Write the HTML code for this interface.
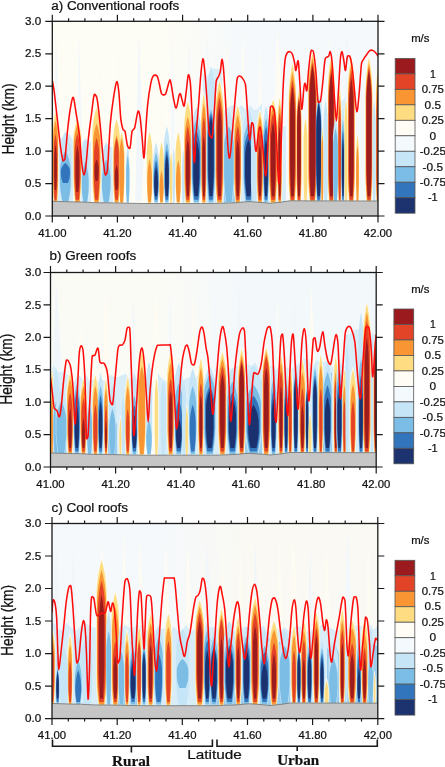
<!DOCTYPE html>
<html><head><meta charset="utf-8"><style>
html,body{margin:0;padding:0;background:#fff;}
svg{display:block;will-change:transform;}
</style></head><body>
<svg width="445" height="767" viewBox="0 0 445 767">
<style>text{fill:#111;stroke:#111;stroke-width:0.22px;}</style>
<defs><filter id="blur" x="-5%" y="-5%" width="110%" height="110%"><feGaussianBlur stdDeviation="0.6"/></filter></defs>
<rect width="445" height="767" fill="#fff"/>
<clipPath id="clipa"><rect x="52.3" y="21.3" width="325.7" height="194.7"/></clipPath>
<g clip-path="url(#clipa)">
<linearGradient id="bga" x1="0" x2="1" y1="0" y2="0"><stop offset="0.35" stop-color="#fdfcf5"/><stop offset="0.6" stop-color="#f5f9fc"/></linearGradient>
<rect x="52.3" y="21.3" width="325.7" height="194.7" fill="url(#bga)"/>
<path d="M55.7,30.3 L60.8,157.6 L58.3,201.3 L52.3,201.3Z" fill="#f3f8fc"/>
<path d="M79.0,33.9 L82.5,157.6 L80.8,201.3 L76.6,201.3Z" fill="#f3f8fc"/>
<path d="M99.4,24.1 L102.4,157.6 L100.9,201.3 L97.4,201.3Z" fill="#fefcf2"/>
<path d="M118.6,33.2 L126.4,157.6 L122.5,201.3 L113.5,201.3Z" fill="#fefcf2"/>
<path d="M138.7,33.8 L143.8,157.6 L141.3,201.3 L135.3,201.3Z" fill="#f1f6fb"/>
<path d="M161.2,25.1 L163.9,157.6 L162.6,201.3 L159.3,201.3Z" fill="#fefcf2"/>
<path d="M172.3,27.8 L174.9,157.6 L173.6,201.3 L170.6,201.3Z" fill="#f3f8fc"/>
<path d="M189.1,34.1 L192.7,157.6 L190.9,201.3 L186.7,201.3Z" fill="#f1f6fb"/>
<path d="M207.4,34.4 L213.8,157.6 L210.6,201.3 L203.2,201.3Z" fill="#f3f8fc"/>
<path d="M226.7,35.5 L232.4,157.6 L229.6,201.3 L222.9,201.3Z" fill="#fefcf2"/>
<path d="M242.7,21.9 L246.5,157.6 L244.6,201.3 L240.2,201.3Z" fill="#fefcf2"/>
<path d="M259.9,38.2 L263.0,157.6 L261.5,201.3 L257.9,201.3Z" fill="#fefcf2"/>
<path d="M277.2,25.6 L285.4,157.6 L281.3,201.3 L271.8,201.3Z" fill="#fefcf2"/>
<path d="M304.1,40.9 L306.8,157.6 L305.4,201.3 L302.3,201.3Z" fill="#f3f8fc"/>
<path d="M317.6,36.9 L320.5,157.6 L319.1,201.3 L315.8,201.3Z" fill="#f1f6fb"/>
<path d="M329.5,21.6 L332.4,157.6 L330.9,201.3 L327.5,201.3Z" fill="#fefcf2"/>
<path d="M346.8,26.2 L354.8,157.6 L350.8,201.3 L341.6,201.3Z" fill="#f1f6fb"/>
<path d="M361.1,24.9 L363.9,157.6 L362.5,201.3 L359.3,201.3Z" fill="#f3f8fc"/>
<path d="M378.7,41.0 L383.8,157.6 L381.2,201.3 L375.3,201.3Z" fill="#f1f6fb"/>
<g filter="url(#blur)">
<path d="M57.0,204.3 L57.0,132.6 L61.0,138.1 L65.0,141.8 L69.0,132.8 L73.0,140.7 L73.0,204.3Z" fill="#d8edf8"/>
<path d="M80.0,204.3 L80.0,144.8 L85.5,139.0 L91.0,142.1 L91.0,204.3Z" fill="#d8edf8"/>
<path d="M100.0,204.3 L100.0,143.1 L104.3,149.8 L108.7,145.9 L113.0,147.5 L113.0,204.3Z" fill="#d8edf8"/>
<path d="M203.0,204.3 L203.0,73.7 L207.8,75.8 L212.5,68.5 L217.2,68.7 L222.0,70.3 L222.0,204.3Z" fill="#d8edf8"/>
<path d="M222.0,204.3 L222.0,112.0 L226.0,108.8 L230.0,106.2 L234.0,105.1 L238.0,107.2 L242.0,105.3 L246.0,109.9 L250.0,105.3 L254.0,110.0 L258.0,109.0 L262.0,103.3 L262.0,204.3Z" fill="#d8edf8"/>
<path d="M262.0,204.3 L262.0,133.0 L266.0,132.1 L270.0,132.4 L274.0,131.1 L278.0,129.6 L282.0,128.0 L286.0,125.5 L286.0,204.3Z" fill="#d8edf8"/>
<path d="M224.0,204.3 L224.0,132.8 L228.0,133.9 L232.0,134.8 L236.0,131.1 L236.0,204.3Z" fill="#9ccdec"/>
<path d="M312.0,204.3 L312.0,91.1 L317.0,99.1 L322.0,100.7 L322.0,204.3Z" fill="#d8edf8"/>
<path d="M340.0,204.3 L340.0,101.9 L343.0,100.6 L346.0,96.3 L346.0,204.3Z" fill="#d8edf8"/>
<path d="M55.5,109.3 56.4,113.0 57.1,116.8 57.7,120.5 58.2,124.2 58.6,128.0 58.8,131.7 58.9,135.4 58.9,181.8 58.6,189.1 58.0,196.5 57.3,203.8 53.7,203.8 53.0,196.5 52.4,189.1 52.1,181.8 52.1,135.4 52.2,131.7 52.4,128.0 52.8,124.2 53.3,120.5 53.9,116.8 54.6,113.0 55.5,109.3Z" fill="#fefcf2"/>
<path d="M77.4,116.0 78.7,119.6 79.6,123.1 80.4,126.7 81.0,130.3 81.5,133.9 81.8,137.4 81.9,141.0 81.9,181.8 81.5,189.1 80.8,196.5 79.9,203.8 74.9,203.8 74.0,196.5 73.3,189.1 72.9,181.8 72.9,141.0 73.0,137.4 73.3,133.9 73.8,130.3 74.4,126.7 75.2,123.1 76.1,119.6 77.4,116.0Z" fill="#fefcf2"/>
<path d="M96.6,104.9 97.9,108.8 98.9,112.7 99.7,116.6 100.4,120.5 100.9,124.4 101.2,128.3 101.3,132.2 101.3,181.8 100.9,189.1 100.1,196.5 99.2,203.8 94.0,203.8 93.1,196.5 92.3,189.1 91.9,181.8 91.9,132.2 92.0,128.3 92.3,124.4 92.8,120.5 93.5,116.6 94.3,112.7 95.3,108.8 96.6,104.9Z" fill="#fefcf2"/>
<path d="M116.6,116.4 117.7,120.0 118.6,123.5 119.3,127.1 119.9,130.7 120.3,134.3 120.5,137.8 120.6,141.4 120.6,181.8 120.3,189.1 119.6,196.5 118.8,203.8 114.4,203.8 113.6,196.5 112.9,189.1 112.6,181.8 112.6,141.4 112.7,137.8 112.9,134.3 113.3,130.7 113.9,127.1 114.6,123.5 115.5,120.0 116.6,116.4Z" fill="#fefcf2"/>
<path d="M121.7,129.2 122.6,132.8 123.3,136.3 123.9,139.9 124.3,143.5 124.7,147.1 124.9,150.6 125.0,154.2 125.0,181.8 124.7,189.1 124.1,196.5 123.5,203.8 119.8,203.8 119.2,196.5 118.6,189.1 118.3,181.8 118.3,154.2 118.4,150.6 118.6,147.1 119.0,143.5 119.4,139.9 120.0,136.3 120.7,132.8 121.7,129.2Z" fill="#fefcf2"/>
<path d="M149.6,129.2 150.5,132.8 151.2,136.3 151.8,139.9 152.3,143.5 152.7,147.1 152.9,150.6 153.0,154.2 153.0,181.8 152.7,189.1 152.1,196.5 151.4,203.8 147.8,203.8 147.1,196.5 146.5,189.1 146.2,181.8 146.2,154.2 146.3,150.6 146.5,147.1 146.9,143.5 147.4,139.9 148.0,136.3 148.7,132.8 149.6,129.2Z" fill="#fefcf2"/>
<path d="M161.5,139.3 162.3,142.9 163.0,146.4 163.5,150.0 163.9,153.6 164.2,157.2 164.4,160.7 164.5,164.3 164.5,181.8 164.2,189.1 163.7,196.5 163.1,203.8 159.9,203.8 159.3,196.5 158.8,189.1 158.5,181.8 158.5,164.3 158.6,160.7 158.8,157.2 159.1,153.6 159.5,150.0 160.0,146.4 160.7,142.9 161.5,139.3Z" fill="#fefcf2"/>
<path d="M171.1,149.3 171.6,152.9 172.0,156.4 172.4,160.0 172.7,163.6 172.9,167.2 173.0,170.7 173.0,174.3 173.0,184.7 172.9,191.1 172.6,197.4 172.2,203.8 170.0,203.8 169.6,197.4 169.3,191.1 169.2,184.7 169.2,174.3 169.2,170.7 169.3,167.2 169.5,163.6 169.8,160.0 170.2,156.4 170.6,152.9 171.1,149.3Z" fill="#fefcf2"/>
<path d="M178.2,129.2 179.2,132.8 179.9,136.3 180.5,139.9 180.9,143.5 181.3,147.1 181.5,150.6 181.6,154.2 181.6,181.8 181.3,189.1 180.7,196.5 180.1,203.8 176.4,203.8 175.8,196.5 175.2,189.1 174.9,181.8 174.9,154.2 175.0,150.6 175.2,147.1 175.6,143.5 176.0,139.9 176.6,136.3 177.3,132.8 178.2,129.2Z" fill="#fefcf2"/>
<path d="M187.8,98.7 189.0,102.8 189.9,107.0 190.6,111.1 191.2,115.2 191.7,119.3 191.9,123.5 192.0,127.6 192.0,181.8 191.6,189.1 191.0,196.5 190.1,203.8 185.5,203.8 184.6,196.5 184.0,189.1 183.6,181.8 183.6,127.6 183.7,123.5 183.9,119.3 184.4,115.2 185.0,111.1 185.7,107.0 186.6,102.8 187.8,98.7Z" fill="#fefcf2"/>
<path d="M203.8,91.0 204.8,95.4 205.5,99.8 206.1,104.2 206.5,108.7 206.9,113.1 207.1,117.5 207.2,121.9 207.2,181.8 206.9,189.1 206.3,196.5 205.7,203.8 202.0,203.8 201.4,196.5 200.8,189.1 200.5,181.8 200.5,121.9 200.6,117.5 200.8,113.1 201.2,108.7 201.6,104.2 202.2,99.8 202.9,95.4 203.8,91.0Z" fill="#fefcf2"/>
<path d="M219.5,77.8 220.8,82.7 221.8,87.6 222.6,92.5 223.3,97.4 223.8,102.3 224.1,107.2 224.2,112.1 224.2,181.8 223.8,189.1 223.0,196.5 222.1,203.8 217.0,203.8 216.0,196.5 215.3,189.1 214.9,181.8 214.9,112.1 215.0,107.2 215.3,102.3 215.7,97.4 216.4,92.5 217.2,87.6 218.2,82.7 219.5,77.8Z" fill="#fefcf2"/>
<path d="M237.8,102.4 238.9,106.4 239.8,110.4 240.5,114.4 241.1,118.4 241.6,122.4 241.8,126.3 241.9,130.3 241.9,181.8 241.6,189.1 240.9,196.5 240.0,203.8 235.5,203.8 234.6,196.5 233.9,189.1 233.6,181.8 233.6,130.3 233.7,126.3 233.9,122.4 234.4,118.4 235.0,114.4 235.7,110.4 236.6,106.4 237.8,102.4Z" fill="#fefcf2"/>
<path d="M259.9,108.0 260.9,111.8 261.7,115.6 262.4,119.3 262.9,123.1 263.3,126.9 263.6,130.7 263.6,134.5 263.6,181.8 263.3,189.1 262.7,196.5 262.0,203.8 257.8,203.8 257.1,196.5 256.5,189.1 256.2,181.8 256.2,134.5 256.2,130.7 256.5,126.9 256.9,123.1 257.4,119.3 258.1,115.6 258.9,111.8 259.9,108.0Z" fill="#fefcf2"/>
<path d="M273.1,96.7 274.4,100.9 275.4,105.1 276.3,109.3 276.9,113.5 277.4,117.7 277.7,121.9 277.8,126.1 277.8,181.8 277.4,189.1 276.7,196.5 275.7,203.8 270.6,203.8 269.6,196.5 268.9,189.1 268.5,181.8 268.5,126.1 268.6,121.9 268.9,117.7 269.4,113.5 270.0,109.3 270.9,105.1 271.9,100.9 273.1,96.7Z" fill="#fefcf2"/>
<path d="M279.7,94.8 280.5,99.1 281.1,103.3 281.6,107.6 282.0,111.9 282.2,116.2 282.4,120.4 282.5,124.7 282.5,181.8 282.2,189.1 281.8,196.5 281.2,203.8 278.2,203.8 277.6,196.5 277.2,189.1 276.9,181.8 276.9,124.7 277.0,120.4 277.2,116.2 277.4,111.9 277.8,107.6 278.3,103.3 278.9,99.1 279.7,94.8Z" fill="#fefcf2"/>
<path d="M292.4,61.0 293.7,66.5 294.6,72.1 295.4,77.6 296.0,83.1 296.4,88.6 296.7,94.2 296.8,99.7 296.8,181.8 296.4,189.1 295.7,196.5 294.8,203.8 290.1,203.8 289.2,196.5 288.5,189.1 288.1,181.8 288.1,99.7 288.2,94.2 288.5,88.6 288.9,83.1 289.5,77.6 290.3,72.1 291.2,66.5 292.4,61.0Z" fill="#fefcf2"/>
<path d="M299.0,87.0 299.9,91.6 300.5,96.1 301.1,100.7 301.5,105.3 301.8,109.8 302.0,114.4 302.1,118.9 302.1,181.8 301.8,189.1 301.3,196.5 300.7,203.8 297.3,203.8 296.7,196.5 296.2,189.1 295.9,181.8 295.9,118.9 296.0,114.4 296.2,109.8 296.5,105.3 296.9,100.7 297.5,96.1 298.1,91.6 299.0,87.0Z" fill="#fefcf2"/>
<path d="M305.5,115.0 306.2,118.6 306.7,122.1 307.2,125.7 307.5,129.3 307.8,132.9 307.9,136.4 308.0,140.0 308.0,181.8 307.8,189.1 307.4,196.5 306.9,203.8 304.1,203.8 303.6,196.5 303.2,189.1 303.0,181.8 303.0,140.0 303.1,136.4 303.2,132.9 303.5,129.3 303.8,125.7 304.3,122.1 304.8,118.6 305.5,115.0Z" fill="#fefcf2"/>
<path d="M312.5,50.3 313.9,55.9 314.9,61.4 315.8,67.0 316.5,72.6 317.0,78.2 317.3,83.7 317.4,89.3 317.4,181.8 317.0,189.1 316.2,196.5 315.2,203.8 309.8,203.8 308.8,196.5 308.0,189.1 307.6,181.8 307.6,89.3 307.7,83.7 308.0,78.2 308.5,72.6 309.2,67.0 310.1,61.4 311.1,55.9 312.5,50.3Z" fill="#fefcf2"/>
<path d="M322.2,125.0 322.7,128.6 323.1,132.1 323.4,135.7 323.7,139.3 323.9,142.9 324.0,146.4 324.0,150.0 324.0,181.8 323.9,189.1 323.6,196.5 323.2,203.8 321.3,203.8 320.9,196.5 320.6,189.1 320.5,181.8 320.5,150.0 320.5,146.4 320.6,142.9 320.8,139.3 321.1,135.7 321.4,132.1 321.8,128.6 322.2,125.0Z" fill="#fefcf2"/>
<path d="M331.4,52.4 332.5,58.0 333.4,63.5 334.1,69.1 334.6,74.7 335.1,80.3 335.3,85.8 335.4,91.4 335.4,181.8 335.1,189.1 334.4,196.5 333.6,203.8 329.1,203.8 328.3,196.5 327.6,189.1 327.3,181.8 327.3,91.4 327.4,85.8 327.6,80.3 328.1,74.7 328.6,69.1 329.3,63.5 330.2,58.0 331.4,52.4Z" fill="#fefcf2"/>
<path d="M339.7,83.7 340.3,88.4 340.8,93.1 341.2,97.8 341.5,102.4 341.7,107.1 341.9,111.8 341.9,116.5 341.9,181.8 341.7,189.1 341.4,196.5 340.9,203.8 338.5,203.8 338.0,196.5 337.7,189.1 337.5,181.8 337.5,116.5 337.5,111.8 337.7,107.1 337.9,102.4 338.2,97.8 338.6,93.1 339.1,88.4 339.7,83.7Z" fill="#fefcf2"/>
<path d="M346.1,97.0 346.6,101.2 347.1,105.4 347.4,109.6 347.7,113.8 347.9,118.0 348.1,122.1 348.1,126.3 348.1,181.8 347.9,189.1 347.6,196.5 347.2,203.8 344.9,203.8 344.5,196.5 344.2,189.1 344.0,181.8 344.0,126.3 344.0,122.1 344.2,118.0 344.4,113.8 344.7,109.6 345.0,105.4 345.5,101.2 346.1,97.0Z" fill="#fefcf2"/>
<path d="M351.3,54.5 352.4,60.1 353.3,65.6 354.1,71.2 354.6,76.8 355.1,82.4 355.3,87.9 355.4,93.5 355.4,181.8 355.1,189.1 354.4,196.5 353.6,203.8 349.0,203.8 348.2,196.5 347.5,189.1 347.2,181.8 347.2,93.5 347.3,87.9 347.5,82.4 348.0,76.8 348.5,71.2 349.3,65.6 350.2,60.1 351.3,54.5Z" fill="#fefcf2"/>
<path d="M357.5,131.6 358.1,135.2 358.5,138.7 358.9,142.3 359.1,145.9 359.4,149.5 359.5,153.0 359.5,156.6 359.5,181.8 359.3,189.1 359.0,196.5 358.6,203.8 356.4,203.8 356.0,196.5 355.7,189.1 355.5,181.8 355.5,156.6 355.5,153.0 355.6,149.5 355.9,145.9 356.1,142.3 356.5,138.7 356.9,135.2 357.5,131.6Z" fill="#fefcf2"/>
<path d="M369.0,54.5 370.1,60.1 371.0,65.6 371.7,71.2 372.2,76.8 372.7,82.4 372.9,87.9 373.0,93.5 373.0,181.8 372.7,189.1 372.0,196.5 371.2,203.8 366.7,203.8 365.9,196.5 365.2,189.1 364.9,181.8 364.9,93.5 365.0,87.9 365.2,82.4 365.7,76.8 366.2,71.2 366.9,65.6 367.8,60.1 369.0,54.5Z" fill="#fefcf2"/>
<path d="M377.9,62.8 378.6,68.3 379.2,73.7 379.6,79.2 380.0,84.6 380.3,90.1 380.4,95.6 380.5,101.0 380.5,181.8 380.3,189.1 379.9,196.5 379.3,203.8 376.4,203.8 375.9,196.5 375.5,189.1 375.3,181.8 375.3,101.0 375.3,95.6 375.5,90.1 375.8,84.6 376.1,79.2 376.6,73.7 377.1,68.3 377.9,62.8Z" fill="#fefcf2"/>
<path d="M55.5,112.3 56.3,115.6 56.9,118.9 57.3,122.2 57.7,125.5 58.0,128.8 58.2,132.1 58.3,135.4 58.3,181.8 58.0,189.1 57.6,196.5 57.0,203.8 54.0,203.8 53.4,196.5 53.0,189.1 52.7,181.8 52.7,135.4 52.8,132.1 53.0,128.8 53.3,125.5 53.7,122.2 54.1,118.9 54.7,115.6 55.5,112.3Z" fill="#fddc82"/>
<path d="M55.5,120.5 56.2,123.5 56.7,126.5 57.2,129.5 57.5,132.5 57.8,135.5 57.9,138.5 58.0,141.5 58.0,176.3 57.8,185.0 57.4,193.6 56.9,202.3 54.1,202.3 53.6,193.6 53.2,185.0 53.0,176.3 53.0,141.5 53.1,138.5 53.2,135.5 53.5,132.5 53.8,129.5 54.3,126.5 54.8,123.5 55.5,120.5Z" fill="#f99532"/>
<path d="M55.5,134.0 56.0,136.6 56.4,139.1 56.8,141.7 57.0,144.3 57.2,146.9 57.3,149.4 57.4,152.0 57.4,176.8 57.2,184.4 56.9,192.1 56.5,199.8 54.5,199.8 54.1,192.1 53.8,184.4 53.6,176.8 53.6,152.0 53.7,149.4 53.8,146.9 54.0,144.3 54.2,141.7 54.6,139.1 55.0,136.6 55.5,134.0Z" fill="#e34327"/>
<path d="M55.5,145.0 55.9,147.6 56.2,150.1 56.4,152.7 56.6,155.3 56.7,157.9 56.8,160.4 56.8,163.0 56.8,174.2 56.7,179.5 56.5,184.8 56.2,190.0 54.8,190.0 54.5,184.8 54.3,179.5 54.2,174.2 54.2,163.0 54.2,160.4 54.3,157.9 54.4,155.3 54.6,152.7 54.8,150.1 55.1,147.6 55.5,145.0Z" fill="#9a1a1e"/>
<path d="M65.4,131.5 67.1,134.6 68.4,137.8 69.5,140.9 70.3,144.1 71.0,147.2 71.4,150.4 71.5,153.5 71.5,181.8 71.0,189.1 70.0,196.5 68.7,203.8 62.1,203.8 60.8,196.5 59.8,189.1 59.3,181.8 59.3,153.5 59.4,150.4 59.8,147.2 60.5,144.1 61.3,140.9 62.4,137.8 63.7,134.6 65.4,131.5Z" fill="#c6e6f7"/>
<path d="M65.4,150.6 66.9,153.5 68.0,156.3 69.0,159.2 69.7,162.0 70.3,164.9 70.6,167.7 70.7,170.6 70.7,184.2 70.3,190.2 69.4,196.3 68.3,202.3 62.5,202.3 61.4,196.3 60.5,190.2 60.1,184.2 60.1,170.6 60.2,167.7 60.5,164.9 61.1,162.0 61.8,159.2 62.8,156.3 63.9,153.5 65.4,150.6Z" fill="#7bbde6"/>
<path d="M65.4,163.0 66.7,164.1 67.6,165.3 68.4,166.4 69.1,167.6 69.6,168.7 69.8,169.9 69.9,171.0 69.9,176.0 69.5,178.3 68.8,180.7 67.9,183.0 62.9,183.0 62.0,180.7 61.3,178.3 60.9,176.0 60.9,171.0 61.0,169.9 61.2,168.7 61.7,167.6 62.4,166.4 63.2,165.3 64.1,164.1 65.4,163.0Z" fill="#3375bd"/>
<path d="M77.4,119.0 78.5,122.1 79.3,125.3 80.0,128.4 80.6,131.6 81.0,134.7 81.2,137.9 81.3,141.0 81.3,181.8 81.0,189.1 80.3,196.5 79.5,203.8 75.3,203.8 74.5,196.5 73.8,189.1 73.5,181.8 73.5,141.0 73.6,137.9 73.8,134.7 74.2,131.6 74.8,128.4 75.5,125.3 76.3,122.1 77.4,119.0Z" fill="#fddc82"/>
<path d="M77.4,124.6 78.4,127.5 79.1,130.3 79.8,133.2 80.3,136.0 80.7,138.9 80.9,141.7 81.0,144.6 81.0,176.3 80.6,185.0 80.1,193.6 79.4,202.3 75.4,202.3 74.7,193.6 74.2,185.0 73.8,176.3 73.8,144.6 73.9,141.7 74.1,138.9 74.5,136.0 75.0,133.2 75.7,130.3 76.4,127.5 77.4,124.6Z" fill="#f99532"/>
<path d="M77.4,134.0 78.2,136.6 78.8,139.1 79.3,141.7 79.7,144.3 80.0,146.9 80.2,149.4 80.3,152.0 80.3,176.8 80.0,184.4 79.6,192.1 79.0,199.8 75.8,199.8 75.2,192.1 74.8,184.4 74.5,176.8 74.5,152.0 74.6,149.4 74.8,146.9 75.1,144.3 75.5,141.7 76.0,139.1 76.6,136.6 77.4,134.0Z" fill="#e34327"/>
<path d="M77.4,145.0 77.9,147.7 78.3,150.4 78.7,153.1 78.9,155.7 79.1,158.4 79.3,161.1 79.3,163.8 79.3,175.6 79.1,181.0 78.8,186.5 78.4,192.0 76.4,192.0 76.0,186.5 75.7,181.0 75.5,175.6 75.5,163.8 75.5,161.1 75.7,158.4 75.9,155.7 76.1,153.1 76.5,150.4 76.9,147.7 77.4,145.0Z" fill="#9a1a1e"/>
<path d="M85.2,138.0 86.3,141.1 87.2,144.3 87.9,147.4 88.4,150.6 88.9,153.7 89.1,156.9 89.2,160.0 89.2,181.8 88.8,189.1 88.2,196.5 87.4,203.8 83.1,203.8 82.3,196.5 81.7,189.1 81.3,181.8 81.3,160.0 81.4,156.9 81.6,153.7 82.1,150.6 82.6,147.4 83.3,144.3 84.2,141.1 85.2,138.0Z" fill="#c6e6f7"/>
<path d="M85.2,161.5 86.2,164.4 86.9,167.2 87.5,170.1 88.0,172.9 88.4,175.8 88.6,178.6 88.7,181.5 88.7,188.0 88.4,192.8 87.8,197.5 87.1,202.3 83.4,202.3 82.7,197.5 82.1,192.8 81.8,188.0 81.8,181.5 81.9,178.6 82.1,175.8 82.5,172.9 83.0,170.1 83.6,167.2 84.3,164.4 85.2,161.5Z" fill="#7bbde6"/>
<path d="M96.6,107.9 97.7,111.4 98.6,114.8 99.3,118.3 99.9,121.8 100.3,125.2 100.6,128.7 100.7,132.2 100.7,181.8 100.3,189.1 99.7,196.5 98.8,203.8 94.4,203.8 93.5,196.5 92.9,189.1 92.5,181.8 92.5,132.2 92.6,128.7 92.9,125.2 93.3,121.8 93.9,118.3 94.6,114.8 95.5,111.4 96.6,107.9Z" fill="#fddc82"/>
<path d="M96.6,123.6 97.6,126.5 98.4,129.4 99.0,132.3 99.5,135.1 99.9,138.0 100.1,140.9 100.2,143.8 100.2,176.3 99.9,185.0 99.3,193.6 98.6,202.3 94.6,202.3 93.9,193.6 93.3,185.0 93.0,176.3 93.0,143.8 93.1,140.9 93.3,138.0 93.7,135.1 94.2,132.3 94.8,129.4 95.6,126.5 96.6,123.6Z" fill="#f99532"/>
<path d="M96.6,138.0 97.4,140.6 97.9,143.1 98.4,145.7 98.8,148.3 99.1,150.9 99.2,153.4 99.3,156.0 99.3,178.2 99.1,185.4 98.6,192.6 98.1,199.8 95.1,199.8 94.6,192.6 94.1,185.4 93.9,178.2 93.9,156.0 94.0,153.4 94.1,150.9 94.4,148.3 94.8,145.7 95.3,143.1 95.8,140.6 96.6,138.0Z" fill="#e34327"/>
<path d="M96.6,159.5 97.2,160.7 97.6,162.0 97.9,163.2 98.2,164.4 98.4,165.6 98.6,166.9 98.6,168.1 98.6,173.5 98.4,176.0 98.1,178.5 97.7,181.0 95.5,181.0 95.1,178.5 94.8,176.0 94.6,173.5 94.6,168.1 94.6,166.9 94.8,165.6 95.0,164.4 95.3,163.2 95.6,162.0 96.0,160.7 96.6,159.5Z" fill="#9a1a1e"/>
<path d="M106.2,142.0 107.6,145.1 108.7,148.3 109.5,151.4 110.2,154.6 110.7,157.7 111.0,160.9 111.1,164.0 111.1,182.2 110.7,189.4 109.9,196.6 108.9,203.8 103.6,203.8 102.6,196.6 101.8,189.4 101.4,182.2 101.4,164.0 101.5,160.9 101.8,157.7 102.3,154.6 103.0,151.4 103.8,148.3 104.9,145.1 106.2,142.0Z" fill="#c6e6f7"/>
<path d="M106.2,159.5 107.4,162.4 108.3,165.2 109.1,168.1 109.7,170.9 110.1,173.8 110.4,176.6 110.5,179.5 110.5,187.3 110.1,192.3 109.5,197.3 108.6,202.3 103.9,202.3 103.0,197.3 102.4,192.3 102.0,187.3 102.0,179.5 102.1,176.6 102.4,173.8 102.8,170.9 103.4,168.1 104.2,165.2 105.1,162.4 106.2,159.5Z" fill="#7bbde6"/>
<path d="M116.6,119.4 117.6,122.5 118.3,125.7 118.9,128.8 119.4,132.0 119.7,135.1 119.9,138.3 120.0,141.4 120.0,181.8 119.7,189.1 119.2,196.5 118.5,203.8 114.7,203.8 114.0,196.5 113.5,189.1 113.2,181.8 113.2,141.4 113.3,138.3 113.5,135.1 113.8,132.0 114.3,128.8 114.9,125.7 115.6,122.5 116.6,119.4Z" fill="#fddc82"/>
<path d="M116.6,135.0 117.4,137.9 118.1,140.7 118.6,143.6 119.0,146.4 119.3,149.3 119.5,152.1 119.6,155.0 119.6,178.7 119.3,186.6 118.8,194.4 118.2,202.3 115.0,202.3 114.4,194.4 113.9,186.6 113.6,178.7 113.6,155.0 113.7,152.1 113.9,149.3 114.2,146.4 114.6,143.6 115.1,140.7 115.8,137.9 116.6,135.0Z" fill="#f99532"/>
<path d="M116.6,138.0 117.3,140.6 117.8,143.1 118.2,145.7 118.5,148.3 118.8,150.9 118.9,153.4 119.0,156.0 119.0,178.2 118.8,185.4 118.4,192.6 117.9,199.8 115.3,199.8 114.8,192.6 114.4,185.4 114.2,178.2 114.2,156.0 114.3,153.4 114.4,150.9 114.7,148.3 115.0,145.7 115.4,143.1 115.9,140.6 116.6,138.0Z" fill="#e34327"/>
<path d="M116.6,165.0 117.1,166.4 117.4,167.9 117.7,169.3 118.0,170.7 118.1,172.1 118.2,173.6 118.3,175.0 118.3,181.2 118.1,184.2 117.9,187.1 117.5,190.0 115.7,190.0 115.3,187.1 115.1,184.2 114.9,181.2 114.9,175.0 115.0,173.6 115.1,172.1 115.2,170.7 115.5,169.3 115.8,167.9 116.1,166.4 116.6,165.0Z" fill="#9a1a1e"/>
<path d="M121.7,132.2 122.4,135.3 123.0,138.5 123.5,141.6 123.8,144.8 124.1,147.9 124.3,151.1 124.4,154.2 124.4,181.8 124.1,189.1 123.7,196.5 123.1,203.8 120.2,203.8 119.6,196.5 119.2,189.1 118.9,181.8 118.9,154.2 119.0,151.1 119.2,147.9 119.5,144.8 119.8,141.6 120.3,138.5 120.9,135.3 121.7,132.2Z" fill="#fddc82"/>
<path d="M121.7,138.0 122.3,140.9 122.9,143.7 123.3,146.6 123.6,149.4 123.9,152.3 124.1,155.1 124.1,158.0 124.1,179.8 123.9,187.3 123.5,194.8 123.0,202.3 120.3,202.3 119.8,194.8 119.4,187.3 119.2,179.8 119.2,158.0 119.2,155.1 119.4,152.3 119.7,149.4 120.0,146.6 120.4,143.7 121.0,140.9 121.7,138.0Z" fill="#f99532"/>
<path d="M127.8,145.0 128.3,148.1 128.7,151.3 129.0,154.4 129.2,157.6 129.4,160.7 129.5,163.9 129.6,167.0 129.6,183.2 129.4,190.1 129.1,196.9 128.8,203.8 126.7,203.8 126.4,196.9 126.1,190.1 125.9,183.2 125.9,167.0 126.0,163.9 126.1,160.7 126.3,157.6 126.5,154.4 126.8,151.3 127.2,148.1 127.8,145.0Z" fill="#c6e6f7"/>
<path d="M127.8,155.0 128.2,157.9 128.6,160.7 128.9,163.6 129.1,166.4 129.3,169.3 129.4,172.1 129.4,175.0 129.4,185.7 129.3,191.3 129.0,196.8 128.7,202.3 126.8,202.3 126.5,196.8 126.2,191.3 126.1,185.7 126.1,175.0 126.1,172.1 126.2,169.3 126.4,166.4 126.6,163.6 126.9,160.7 127.3,157.9 127.8,155.0Z" fill="#7bbde6"/>
<path d="M149.6,132.2 150.4,135.3 151.0,138.5 151.4,141.6 151.8,144.8 152.1,147.9 152.3,151.1 152.4,154.2 152.4,181.8 152.1,189.1 151.7,196.5 151.1,203.8 148.1,203.8 147.5,196.5 147.1,189.1 146.8,181.8 146.8,154.2 146.9,151.1 147.1,147.9 147.4,144.8 147.8,141.6 148.2,138.5 148.8,135.3 149.6,132.2Z" fill="#fddc82"/>
<path d="M149.6,159.0 150.2,161.9 150.7,164.7 151.1,167.6 151.5,170.4 151.7,173.3 151.8,176.1 151.9,179.0 151.9,187.1 151.7,192.2 151.3,197.2 150.9,202.3 148.3,202.3 147.9,197.2 147.5,192.2 147.3,187.1 147.3,179.0 147.4,176.1 147.5,173.3 147.7,170.4 148.1,167.6 148.5,164.7 149.0,161.9 149.6,159.0Z" fill="#f99532"/>
<path d="M156.1,142.3 156.9,145.4 157.6,148.6 158.1,151.7 158.6,154.9 158.9,158.0 159.1,161.2 159.1,164.3 159.1,182.3 158.9,189.5 158.4,196.6 157.8,203.8 154.4,203.8 153.8,196.6 153.3,189.5 153.1,182.3 153.1,164.3 153.1,161.2 153.3,158.0 153.6,154.9 154.1,151.7 154.6,148.6 155.3,145.4 156.1,142.3Z" fill="#c6e6f7"/>
<path d="M156.1,152.3 156.9,155.2 157.5,158.0 157.9,160.9 158.3,163.7 158.6,166.6 158.8,169.4 158.9,172.3 158.9,184.8 158.6,190.6 158.2,196.5 157.6,202.3 154.6,202.3 154.0,196.5 153.6,190.6 153.3,184.8 153.3,172.3 153.4,169.4 153.6,166.6 153.9,163.7 154.3,160.9 154.7,158.0 155.3,155.2 156.1,152.3Z" fill="#7bbde6"/>
<path d="M156.1,160.0 156.7,162.6 157.2,165.1 157.6,167.7 157.9,170.3 158.2,172.9 158.3,175.4 158.4,178.0 158.4,185.9 158.2,190.5 157.8,195.2 157.3,199.8 154.9,199.8 154.4,195.2 154.0,190.5 153.8,185.9 153.8,178.0 153.9,175.4 154.0,172.9 154.3,170.3 154.6,167.7 155.0,165.1 155.5,162.6 156.1,160.0Z" fill="#3375bd"/>
<path d="M156.1,166.6 156.6,168.9 157.0,171.3 157.4,173.6 157.6,175.9 157.8,178.3 157.9,180.6 158.0,182.9 158.0,185.9 157.8,189.4 157.5,192.8 157.1,196.3 155.1,196.3 154.7,192.8 154.4,189.4 154.2,185.9 154.2,182.9 154.3,180.6 154.4,178.3 154.6,175.9 154.8,173.6 155.2,171.3 155.6,168.9 156.1,166.6Z" fill="#1c3370"/>
<path d="M161.5,142.3 162.2,145.4 162.7,148.6 163.1,151.7 163.4,154.9 163.7,158.0 163.8,161.2 163.9,164.3 163.9,182.3 163.7,189.5 163.3,196.6 162.8,203.8 160.2,203.8 159.7,196.6 159.3,189.5 159.1,182.3 159.1,164.3 159.2,161.2 159.3,158.0 159.6,154.9 159.9,151.7 160.3,148.6 160.8,145.4 161.5,142.3Z" fill="#fddc82"/>
<path d="M161.5,170.0 162.0,172.5 162.5,175.1 162.8,177.6 163.1,180.2 163.3,182.7 163.4,185.2 163.5,187.8 163.5,191.0 163.3,194.8 163.0,198.5 162.6,202.3 160.4,202.3 160.0,198.5 159.7,194.8 159.5,191.0 159.5,187.8 159.6,185.2 159.7,182.7 159.9,180.2 160.2,177.6 160.5,175.1 161.0,172.5 161.5,170.0Z" fill="#f99532"/>
<path d="M166.8,126.5 167.7,129.6 168.3,132.8 168.9,135.9 169.3,139.1 169.6,142.2 169.8,145.4 169.8,148.5 169.8,181.8 169.6,189.1 169.1,196.5 168.5,203.8 165.2,203.8 164.6,196.5 164.1,189.1 163.9,181.8 163.9,148.5 163.9,145.4 164.1,142.2 164.4,139.1 164.8,135.9 165.4,132.8 166.0,129.6 166.8,126.5Z" fill="#c6e6f7"/>
<path d="M166.8,142.3 167.6,145.2 168.2,148.0 168.6,150.9 169.0,153.7 169.3,156.6 169.5,159.4 169.5,162.3 169.5,181.3 169.3,188.3 168.9,195.3 168.3,202.3 165.4,202.3 164.8,195.3 164.4,188.3 164.2,181.3 164.2,162.3 164.2,159.4 164.4,156.6 164.7,153.7 165.1,150.9 165.5,148.0 166.1,145.2 166.8,142.3Z" fill="#7bbde6"/>
<path d="M166.8,150.0 167.5,152.6 167.9,155.1 168.3,157.7 168.7,160.3 168.9,162.9 169.0,165.4 169.1,168.0 169.1,182.4 168.9,188.2 168.5,194.0 168.1,199.8 165.6,199.8 165.2,194.0 164.8,188.2 164.6,182.4 164.6,168.0 164.7,165.4 164.8,162.9 165.0,160.3 165.4,157.7 165.8,155.1 166.2,152.6 166.8,150.0Z" fill="#3375bd"/>
<path d="M166.8,155.0 167.4,157.6 167.8,160.1 168.1,162.7 168.3,165.3 168.5,167.9 168.7,170.4 168.7,173.0 168.7,181.8 168.5,186.7 168.2,191.5 167.9,196.3 165.8,196.3 165.5,191.5 165.2,186.7 165.0,181.8 165.0,173.0 165.0,170.4 165.2,167.9 165.4,165.3 165.6,162.7 165.9,160.1 166.3,157.6 166.8,155.0Z" fill="#1c3370"/>
<path d="M171.1,152.3 171.5,155.4 171.8,158.6 172.0,161.7 172.2,164.9 172.3,168.0 172.4,171.2 172.4,174.3 172.4,185.8 172.3,191.8 172.1,197.8 171.8,203.8 170.4,203.8 170.1,197.8 169.9,191.8 169.8,185.8 169.8,174.3 169.8,171.2 169.9,168.0 170.0,164.9 170.2,161.7 170.4,158.6 170.7,155.4 171.1,152.3Z" fill="#fddc82"/>
<path d="M173.8,148.0 174.1,151.1 174.4,154.3 174.6,157.4 174.8,160.6 175.0,163.7 175.0,166.9 175.1,170.0 175.1,184.3 174.9,190.8 174.7,197.3 174.5,203.8 173.0,203.8 172.8,197.3 172.6,190.8 172.4,184.3 172.4,170.0 172.5,166.9 172.5,163.7 172.7,160.6 172.9,157.4 173.1,154.3 173.4,151.1 173.8,148.0Z" fill="#c6e6f7"/>
<path d="M178.2,132.2 179.0,135.3 179.6,138.5 180.1,141.6 180.4,144.8 180.7,147.9 180.9,151.1 181.0,154.2 181.0,181.8 180.7,189.1 180.3,196.5 179.7,203.8 176.8,203.8 176.2,196.5 175.8,189.1 175.5,181.8 175.5,154.2 175.6,151.1 175.8,147.9 176.1,144.8 176.4,141.6 176.9,138.5 177.5,135.3 178.2,132.2Z" fill="#fddc82"/>
<path d="M178.2,160.0 178.9,162.9 179.4,165.7 179.8,168.6 180.1,171.4 180.3,174.3 180.4,177.1 180.5,180.0 180.5,187.5 180.3,192.4 179.9,197.4 179.5,202.3 177.0,202.3 176.6,197.4 176.2,192.4 176.0,187.5 176.0,180.0 176.1,177.1 176.2,174.3 176.4,171.4 176.7,168.6 177.1,165.7 177.6,162.9 178.2,160.0Z" fill="#f99532"/>
<path d="M183.5,150.0 183.9,153.1 184.3,156.3 184.6,159.4 184.8,162.6 184.9,165.7 185.0,168.9 185.1,172.0 185.1,185.0 184.9,191.2 184.7,197.5 184.4,203.8 182.6,203.8 182.3,197.5 182.1,191.2 181.9,185.0 181.9,172.0 182.0,168.9 182.1,165.7 182.2,162.6 182.4,159.4 182.7,156.3 183.1,153.1 183.5,150.0Z" fill="#c6e6f7"/>
<path d="M187.8,101.7 188.8,105.4 189.6,109.1 190.2,112.8 190.7,116.5 191.1,120.2 191.3,123.9 191.4,127.6 191.4,181.8 191.1,189.1 190.5,196.5 189.8,203.8 185.8,203.8 185.1,196.5 184.5,189.1 184.2,181.8 184.2,127.6 184.3,123.9 184.5,120.2 184.9,116.5 185.4,112.8 186.0,109.1 186.8,105.4 187.8,101.7Z" fill="#fddc82"/>
<path d="M187.8,116.8 188.7,119.9 189.4,123.1 189.9,126.2 190.4,129.4 190.7,132.5 190.9,135.6 191.0,138.8 191.0,176.3 190.7,185.0 190.2,193.6 189.5,202.3 186.1,202.3 185.4,193.6 184.9,185.0 184.6,176.3 184.6,138.8 184.7,135.6 184.9,132.5 185.2,129.4 185.7,126.2 186.2,123.1 186.9,119.9 187.8,116.8Z" fill="#f99532"/>
<path d="M187.8,126.3 188.5,129.1 189.0,131.9 189.4,134.7 189.8,137.4 190.1,140.2 190.2,143.0 190.3,145.8 190.3,174.1 190.1,182.7 189.7,191.2 189.2,199.8 186.4,199.8 185.9,191.2 185.5,182.7 185.3,174.1 185.3,145.8 185.4,143.0 185.5,140.2 185.8,137.4 186.2,134.7 186.6,131.9 187.1,129.1 187.8,126.3Z" fill="#e34327"/>
<path d="M187.8,139.5 188.3,142.1 188.7,144.6 189.0,147.2 189.2,149.8 189.4,152.4 189.5,154.9 189.6,157.5 189.6,176.4 189.4,183.0 189.1,189.7 188.8,196.3 186.8,196.3 186.5,189.7 186.2,183.0 186.0,176.4 186.0,157.5 186.1,154.9 186.2,152.4 186.4,149.8 186.6,147.2 186.9,144.6 187.3,142.1 187.8,139.5Z" fill="#9a1a1e"/>
<path d="M196.3,107.3 197.7,110.8 198.7,114.3 199.6,117.8 200.3,121.3 200.8,124.8 201.1,128.2 201.2,131.7 201.2,181.8 200.8,189.1 200.0,196.5 199.0,203.8 193.6,203.8 192.6,196.5 191.8,189.1 191.4,181.8 191.4,131.7 191.5,128.2 191.8,124.8 192.3,121.3 193.0,117.8 193.9,114.3 194.9,110.8 196.3,107.3Z" fill="#c6e6f7"/>
<path d="M196.3,120.0 197.6,123.0 198.5,126.0 199.3,129.1 200.0,132.1 200.4,135.1 200.7,138.1 200.8,141.1 200.8,176.3 200.4,185.0 199.7,193.6 198.8,202.3 193.8,202.3 192.9,193.6 192.2,185.0 191.8,176.3 191.8,141.1 191.9,138.1 192.2,135.1 192.6,132.1 193.3,129.1 194.1,126.0 195.0,123.0 196.3,120.0Z" fill="#7bbde6"/>
<path d="M196.3,130.0 197.4,132.6 198.2,135.3 198.8,137.9 199.4,140.6 199.8,143.2 200.0,145.9 200.1,148.5 200.1,175.4 199.7,183.5 199.2,191.7 198.4,199.8 194.2,199.8 193.4,191.7 192.9,183.5 192.5,175.4 192.5,148.5 192.6,145.9 192.8,143.2 193.2,140.6 193.8,137.9 194.4,135.3 195.2,132.6 196.3,130.0Z" fill="#3375bd"/>
<path d="M196.3,139.5 197.1,142.1 197.8,144.6 198.3,147.2 198.8,149.8 199.1,152.4 199.3,154.9 199.3,157.5 199.3,176.4 199.1,183.0 198.6,189.7 198.0,196.3 194.6,196.3 194.0,189.7 193.5,183.0 193.3,176.4 193.3,157.5 193.3,154.9 193.5,152.4 193.8,149.8 194.3,147.2 194.8,144.6 195.5,142.1 196.3,139.5Z" fill="#1c3370"/>
<path d="M203.8,94.0 204.6,98.0 205.2,102.0 205.7,106.0 206.0,109.9 206.3,113.9 206.5,117.9 206.6,121.9 206.6,181.8 206.3,189.1 205.9,196.5 205.3,203.8 202.4,203.8 201.8,196.5 201.4,189.1 201.1,181.8 201.1,121.9 201.2,117.9 201.4,113.9 201.7,109.9 202.0,106.0 202.5,102.0 203.1,98.0 203.8,94.0Z" fill="#fddc82"/>
<path d="M203.8,103.5 204.5,107.1 205.1,110.8 205.5,114.4 205.8,118.0 206.1,121.7 206.2,125.3 206.3,128.9 206.3,176.3 206.1,185.0 205.7,193.6 205.2,202.3 202.5,202.3 202.0,193.6 201.6,185.0 201.4,176.3 201.4,128.9 201.5,125.3 201.6,121.7 201.9,118.0 202.2,114.4 202.6,110.8 203.2,107.1 203.8,103.5Z" fill="#f99532"/>
<path d="M203.8,116.8 204.4,119.9 204.8,123.1 205.1,126.2 205.4,129.4 205.6,132.5 205.7,135.6 205.8,138.8 205.8,170.8 205.6,180.4 205.3,190.1 204.9,199.8 202.8,199.8 202.4,190.1 202.1,180.4 201.9,170.8 201.9,138.8 202.0,135.6 202.1,132.5 202.3,129.4 202.6,126.2 202.9,123.1 203.3,119.9 203.8,116.8Z" fill="#e34327"/>
<path d="M203.8,135.8 204.2,138.3 204.5,140.9 204.7,143.5 204.9,146.0 205.1,148.6 205.1,151.2 205.2,153.8 205.2,175.1 205.1,182.2 204.9,189.2 204.6,196.3 203.1,196.3 202.8,189.2 202.6,182.2 202.5,175.1 202.5,153.8 202.6,151.2 202.6,148.6 202.8,146.0 203.0,143.5 203.2,140.9 203.5,138.3 203.8,135.8Z" fill="#9a1a1e"/>
<path d="M211.0,66.0 212.2,71.0 213.2,76.1 214.0,81.1 214.6,86.1 215.1,91.1 215.4,96.2 215.5,101.2 215.5,181.8 215.1,189.1 214.4,196.5 213.4,203.8 208.5,203.8 207.6,196.5 206.9,189.1 206.5,181.8 206.5,101.2 206.6,96.2 206.9,91.1 207.3,86.1 208.0,81.1 208.8,76.1 209.7,71.0 211.0,66.0Z" fill="#c6e6f7"/>
<path d="M211.0,109.2 212.1,112.6 212.9,116.0 213.6,119.5 214.2,122.9 214.6,126.3 214.8,129.7 214.9,133.1 214.9,176.3 214.6,185.0 213.9,193.6 213.1,202.3 208.8,202.3 208.0,193.6 207.4,185.0 207.1,176.3 207.1,133.1 207.1,129.7 207.4,126.3 207.8,122.9 208.4,119.5 209.0,116.0 209.9,112.6 211.0,109.2Z" fill="#7bbde6"/>
<path d="M211.0,113.0 211.9,116.3 212.6,119.6 213.2,122.8 213.7,126.1 214.0,129.4 214.2,132.7 214.3,136.0 214.3,169.8 214.0,179.8 213.5,189.8 212.8,199.8 209.1,199.8 208.5,189.8 207.9,179.8 207.6,169.8 207.6,136.0 207.7,132.7 207.9,129.4 208.3,126.1 208.7,122.8 209.3,119.6 210.0,116.3 211.0,113.0Z" fill="#3375bd"/>
<path d="M211.0,116.8 211.7,119.9 212.3,123.1 212.8,126.2 213.2,129.4 213.5,132.5 213.7,135.6 213.7,138.8 213.7,168.5 213.5,177.8 213.1,187.0 212.5,196.3 209.5,196.3 208.9,187.0 208.4,177.8 208.2,168.5 208.2,138.8 208.3,135.6 208.4,132.5 208.7,129.4 209.1,126.2 209.6,123.1 210.2,119.9 211.0,116.8Z" fill="#1c3370"/>
<path d="M219.5,80.8 220.7,85.3 221.5,89.8 222.2,94.2 222.8,98.7 223.2,103.2 223.5,107.7 223.6,112.1 223.6,181.8 223.2,189.1 222.6,196.5 221.8,203.8 217.3,203.8 216.5,196.5 215.8,189.1 215.5,181.8 215.5,112.1 215.6,107.7 215.8,103.2 216.2,98.7 216.8,94.2 217.5,89.8 218.4,85.3 219.5,80.8Z" fill="#fddc82"/>
<path d="M219.5,90.3 220.6,94.4 221.3,98.5 222.0,102.7 222.5,106.8 222.9,110.9 223.1,115.0 223.2,119.2 223.2,176.3 222.9,185.0 222.3,193.6 221.6,202.3 217.5,202.3 216.7,193.6 216.2,185.0 215.8,176.3 215.8,119.2 215.9,115.0 216.1,110.9 216.5,106.8 217.1,102.7 217.7,98.5 218.5,94.4 219.5,90.3Z" fill="#f99532"/>
<path d="M219.5,97.9 220.4,101.7 221.1,105.6 221.6,109.4 222.1,113.3 222.4,117.1 222.6,120.9 222.6,124.8 222.6,169.8 222.4,179.8 221.9,189.8 221.2,199.8 217.8,199.8 217.2,189.8 216.7,179.8 216.4,169.8 216.4,124.8 216.5,120.9 216.7,117.1 217.0,113.3 217.4,109.4 218.0,105.6 218.7,101.7 219.5,97.9Z" fill="#e34327"/>
<path d="M219.5,107.3 220.2,110.8 220.6,114.3 221.0,117.8 221.4,121.3 221.6,124.8 221.7,128.2 221.8,131.7 221.8,165.2 221.6,175.5 221.2,185.9 220.8,196.3 218.3,196.3 217.8,185.9 217.5,175.5 217.3,165.2 217.3,131.7 217.3,128.2 217.5,124.8 217.7,121.3 218.0,117.8 218.4,114.3 218.9,110.8 219.5,107.3Z" fill="#9a1a1e"/>
<path d="M228.9,111.0 230.4,114.4 231.5,117.7 232.5,121.1 233.2,124.4 233.8,127.8 234.1,131.1 234.3,134.5 234.3,181.8 233.8,189.1 232.9,196.5 231.8,203.8 226.0,203.8 224.9,196.5 224.0,189.1 223.5,181.8 223.5,134.5 223.7,131.1 224.0,127.8 224.6,124.4 225.3,121.1 226.3,117.7 227.4,114.4 228.9,111.0Z" fill="#c6e6f7"/>
<path d="M228.9,126.3 230.2,129.2 231.3,132.0 232.1,134.9 232.8,137.7 233.3,140.6 233.6,143.4 233.7,146.3 233.7,176.3 233.3,185.0 232.6,193.6 231.6,202.3 226.2,202.3 225.2,193.6 224.5,185.0 224.1,176.3 224.1,146.3 224.2,143.4 224.5,140.6 225.0,137.7 225.7,134.9 226.5,132.0 227.6,129.2 228.9,126.3Z" fill="#7bbde6"/>
<path d="M237.8,105.4 238.7,109.0 239.5,112.5 240.1,116.1 240.6,119.6 241.0,123.2 241.2,126.8 241.3,130.3 241.3,181.8 241.0,189.1 240.4,196.5 239.7,203.8 235.8,203.8 235.1,196.5 234.5,189.1 234.2,181.8 234.2,130.3 234.3,126.8 234.5,123.2 234.9,119.6 235.4,116.1 236.0,112.5 236.8,109.0 237.8,105.4Z" fill="#fddc82"/>
<path d="M237.8,114.8 238.6,118.0 239.3,121.2 239.9,124.4 240.4,127.7 240.7,130.9 240.9,134.1 241.0,137.3 241.0,176.3 240.7,185.0 240.2,193.6 239.5,202.3 236.0,202.3 235.3,193.6 234.8,185.0 234.5,176.3 234.5,137.3 234.6,134.1 234.8,130.9 235.1,127.7 235.6,124.4 236.2,121.2 236.9,118.0 237.8,114.8Z" fill="#f99532"/>
<path d="M237.8,126.2 238.5,129.0 239.0,131.8 239.4,134.6 239.8,137.4 240.1,140.1 240.2,142.9 240.3,145.7 240.3,174.0 240.0,182.6 239.7,191.2 239.1,199.8 236.4,199.8 235.8,191.2 235.5,182.6 235.2,174.0 235.2,145.7 235.3,142.9 235.4,140.1 235.7,137.4 236.1,134.6 236.5,131.8 237.0,129.0 237.8,126.2Z" fill="#e34327"/>
<path d="M237.8,139.4 238.2,142.0 238.6,144.5 238.9,147.1 239.2,149.7 239.3,152.3 239.5,154.8 239.5,157.4 239.5,176.4 239.3,183.0 239.1,189.7 238.7,196.3 236.8,196.3 236.4,189.7 236.2,183.0 236.0,176.4 236.0,157.4 236.0,154.8 236.2,152.3 236.3,149.7 236.6,147.1 236.9,144.5 237.3,142.0 237.8,139.4Z" fill="#9a1a1e"/>
<path d="M248.5,109.0 250.0,112.4 251.2,115.9 252.2,119.3 252.9,122.7 253.5,126.1 253.8,129.6 254.0,133.0 254.0,181.8 253.5,189.1 252.6,196.5 251.5,203.8 245.5,203.8 244.4,196.5 243.5,189.1 243.0,181.8 243.0,133.0 243.2,129.6 243.5,126.1 244.1,122.7 244.8,119.3 245.8,115.9 247.0,112.4 248.5,109.0Z" fill="#c6e6f7"/>
<path d="M248.5,122.4 249.9,125.3 250.9,128.3 251.8,131.2 252.5,134.1 253.1,137.1 253.4,140.0 253.5,142.9 253.5,176.3 253.0,185.0 252.3,193.6 251.2,202.3 245.8,202.3 244.7,193.6 244.0,185.0 243.5,176.3 243.5,142.9 243.6,140.0 243.9,137.1 244.5,134.1 245.2,131.2 246.1,128.3 247.1,125.3 248.5,122.4Z" fill="#7bbde6"/>
<path d="M248.5,132.0 249.7,134.6 250.5,137.1 251.3,139.7 251.9,142.3 252.3,144.9 252.6,147.4 252.7,150.0 252.7,176.1 252.3,184.0 251.6,191.9 250.8,199.8 246.2,199.8 245.4,191.9 244.7,184.0 244.3,176.1 244.3,150.0 244.4,147.4 244.7,144.9 245.1,142.3 245.7,139.7 246.5,137.1 247.3,134.6 248.5,132.0Z" fill="#3375bd"/>
<path d="M248.5,139.4 249.4,142.0 250.2,144.5 250.8,147.1 251.2,149.7 251.6,152.3 251.8,154.8 251.9,157.4 251.9,176.4 251.6,183.0 251.0,189.7 250.4,196.3 246.6,196.3 246.0,189.7 245.4,183.0 245.1,176.4 245.1,157.4 245.2,154.8 245.4,152.3 245.8,149.7 246.2,147.1 246.8,144.5 247.6,142.0 248.5,139.4Z" fill="#1c3370"/>
<path d="M253.8,125.0 254.6,128.1 255.2,131.3 255.8,134.4 256.2,137.6 256.5,140.7 256.7,143.9 256.7,147.0 256.7,181.8 256.5,189.1 256.0,196.5 255.4,203.8 252.2,203.8 251.6,196.5 251.1,189.1 250.9,181.8 250.9,147.0 250.9,143.9 251.1,140.7 251.4,137.6 251.8,134.4 252.4,131.3 253.0,128.1 253.8,125.0Z" fill="#c6e6f7"/>
<path d="M259.9,111.0 260.8,114.4 261.4,117.7 262.0,121.1 262.4,124.4 262.8,127.8 263.0,131.1 263.0,134.5 263.0,181.8 262.8,189.1 262.3,196.5 261.6,203.8 258.2,203.8 257.5,196.5 257.0,189.1 256.8,181.8 256.8,134.5 256.8,131.1 257.0,127.8 257.4,124.4 257.8,121.1 258.4,117.7 259.0,114.4 259.9,111.0Z" fill="#fddc82"/>
<path d="M259.9,117.0 260.7,120.1 261.3,123.3 261.8,126.4 262.2,129.5 262.5,132.7 262.7,135.8 262.8,138.9 262.8,176.3 262.5,185.0 262.1,193.6 261.5,202.3 258.3,202.3 257.7,193.6 257.3,185.0 257.0,176.3 257.0,138.9 257.1,135.8 257.3,132.7 257.6,129.5 258.0,126.4 258.5,123.3 259.1,120.1 259.9,117.0Z" fill="#f99532"/>
<path d="M259.9,131.8 260.5,134.4 261.0,137.0 261.4,139.5 261.7,142.1 261.9,144.7 262.0,147.3 262.1,149.9 262.1,176.0 261.9,183.9 261.5,191.9 261.1,199.8 258.7,199.8 258.3,191.9 257.9,183.9 257.7,176.0 257.7,149.9 257.8,147.3 257.9,144.7 258.1,142.1 258.4,139.5 258.8,137.0 259.3,134.4 259.9,131.8Z" fill="#e34327"/>
<path d="M259.9,145.0 260.3,147.6 260.7,150.1 260.9,152.7 261.1,155.3 261.3,157.9 261.4,160.4 261.4,163.0 261.4,178.3 261.3,184.3 261.1,190.3 260.7,196.3 259.1,196.3 258.7,190.3 258.5,184.3 258.4,178.3 258.4,163.0 258.4,160.4 258.5,157.9 258.7,155.3 258.9,152.7 259.1,150.1 259.5,147.6 259.9,145.0Z" fill="#9a1a1e"/>
<path d="M266.0,105.4 266.9,109.0 267.5,112.5 268.1,116.1 268.5,119.6 268.8,123.2 269.0,126.8 269.0,130.3 269.0,181.8 268.8,189.1 268.3,196.5 267.7,203.8 264.4,203.8 263.8,196.5 263.3,189.1 263.1,181.8 263.1,130.3 263.1,126.8 263.3,123.2 263.6,119.6 264.0,116.1 264.6,112.5 265.2,109.0 266.0,105.4Z" fill="#c6e6f7"/>
<path d="M266.0,118.0 266.8,121.1 267.4,124.2 267.9,127.3 268.3,130.4 268.6,133.5 268.7,136.6 268.8,139.7 268.8,176.3 268.6,185.0 268.1,193.6 267.6,202.3 264.5,202.3 264.0,193.6 263.5,185.0 263.3,176.3 263.3,139.7 263.4,136.6 263.5,133.5 263.8,130.4 264.2,127.3 264.7,124.2 265.3,121.1 266.0,118.0Z" fill="#7bbde6"/>
<path d="M266.0,126.2 266.7,129.0 267.2,131.8 267.6,134.6 267.9,137.4 268.2,140.1 268.3,142.9 268.4,145.7 268.4,174.0 268.2,182.6 267.8,191.2 267.3,199.8 264.8,199.8 264.3,191.2 263.9,182.6 263.7,174.0 263.7,145.7 263.8,142.9 263.9,140.1 264.2,137.4 264.5,134.6 264.9,131.8 265.4,129.0 266.0,126.2Z" fill="#3375bd"/>
<path d="M266.0,139.4 266.6,142.0 267.0,144.5 267.3,147.1 267.5,149.7 267.7,152.3 267.9,154.8 267.9,157.4 267.9,176.4 267.7,183.0 267.4,189.7 267.1,196.3 265.0,196.3 264.7,189.7 264.4,183.0 264.2,176.4 264.2,157.4 264.2,154.8 264.4,152.3 264.6,149.7 264.8,147.1 265.1,144.5 265.5,142.0 266.0,139.4Z" fill="#1c3370"/>
<path d="M273.1,99.7 274.3,103.5 275.1,107.2 275.9,111.0 276.4,114.8 276.8,118.6 277.1,122.3 277.2,126.1 277.2,181.8 276.8,189.1 276.2,196.5 275.4,203.8 270.9,203.8 270.1,196.5 269.5,189.1 269.1,181.8 269.1,126.1 269.2,122.3 269.5,118.6 269.9,114.8 270.4,111.0 271.2,107.2 272.0,103.5 273.1,99.7Z" fill="#fddc82"/>
<path d="M273.1,106.0 274.2,109.5 275.0,113.1 275.6,116.6 276.1,120.2 276.5,123.7 276.8,127.2 276.8,130.8 276.8,176.3 276.5,185.0 275.9,193.6 275.2,202.3 271.1,202.3 270.4,193.6 269.8,185.0 269.5,176.3 269.5,130.8 269.5,127.2 269.8,123.7 270.2,120.2 270.7,116.6 271.3,113.1 272.1,109.5 273.1,106.0Z" fill="#f99532"/>
<path d="M273.1,113.0 274.0,116.3 274.7,119.6 275.2,122.8 275.7,126.1 276.0,129.4 276.2,132.7 276.3,136.0 276.3,169.8 276.0,179.8 275.5,189.8 274.9,199.8 271.4,199.8 270.8,189.8 270.3,179.8 270.0,169.8 270.0,136.0 270.1,132.7 270.3,129.4 270.6,126.1 271.1,122.8 271.6,119.6 272.3,116.3 273.1,113.0Z" fill="#e34327"/>
<path d="M273.1,122.4 273.8,125.3 274.2,128.3 274.6,131.2 275.0,134.1 275.2,137.1 275.3,140.0 275.4,142.9 275.4,170.4 275.2,179.1 274.8,187.7 274.4,196.3 271.9,196.3 271.5,187.7 271.1,179.1 270.9,170.4 270.9,142.9 271.0,140.0 271.1,137.1 271.3,134.1 271.7,131.2 272.1,128.3 272.5,125.3 273.1,122.4Z" fill="#9a1a1e"/>
<path d="M279.7,97.8 280.3,101.6 280.8,105.5 281.2,109.3 281.5,113.2 281.7,117.0 281.8,120.9 281.9,124.7 281.9,181.8 281.7,189.1 281.3,196.5 280.9,203.8 278.5,203.8 278.1,196.5 277.7,189.1 277.5,181.8 277.5,124.7 277.6,120.9 277.7,117.0 277.9,113.2 278.2,109.3 278.6,105.5 279.1,101.6 279.7,97.8Z" fill="#fddc82"/>
<path d="M279.7,105.0 280.3,108.6 280.7,112.2 281.0,115.7 281.3,119.3 281.5,122.9 281.7,126.5 281.7,130.0 281.7,176.3 281.5,185.0 281.2,193.6 280.8,202.3 278.6,202.3 278.2,193.6 277.9,185.0 277.7,176.3 277.7,130.0 277.7,126.5 277.9,122.9 278.1,119.3 278.4,115.7 278.7,112.2 279.1,108.6 279.7,105.0Z" fill="#f99532"/>
<path d="M279.7,113.0 280.2,116.3 280.5,119.6 280.8,122.8 281.1,126.1 281.2,129.4 281.3,132.7 281.4,136.0 281.4,169.8 281.2,179.8 281.0,189.8 280.6,199.8 278.8,199.8 278.4,189.8 278.2,179.8 278.0,169.8 278.0,136.0 278.1,132.7 278.2,129.4 278.3,126.1 278.6,122.8 278.9,119.6 279.2,116.3 279.7,113.0Z" fill="#e34327"/>
<path d="M279.7,126.0 280.0,128.8 280.2,131.6 280.4,134.4 280.6,137.2 280.7,140.0 280.8,142.8 280.8,145.6 280.8,171.7 280.7,179.9 280.5,188.1 280.3,196.3 279.1,196.3 278.9,188.1 278.7,179.9 278.6,171.7 278.6,145.6 278.6,142.8 278.7,140.0 278.8,137.2 279.0,134.4 279.2,131.6 279.4,128.8 279.7,126.0Z" fill="#9a1a1e"/>
<path d="M292.4,64.0 293.5,69.1 294.3,74.2 295.0,79.3 295.5,84.4 295.9,89.5 296.1,94.6 296.2,99.7 296.2,181.8 295.9,189.1 295.3,196.5 294.5,203.8 290.4,203.8 289.6,196.5 289.0,189.1 288.7,181.8 288.7,99.7 288.8,94.6 289.0,89.5 289.4,84.4 289.9,79.3 290.6,74.2 291.4,69.1 292.4,64.0Z" fill="#fddc82"/>
<path d="M292.4,72.0 293.4,76.8 294.1,81.6 294.8,86.4 295.2,91.2 295.6,96.0 295.8,100.8 295.9,105.6 295.9,176.3 295.6,185.0 295.0,193.6 294.3,202.3 290.6,202.3 289.9,193.6 289.3,185.0 289.0,176.3 289.0,105.6 289.1,100.8 289.3,96.0 289.7,91.2 290.1,86.4 290.8,81.6 291.5,76.8 292.4,72.0Z" fill="#f99532"/>
<path d="M292.4,80.0 293.3,84.5 293.9,89.0 294.4,93.5 294.8,98.0 295.2,102.5 295.3,107.0 295.4,111.5 295.4,169.8 295.1,179.8 294.7,189.8 294.1,199.8 290.8,199.8 290.2,189.8 289.8,179.8 289.5,169.8 289.5,111.5 289.6,107.0 289.7,102.5 290.1,98.0 290.5,93.5 291.0,89.0 291.6,84.5 292.4,80.0Z" fill="#e34327"/>
<path d="M292.4,86.7 293.1,91.0 293.6,95.2 294.0,99.5 294.3,103.7 294.6,108.0 294.7,112.2 294.8,116.5 294.8,162.3 294.6,173.6 294.2,185.0 293.7,196.3 291.2,196.3 290.7,185.0 290.3,173.6 290.1,162.3 290.1,116.5 290.2,112.2 290.3,108.0 290.6,103.7 290.9,99.5 291.3,95.2 291.8,91.0 292.4,86.7Z" fill="#9a1a1e"/>
<path d="M299.0,90.0 299.7,94.1 300.2,98.3 300.7,102.4 301.0,106.5 301.3,110.7 301.4,114.8 301.5,118.9 301.5,181.8 301.3,189.1 300.9,196.5 300.4,203.8 297.6,203.8 297.1,196.5 296.7,189.1 296.5,181.8 296.5,118.9 296.6,114.8 296.7,110.7 297.0,106.5 297.3,102.4 297.8,98.3 298.3,94.1 299.0,90.0Z" fill="#fddc82"/>
<path d="M299.0,95.0 299.6,98.9 300.1,102.9 300.5,106.8 300.8,110.8 301.1,114.7 301.2,118.7 301.3,122.6 301.3,176.3 301.1,185.0 300.7,193.6 300.3,202.3 297.7,202.3 297.3,193.6 296.9,185.0 296.7,176.3 296.7,122.6 296.8,118.7 296.9,114.7 297.2,110.8 297.5,106.8 297.9,102.9 298.4,98.9 299.0,95.0Z" fill="#f99532"/>
<path d="M299.0,97.0 299.6,100.9 300.0,104.7 300.4,108.6 300.7,112.5 300.9,116.4 301.0,120.2 301.0,124.1 301.0,169.8 300.9,179.8 300.5,189.8 300.1,199.8 297.9,199.8 297.5,189.8 297.1,179.8 297.0,169.8 297.0,124.1 297.0,120.2 297.1,116.4 297.3,112.5 297.6,108.6 298.0,104.7 298.4,100.9 299.0,97.0Z" fill="#e34327"/>
<path d="M299.0,100.0 299.5,103.8 299.9,107.5 300.2,111.3 300.4,115.1 300.6,118.8 300.7,122.6 300.8,126.3 300.8,162.6 300.6,173.8 300.3,185.1 300.0,196.3 298.0,196.3 297.7,185.1 297.4,173.8 297.2,162.6 297.2,126.3 297.3,122.6 297.4,118.8 297.6,115.1 297.8,111.3 298.1,107.5 298.5,103.8 299.0,100.0Z" fill="#9a1a1e"/>
<path d="M305.5,118.0 306.0,121.1 306.4,124.3 306.8,127.4 307.0,130.6 307.2,133.7 307.4,136.9 307.4,140.0 307.4,181.8 307.2,189.1 306.9,196.5 306.5,203.8 304.5,203.8 304.1,196.5 303.8,189.1 303.6,181.8 303.6,140.0 303.6,136.9 303.8,133.7 304.0,130.6 304.2,127.4 304.6,124.3 305.0,121.1 305.5,118.0Z" fill="#fddc82"/>
<path d="M312.5,53.3 313.7,58.4 314.6,63.6 315.4,68.7 316.0,73.9 316.4,79.0 316.7,84.2 316.8,89.3 316.8,181.8 316.4,189.1 315.7,196.5 314.9,203.8 310.1,203.8 309.3,196.5 308.6,189.1 308.2,181.8 308.2,89.3 308.3,84.2 308.6,79.0 309.0,73.9 309.6,68.7 310.4,63.6 311.3,58.4 312.5,53.3Z" fill="#fddc82"/>
<path d="M312.5,58.0 313.6,63.1 314.4,68.3 315.2,73.4 315.7,78.6 316.1,83.7 316.4,88.9 316.5,94.0 316.5,176.3 316.1,185.0 315.5,193.6 314.7,202.3 310.3,202.3 309.5,193.6 308.9,185.0 308.5,176.3 308.5,94.0 308.6,88.9 308.9,83.7 309.3,78.6 309.8,73.4 310.6,68.3 311.4,63.1 312.5,58.0Z" fill="#f99532"/>
<path d="M312.5,62.0 313.5,67.1 314.3,72.3 314.9,77.4 315.4,82.6 315.8,87.7 316.0,92.9 316.1,98.0 316.1,169.8 315.8,179.8 315.2,189.8 314.5,199.8 310.5,199.8 309.8,189.8 309.2,179.8 308.9,169.8 308.9,98.0 309.0,92.9 309.2,87.7 309.6,82.6 310.1,77.4 310.7,72.3 311.5,67.1 312.5,62.0Z" fill="#e34327"/>
<path d="M312.5,65.8 313.4,70.8 314.0,75.9 314.6,80.9 315.0,85.9 315.3,91.0 315.5,96.0 315.6,101.0 315.6,162.3 315.3,173.6 314.8,185.0 314.2,196.3 310.8,196.3 310.2,185.0 309.7,173.6 309.4,162.3 309.4,101.0 309.5,96.0 309.7,91.0 310.0,85.9 310.4,80.9 311.0,75.9 311.6,70.8 312.5,65.8Z" fill="#9a1a1e"/>
<path d="M318.7,95.0 319.5,98.9 320.1,102.9 320.6,106.8 321.0,110.8 321.3,114.7 321.5,118.7 321.5,122.6 321.5,181.8 321.3,189.1 320.8,196.5 320.3,203.8 317.1,203.8 316.6,196.5 316.1,189.1 315.9,181.8 315.9,122.6 315.9,118.7 316.1,114.7 316.4,110.8 316.8,106.8 317.3,102.9 317.9,98.9 318.7,95.0Z" fill="#c6e6f7"/>
<path d="M318.7,98.0 319.4,101.8 320.0,105.7 320.5,109.5 320.9,113.3 321.2,117.2 321.3,121.0 321.4,124.9 321.4,176.3 321.2,185.0 320.7,193.6 320.2,202.3 317.2,202.3 316.7,193.6 316.2,185.0 316.0,176.3 316.0,124.9 316.1,121.0 316.2,117.2 316.5,113.3 316.9,109.5 317.4,105.7 318.0,101.8 318.7,98.0Z" fill="#7bbde6"/>
<path d="M318.7,100.0 319.4,103.8 319.9,107.5 320.4,111.3 320.7,115.1 321.0,118.8 321.1,122.6 321.2,126.3 321.2,169.8 321.0,179.8 320.6,189.8 320.1,199.8 317.3,199.8 316.8,189.8 316.4,179.8 316.2,169.8 316.2,126.3 316.3,122.6 316.4,118.8 316.7,115.1 317.0,111.3 317.5,107.5 318.0,103.8 318.7,100.0Z" fill="#3375bd"/>
<path d="M318.7,103.0 319.3,106.7 319.8,110.3 320.2,114.0 320.5,117.6 320.8,121.3 320.9,124.9 321.0,128.6 321.0,163.6 320.8,174.5 320.4,185.4 319.9,196.3 317.5,196.3 317.0,185.4 316.6,174.5 316.4,163.6 316.4,128.6 316.5,124.9 316.6,121.3 316.9,117.6 317.2,114.0 317.6,110.3 318.1,106.7 318.7,103.0Z" fill="#1c3370"/>
<path d="M322.2,128.0 322.6,131.1 322.8,134.3 323.0,137.4 323.2,140.6 323.3,143.7 323.4,146.9 323.4,150.0 323.4,181.8 323.3,189.1 323.1,196.5 322.9,203.8 321.6,203.8 321.4,196.5 321.2,189.1 321.1,181.8 321.1,150.0 321.1,146.9 321.2,143.7 321.3,140.6 321.5,137.4 321.7,134.3 321.9,131.1 322.2,128.0Z" fill="#fddc82"/>
<path d="M322.2,135.0 322.5,137.9 322.8,140.7 323.0,143.6 323.1,146.4 323.2,149.3 323.3,152.1 323.3,155.0 323.3,178.7 323.2,186.6 323.1,194.4 322.8,202.3 321.7,202.3 321.4,194.4 321.3,186.6 321.2,178.7 321.2,155.0 321.2,152.1 321.3,149.3 321.4,146.4 321.5,143.6 321.7,140.7 322.0,137.9 322.2,135.0Z" fill="#f99532"/>
<path d="M325.6,100.0 326.2,103.8 326.7,107.5 327.1,111.3 327.4,115.1 327.6,118.8 327.8,122.6 327.8,126.3 327.8,181.8 327.6,189.1 327.3,196.5 326.8,203.8 324.4,203.8 323.9,196.5 323.6,189.1 323.4,181.8 323.4,126.3 323.4,122.6 323.6,118.8 323.8,115.1 324.1,111.3 324.5,107.5 325.0,103.8 325.6,100.0Z" fill="#c6e6f7"/>
<path d="M331.4,55.4 332.3,60.5 333.1,65.7 333.7,70.8 334.2,76.0 334.5,81.1 334.7,86.3 334.8,91.4 334.8,181.8 334.5,189.1 334.0,196.5 333.3,203.8 329.4,203.8 328.7,196.5 328.2,189.1 327.9,181.8 327.9,91.4 328.0,86.3 328.2,81.1 328.5,76.0 329.0,70.8 329.6,65.7 330.4,60.5 331.4,55.4Z" fill="#fddc82"/>
<path d="M331.4,62.0 332.2,67.1 332.9,72.3 333.5,77.4 333.9,82.6 334.3,87.7 334.5,92.9 334.5,98.0 334.5,176.3 334.3,185.0 333.8,193.6 333.1,202.3 329.6,202.3 328.9,193.6 328.4,185.0 328.2,176.3 328.2,98.0 328.2,92.9 328.4,87.7 328.8,82.6 329.2,77.4 329.8,72.3 330.5,67.1 331.4,62.0Z" fill="#f99532"/>
<path d="M331.4,68.0 332.1,73.0 332.7,77.9 333.2,82.9 333.6,87.8 333.9,92.8 334.1,97.7 334.2,102.7 334.2,169.8 333.9,179.8 333.5,189.8 332.9,199.8 329.8,199.8 329.2,189.8 328.8,179.8 328.5,169.8 328.5,102.7 328.6,97.7 328.8,92.8 329.1,87.8 329.5,82.9 330.0,77.9 330.6,73.0 331.4,68.0Z" fill="#e34327"/>
<path d="M331.4,72.0 332.0,76.8 332.5,81.6 332.9,86.4 333.3,91.2 333.5,96.0 333.7,100.8 333.7,105.6 333.7,162.3 333.5,173.6 333.1,185.0 332.7,196.3 330.0,196.3 329.6,185.0 329.2,173.6 329.0,162.3 329.0,105.6 329.0,100.8 329.2,96.0 329.4,91.2 329.8,86.4 330.2,81.6 330.7,76.8 331.4,72.0Z" fill="#9a1a1e"/>
<path d="M335.5,118.0 336.2,121.1 336.8,124.3 337.3,127.4 337.6,130.6 337.9,133.7 338.1,136.9 338.1,140.0 338.1,181.8 337.9,189.1 337.5,196.5 336.9,203.8 334.1,203.8 333.5,196.5 333.1,189.1 332.9,181.8 332.9,140.0 332.9,136.9 333.1,133.7 333.4,130.6 333.7,127.4 334.2,124.3 334.8,121.1 335.5,118.0Z" fill="#c6e6f7"/>
<path d="M335.5,128.0 336.2,130.9 336.7,133.7 337.1,136.6 337.5,139.4 337.7,142.3 337.9,145.1 337.9,148.0 337.9,176.3 337.7,185.0 337.3,193.6 336.8,202.3 334.2,202.3 333.7,193.6 333.3,185.0 333.1,176.3 333.1,148.0 333.1,145.1 333.3,142.3 333.5,139.4 333.9,136.6 334.3,133.7 334.8,130.9 335.5,128.0Z" fill="#7bbde6"/>
<path d="M339.7,86.7 340.2,91.0 340.5,95.2 340.8,99.5 341.0,103.7 341.2,108.0 341.3,112.2 341.3,116.5 341.3,181.8 341.2,189.1 340.9,196.5 340.6,203.8 338.8,203.8 338.5,196.5 338.2,189.1 338.1,181.8 338.1,116.5 338.1,112.2 338.2,108.0 338.4,103.7 338.6,99.5 338.9,95.2 339.2,91.0 339.7,86.7Z" fill="#fddc82"/>
<path d="M339.7,95.0 340.1,98.9 340.4,102.9 340.7,106.8 340.9,110.8 341.0,114.7 341.1,118.7 341.2,122.6 341.2,176.3 341.0,185.0 340.8,193.6 340.5,202.3 338.9,202.3 338.6,193.6 338.4,185.0 338.2,176.3 338.2,122.6 338.3,118.7 338.4,114.7 338.5,110.8 338.7,106.8 339.0,102.9 339.3,98.9 339.7,95.0Z" fill="#f99532"/>
<path d="M339.7,105.0 340.0,108.6 340.3,112.2 340.5,115.7 340.7,119.3 340.8,122.9 340.9,126.5 340.9,130.0 340.9,169.8 340.8,179.8 340.6,189.8 340.4,199.8 339.0,199.8 338.8,189.8 338.6,179.8 338.5,169.8 338.5,130.0 338.5,126.5 338.6,122.9 338.7,119.3 338.9,115.7 339.1,112.2 339.4,108.6 339.7,105.0Z" fill="#e34327"/>
<path d="M342.9,107.5 343.4,111.0 343.8,114.5 344.0,118.0 344.3,121.4 344.4,124.9 344.5,128.4 344.6,131.9 344.6,181.8 344.4,189.1 344.2,196.5 343.8,203.8 342.1,203.8 341.7,196.5 341.5,189.1 341.3,181.8 341.3,131.9 341.4,128.4 341.5,124.9 341.6,121.4 341.9,118.0 342.1,114.5 342.5,111.0 342.9,107.5Z" fill="#c6e6f7"/>
<path d="M342.9,120.0 343.4,123.0 343.7,126.0 343.9,129.1 344.2,132.1 344.3,135.1 344.4,138.1 344.4,141.1 344.4,176.3 344.3,185.0 344.1,193.6 343.8,202.3 342.1,202.3 341.8,193.6 341.6,185.0 341.5,176.3 341.5,141.1 341.5,138.1 341.6,135.1 341.7,132.1 342.0,129.1 342.2,126.0 342.5,123.0 342.9,120.0Z" fill="#7bbde6"/>
<path d="M342.9,130.0 343.3,132.6 343.6,135.3 343.8,137.9 344.0,140.6 344.1,143.2 344.2,145.9 344.2,148.5 344.2,175.4 344.1,183.5 343.9,191.7 343.6,199.8 342.3,199.8 342.0,191.7 341.8,183.5 341.7,175.4 341.7,148.5 341.7,145.9 341.8,143.2 341.9,140.6 342.1,137.9 342.3,135.3 342.6,132.6 342.9,130.0Z" fill="#3375bd"/>
<path d="M342.9,138.8 343.2,141.3 343.4,143.9 343.6,146.5 343.8,149.0 343.9,151.6 343.9,154.2 344.0,156.8 344.0,176.2 343.9,182.9 343.7,189.6 343.5,196.3 342.4,196.3 342.2,189.6 342.0,182.9 341.9,176.2 341.9,156.8 342.0,154.2 342.0,151.6 342.1,149.0 342.3,146.5 342.5,143.9 342.7,141.3 342.9,138.8Z" fill="#1c3370"/>
<path d="M346.1,100.0 346.5,103.8 346.8,107.5 347.0,111.3 347.2,115.1 347.4,118.8 347.5,122.6 347.5,126.3 347.5,181.8 347.4,189.1 347.2,196.5 346.9,203.8 345.2,203.8 344.9,196.5 344.7,189.1 344.6,181.8 344.6,126.3 344.6,122.6 344.7,118.8 344.9,115.1 345.1,111.3 345.3,107.5 345.6,103.8 346.1,100.0Z" fill="#fddc82"/>
<path d="M351.3,57.5 352.3,62.6 353.0,67.8 353.7,72.9 354.2,78.1 354.5,83.2 354.7,88.4 354.8,93.5 354.8,181.8 354.5,189.1 354.0,196.5 353.2,203.8 349.4,203.8 348.6,196.5 348.1,189.1 347.8,181.8 347.8,93.5 347.9,88.4 348.1,83.2 348.4,78.1 348.9,72.9 349.6,67.8 350.3,62.6 351.3,57.5Z" fill="#fddc82"/>
<path d="M351.3,64.0 352.2,69.1 352.9,74.2 353.5,79.3 353.9,84.4 354.3,89.5 354.5,94.6 354.5,99.7 354.5,176.3 354.3,185.0 353.7,193.6 353.1,202.3 349.5,202.3 348.9,193.6 348.3,185.0 348.1,176.3 348.1,99.7 348.1,94.6 348.3,89.5 348.7,84.4 349.1,79.3 349.7,74.2 350.4,69.1 351.3,64.0Z" fill="#f99532"/>
<path d="M351.3,70.0 352.1,74.9 352.7,79.8 353.2,84.6 353.6,89.5 353.9,94.4 354.1,99.3 354.1,104.1 354.1,169.8 353.9,179.8 353.5,189.8 352.9,199.8 349.7,199.8 349.1,189.8 348.7,179.8 348.5,169.8 348.5,104.1 348.5,99.3 348.7,94.4 349.0,89.5 349.4,84.6 349.9,79.8 350.5,74.9 351.3,70.0Z" fill="#e34327"/>
<path d="M351.3,78.0 351.9,82.6 352.4,87.2 352.8,91.7 353.2,96.3 353.4,100.9 353.5,105.5 353.6,110.1 353.6,162.3 353.4,173.6 353.0,185.0 352.6,196.3 350.0,196.3 349.6,185.0 349.2,173.6 349.0,162.3 349.0,110.1 349.1,105.5 349.2,100.9 349.4,96.3 349.8,91.7 350.2,87.2 350.7,82.6 351.3,78.0Z" fill="#9a1a1e"/>
<path d="M357.5,134.6 357.9,137.7 358.2,140.9 358.5,144.0 358.7,147.2 358.8,150.3 358.9,153.5 358.9,156.6 358.9,181.8 358.8,189.1 358.6,196.5 358.3,203.8 356.7,203.8 356.4,196.5 356.2,189.1 356.1,181.8 356.1,156.6 356.1,153.5 356.2,150.3 356.3,147.2 356.5,144.0 356.8,140.9 357.1,137.7 357.5,134.6Z" fill="#fddc82"/>
<path d="M357.5,145.0 357.8,147.9 358.1,150.7 358.3,153.6 358.5,156.4 358.6,159.3 358.7,162.1 358.8,165.0 358.8,182.2 358.6,188.9 358.4,195.6 358.2,202.3 356.8,202.3 356.6,195.6 356.4,188.9 356.2,182.2 356.2,165.0 356.3,162.1 356.4,159.3 356.5,156.4 356.7,153.6 356.9,150.7 357.2,147.9 357.5,145.0Z" fill="#f99532"/>
<path d="M369.0,57.5 369.9,62.6 370.7,67.8 371.3,72.9 371.8,78.1 372.1,83.2 372.3,88.4 372.4,93.5 372.4,181.8 372.1,189.1 371.6,196.5 370.9,203.8 367.0,203.8 366.3,196.5 365.8,189.1 365.5,181.8 365.5,93.5 365.6,88.4 365.8,83.2 366.1,78.1 366.6,72.9 367.2,67.8 368.0,62.6 369.0,57.5Z" fill="#fddc82"/>
<path d="M369.0,63.0 369.8,68.1 370.5,73.3 371.1,78.4 371.6,83.5 371.9,88.7 372.1,93.8 372.2,99.0 372.2,176.3 371.9,185.0 371.4,193.6 370.7,202.3 367.2,202.3 366.5,193.6 366.0,185.0 365.7,176.3 365.7,99.0 365.8,93.8 366.0,88.7 366.3,83.5 366.8,78.4 367.4,73.3 368.1,68.1 369.0,63.0Z" fill="#f99532"/>
<path d="M369.0,67.0 369.7,72.0 370.4,77.0 370.9,82.0 371.3,87.0 371.6,91.9 371.8,96.9 371.8,101.9 371.8,169.8 371.6,179.8 371.1,189.8 370.5,199.8 367.4,199.8 366.8,189.8 366.3,179.8 366.1,169.8 366.1,101.9 366.1,96.9 366.3,91.9 366.6,87.0 367.0,82.0 367.5,77.0 368.2,72.0 369.0,67.0Z" fill="#e34327"/>
<path d="M369.0,70.0 369.6,74.9 370.2,79.8 370.6,84.6 371.0,89.5 371.2,94.4 371.4,99.3 371.4,104.1 371.4,162.3 371.2,173.6 370.8,185.0 370.3,196.3 367.6,196.3 367.1,185.0 366.7,173.6 366.5,162.3 366.5,104.1 366.5,99.3 366.7,94.4 366.9,89.5 367.3,84.6 367.7,79.8 368.3,74.9 369.0,70.0Z" fill="#9a1a1e"/>
<path d="M374.2,100.0 374.6,103.8 375.0,107.5 375.3,111.3 375.5,115.1 375.7,118.8 375.8,122.6 375.8,126.3 375.8,181.8 375.7,189.1 375.4,196.5 375.1,203.8 373.3,203.8 372.9,196.5 372.7,189.1 372.5,181.8 372.5,126.3 372.6,122.6 372.7,118.8 372.8,115.1 373.1,111.3 373.4,107.5 373.7,103.8 374.2,100.0Z" fill="#c6e6f7"/>
<path d="M377.9,65.8 378.4,70.8 378.9,75.9 379.2,80.9 379.5,85.9 379.7,91.0 379.9,96.0 379.9,101.0 379.9,181.8 379.7,189.1 379.4,196.5 379.0,203.8 376.8,203.8 376.4,196.5 376.0,189.1 375.9,181.8 375.9,101.0 375.9,96.0 376.0,91.0 376.2,85.9 376.5,80.9 376.9,75.9 377.3,70.8 377.9,65.8Z" fill="#fddc82"/>
<path d="M377.9,75.0 378.4,79.7 378.8,84.4 379.1,89.1 379.4,93.8 379.6,98.5 379.7,103.1 379.7,107.8 379.7,176.3 379.6,185.0 379.3,193.6 378.9,202.3 376.9,202.3 376.5,193.6 376.2,185.0 376.0,176.3 376.0,107.8 376.1,103.1 376.2,98.5 376.4,93.8 376.6,89.1 377.0,84.4 377.4,79.7 377.9,75.0Z" fill="#f99532"/>
<path d="M377.9,90.0 378.3,94.1 378.6,98.3 378.9,102.4 379.1,106.5 379.2,110.7 379.3,114.8 379.4,118.9 379.4,169.8 379.2,179.8 379.0,189.8 378.7,199.8 377.1,199.8 376.8,189.8 376.5,179.8 376.4,169.8 376.4,118.9 376.4,114.8 376.5,110.7 376.7,106.5 376.9,102.4 377.1,98.3 377.5,94.1 377.9,90.0Z" fill="#e34327"/>
</g>
<path d="M50.3,201.3 L56.5,201.4 L62.6,201.6 L68.8,201.8 L75.0,201.9 L81.2,202.0 L87.5,202.3 L93.8,202.7 L100.0,202.8 L106.2,202.8 L112.5,202.9 L118.8,203.0 L125.0,203.2 L131.2,203.3 L137.5,203.4 L143.8,203.5 L150.0,203.5 L156.3,203.5 L162.6,203.5 L168.9,203.5 L175.2,203.5 L181.5,203.5 L187.8,203.5 L194.1,203.5 L200.4,203.5 L206.7,203.5 L213.0,203.5 L219.3,203.3 L225.7,203.1 L232.0,202.9 L238.0,202.6 L244.0,201.9 L250.0,201.6 L256.0,202.1 L262.0,202.5 L270.0,203.3 L280.0,202.3 L290.0,200.8 L296.7,200.8 L303.3,200.8 L310.0,200.9 L316.7,200.9 L323.3,200.9 L330.0,200.9 L336.2,200.9 L342.5,200.9 L348.8,200.9 L355.0,201.0 L361.2,201.0 L367.5,201.0 L373.8,201.0 L380.0,201.0 L380.0,218.0 L50.3,218.0Z" fill="#c6c6c6"/>
<polyline points="50.3,201.3 56.5,201.4 62.6,201.6 68.8,201.8 75.0,201.9 81.2,202.0 87.5,202.3 93.8,202.7 100.0,202.8 106.2,202.8 112.5,202.9 118.8,203.0 125.0,203.2 131.2,203.3 137.5,203.4 143.8,203.5 150.0,203.5 156.3,203.5 162.6,203.5 168.9,203.5 175.2,203.5 181.5,203.5 187.8,203.5 194.1,203.5 200.4,203.5 206.7,203.5 213.0,203.5 219.3,203.3 225.7,203.1 232.0,202.9 238.0,202.6 244.0,201.9 250.0,201.6 256.0,202.1 262.0,202.5 270.0,203.3 280.0,202.3 290.0,200.8 296.7,200.8 303.3,200.8 310.0,200.9 316.7,200.9 323.3,200.9 330.0,200.9 336.2,200.9 342.5,200.9 348.8,200.9 355.0,201.0 361.2,201.0 367.5,201.0 373.8,201.0 380.0,201.0" fill="none" stroke="#7a7a7a" stroke-width="0.9"/>
<path d="M52.5,81.2C52.8,83.1 53.7,87.5 54.2,91.7C55.0,98.3 56.2,109.3 57.3,118.8C58.4,128.2 59.4,138.5 60.4,145.8C61.2,151.7 62.1,158.2 62.9,160.4C63.3,161.5 64.8,159.5 65.0,158.3C65.8,152.8 66.7,138.2 67.7,129.0C68.7,119.8 69.8,111.5 70.8,106.0C71.4,102.5 72.4,96.4 73.3,97.5C74.2,98.6 75.0,106.5 76.0,112.5C77.0,118.8 78.2,124.9 79.2,133.3C80.2,142.1 80.9,155.3 81.7,162.5C82.2,167.4 83.0,173.9 83.8,174.6C84.5,175.3 85.4,169.9 85.8,166.7C86.6,160.2 87.5,147.0 88.5,137.5C89.5,128.0 90.7,120.0 91.7,112.5C92.6,105.4 93.3,97.4 94.2,94.8C94.8,93.3 96.6,96.3 96.9,97.9C97.9,102.8 99.0,112.9 100.0,123.0C101.1,133.6 102.2,149.3 103.1,158.3C103.8,164.8 104.5,172.4 105.2,174.6C105.8,176.2 107.1,172.5 107.3,170.8C108.2,161.8 109.3,135.8 110.4,123.0C111.3,112.9 112.4,105.1 113.5,97.9C114.5,91.4 115.8,82.8 116.7,81.7C117.6,80.6 118.3,87.6 118.8,91.7C119.5,98.2 120.1,112.2 120.8,118.8C121.3,123.0 122.2,127.0 122.9,129.2C123.3,130.3 124.7,130.1 125.0,131.2C125.8,134.2 126.6,142.9 127.5,145.8C127.9,147.1 129.6,149.3 130.0,148.0C130.8,145.5 131.3,134.7 132.1,131.2C132.5,129.7 134.1,129.6 134.6,128.1C135.6,124.6 137.0,113.5 137.9,111.5C138.8,109.5 139.6,114.5 140.0,116.7C140.7,121.2 141.4,130.3 142.1,137.5C142.8,144.7 143.4,158.7 144.0,158.0C144.6,157.3 145.0,142.7 145.6,133.3C146.2,123.9 146.8,113.0 147.7,104.2C148.6,95.8 149.8,88.2 150.8,83.3C151.4,80.3 152.2,77.3 153.3,76.0C154.3,74.8 156.1,74.8 157.1,76.0C158.1,77.3 158.4,80.4 159.2,83.3C160.0,86.4 160.6,91.8 161.7,93.8C162.4,95.0 164.4,95.3 165.4,94.2C166.4,93.1 166.7,90.0 167.5,87.5C168.3,85.0 169.3,79.8 170.0,79.8C170.7,79.8 171.1,84.4 171.7,87.5C172.4,91.0 173.0,96.4 173.8,100.0C174.5,103.2 175.3,108.6 176.2,107.9C177.2,107.2 178.3,98.3 179.0,95.8C179.3,94.8 179.9,93.0 180.4,93.8C180.9,94.5 181.4,97.9 182.1,100.0C182.8,102.1 183.5,107.3 184.2,105.8C184.9,104.3 185.5,97.1 186.2,91.7C187.0,86.3 187.6,76.5 188.3,75.0C189.0,73.5 190.1,79.9 190.4,83.3C191.1,91.7 191.8,109.1 192.5,123.0C193.2,136.9 193.5,160.7 194.2,162.5C194.9,164.3 195.5,143.9 196.2,133.3C197.0,122.7 198.0,112.2 198.8,102.0C199.5,91.8 200.1,82.6 200.8,75.0C201.4,68.5 202.2,59.1 202.9,58.8C203.6,58.4 204.4,67.3 205.0,73.0C205.7,80.6 206.4,91.4 207.1,102.0C207.8,112.6 208.3,127.1 209.2,133.3C209.5,135.3 211.6,139.5 212.1,137.5C213.0,133.9 213.5,122.3 214.2,112.5C214.9,102.7 215.5,87.6 216.2,81.2C216.5,78.9 218.0,77.8 218.8,76.0C219.5,74.2 220.0,72.9 220.4,70.8C221.0,67.9 221.4,59.8 221.9,59.4C222.4,59.0 223.2,65.0 223.5,68.8C224.1,76.2 224.9,88.9 225.6,102.0C226.3,115.1 227.1,133.9 227.7,143.8C228.1,149.5 228.7,156.9 229.2,158.0C229.7,159.1 230.5,153.2 230.8,150.0C231.6,142.0 232.9,124.9 234.0,112.5C235.1,100.1 236.2,85.6 237.1,79.2C237.3,77.7 238.3,76.2 239.2,76.0C240.1,75.8 241.4,76.8 242.3,78.0C243.4,79.5 245.0,81.6 245.4,84.4C246.3,90.4 246.8,102.8 247.5,112.5C248.2,122.2 248.9,137.8 249.6,139.6C250.3,141.4 251.1,125.6 251.7,123.0C252.0,122.0 253.2,124.0 253.3,125.0C254.0,129.9 255.0,148.8 255.8,151.0C256.6,153.2 257.2,141.7 257.9,137.5C258.6,133.3 259.3,126.6 260.0,127.0C260.7,127.4 261.5,134.5 262.1,139.6C263.1,148.2 264.7,176.4 265.8,176.0C266.9,175.6 267.5,149.5 268.3,137.5C269.1,125.5 269.7,112.8 270.4,107.3C270.5,106.4 271.9,105.5 272.5,106.2C273.2,107.2 274.3,109.9 274.6,112.5C275.3,119.1 276.0,131.4 276.7,143.8C277.4,156.1 278.0,181.5 278.8,183.3C279.5,185.1 280.3,165.7 280.8,154.0C281.5,138.0 282.2,108.1 282.9,91.7C283.5,79.2 284.3,67.2 285.0,60.4C285.3,57.3 286.2,54.5 287.1,53.0C287.7,51.9 289.1,51.5 290.0,51.7C290.9,51.9 291.8,52.8 292.3,54.0C293.1,56.1 294.1,60.6 294.7,63.5C295.3,66.3 295.3,70.9 295.9,70.5C296.5,70.1 297.5,59.0 298.2,61.0C298.9,63.0 299.2,73.8 299.8,82.2C300.4,90.6 301.0,108.4 301.7,109.2C302.4,110.0 303.4,91.5 304.0,87.0C304.2,85.5 304.7,82.8 305.2,83.4C305.7,84.0 306.3,93.2 306.9,90.5C307.5,87.8 308.0,75.2 308.8,68.2C309.5,61.2 310.3,53.5 311.1,50.6C311.4,49.6 313.2,50.7 313.4,51.7C314.2,55.2 315.1,63.0 315.8,70.5C316.6,79.3 317.3,96.7 318.1,102.0C318.3,103.0 320.3,102.0 320.5,101.0C321.3,97.5 322.0,89.6 322.8,82.2C323.6,74.8 324.2,63.4 325.2,58.8C325.6,57.1 327.8,57.2 328.7,56.0C329.6,54.8 329.7,50.4 330.3,51.7C330.9,53.0 331.8,58.7 332.2,63.5C332.9,71.7 333.8,88.6 334.5,98.7C335.2,107.6 335.8,121.0 336.4,121.0C337.0,121.0 337.4,107.6 338.0,98.7C338.7,87.8 339.7,67.0 340.4,58.8C340.6,55.9 341.4,51.3 342.0,51.7C342.6,52.1 343.3,57.7 343.9,61.0C344.5,64.3 344.9,71.3 345.5,70.5C346.1,69.7 346.6,58.9 347.4,56.4C347.7,55.5 349.4,55.5 349.8,56.4C350.6,58.3 351.5,62.7 352.1,67.0C352.9,72.8 353.6,81.5 354.4,89.3C355.2,97.1 356.0,110.8 356.8,111.6C357.6,112.4 358.4,101.1 359.1,94.0C359.9,85.6 360.7,69.7 361.5,63.5C361.8,61.4 363.0,60.2 363.8,58.8C364.6,57.4 365.2,56.7 366.2,55.3C367.2,53.9 368.5,51.4 369.7,50.6C370.9,49.8 372.0,50.0 373.2,50.6C374.4,51.2 375.9,53.0 376.7,54.0C377.4,54.8 377.8,56.0 378.0,56.4" fill="none" stroke="#ff0d0d" stroke-width="1.55" stroke-linejoin="round"/>
</g>
<rect x="52.3" y="21.3" width="325.7" height="194.7" fill="none" stroke="#1a1a1a" stroke-width="1.3"/>
<path d="M52.3,21.3V14.8 M52.3,216.0V222.5 M68.6,21.3V18.3 M68.6,216.0V219.0 M84.9,21.3V18.3 M84.9,216.0V219.0 M101.2,21.3V18.3 M101.2,216.0V219.0 M117.4,21.3V14.8 M117.4,216.0V222.5 M133.7,21.3V18.3 M133.7,216.0V219.0 M150.0,21.3V18.3 M150.0,216.0V219.0 M166.3,21.3V18.3 M166.3,216.0V219.0 M182.6,21.3V14.8 M182.6,216.0V222.5 M198.9,21.3V18.3 M198.9,216.0V219.0 M215.1,21.3V18.3 M215.1,216.0V219.0 M231.4,21.3V18.3 M231.4,216.0V219.0 M247.7,21.3V14.8 M247.7,216.0V222.5 M264.0,21.3V18.3 M264.0,216.0V219.0 M280.3,21.3V18.3 M280.3,216.0V219.0 M296.6,21.3V18.3 M296.6,216.0V219.0 M312.9,21.3V14.8 M312.9,216.0V222.5 M329.1,21.3V18.3 M329.1,216.0V219.0 M345.4,21.3V18.3 M345.4,216.0V219.0 M361.7,21.3V18.3 M361.7,216.0V219.0 M378.0,21.3V14.8 M378.0,216.0V222.5 M52.3,216.0H45.3 M378.0,216.0H384.5 M52.3,183.6H45.3 M378.0,183.6H384.5 M52.3,151.1H45.3 M378.0,151.1H384.5 M52.3,118.7H45.3 M378.0,118.7H384.5 M52.3,86.2H45.3 M378.0,86.2H384.5 M52.3,53.8H45.3 M378.0,53.8H384.5 M52.3,21.3H45.3 M378.0,21.3H384.5" stroke="#1a1a1a" stroke-width="1.2" fill="none"/>
<text x="52.3" y="236.8" text-anchor="middle" font-size="10.0" font-family="Liberation Sans, sans-serif" textLength="28.3" lengthAdjust="spacingAndGlyphs">41.00</text>
<text x="117.4" y="236.8" text-anchor="middle" font-size="10.0" font-family="Liberation Sans, sans-serif" textLength="28.3" lengthAdjust="spacingAndGlyphs">41.20</text>
<text x="182.6" y="236.8" text-anchor="middle" font-size="10.0" font-family="Liberation Sans, sans-serif" textLength="28.3" lengthAdjust="spacingAndGlyphs">41.40</text>
<text x="247.7" y="236.8" text-anchor="middle" font-size="10.0" font-family="Liberation Sans, sans-serif" textLength="28.3" lengthAdjust="spacingAndGlyphs">41.60</text>
<text x="312.9" y="236.8" text-anchor="middle" font-size="10.0" font-family="Liberation Sans, sans-serif" textLength="28.3" lengthAdjust="spacingAndGlyphs">41.80</text>
<text x="378.0" y="236.8" text-anchor="middle" font-size="10.0" font-family="Liberation Sans, sans-serif" textLength="28.3" lengthAdjust="spacingAndGlyphs">42.00</text>
<text x="41.2" y="219.6" text-anchor="end" font-size="10.6" font-family="Liberation Sans, sans-serif" textLength="16.2" lengthAdjust="spacingAndGlyphs">0.0</text>
<text x="41.2" y="187.2" text-anchor="end" font-size="10.6" font-family="Liberation Sans, sans-serif" textLength="16.2" lengthAdjust="spacingAndGlyphs">0.5</text>
<text x="41.2" y="154.7" text-anchor="end" font-size="10.6" font-family="Liberation Sans, sans-serif" textLength="16.2" lengthAdjust="spacingAndGlyphs">1.0</text>
<text x="41.2" y="122.3" text-anchor="end" font-size="10.6" font-family="Liberation Sans, sans-serif" textLength="16.2" lengthAdjust="spacingAndGlyphs">1.5</text>
<text x="41.2" y="89.8" text-anchor="end" font-size="10.6" font-family="Liberation Sans, sans-serif" textLength="16.2" lengthAdjust="spacingAndGlyphs">2.0</text>
<text x="41.2" y="57.4" text-anchor="end" font-size="10.6" font-family="Liberation Sans, sans-serif" textLength="16.2" lengthAdjust="spacingAndGlyphs">2.5</text>
<text x="41.2" y="24.9" text-anchor="end" font-size="10.6" font-family="Liberation Sans, sans-serif" textLength="16.2" lengthAdjust="spacingAndGlyphs">3.0</text>
<text x="51.2" y="9.6" text-anchor="start" font-size="12.5" font-family="Liberation Sans, sans-serif" textLength="128.0" lengthAdjust="spacingAndGlyphs">a) Conventional roofs</text>
<text transform="translate(13.5,119.0) scale(1.2,1) rotate(-90)" text-anchor="middle" font-size="13.8" font-family="Liberation Sans, sans-serif" textLength="71" lengthAdjust="spacingAndGlyphs">Height (km)</text>
<rect x="395.2" y="58.40" width="19.8" height="15.48" fill="#9a1a1e" stroke="#555" stroke-width="0.8"/>
<rect x="395.2" y="73.88" width="19.8" height="15.48" fill="#e34327" stroke="#555" stroke-width="0.8"/>
<rect x="395.2" y="89.36" width="19.8" height="15.48" fill="#f99532" stroke="#555" stroke-width="0.8"/>
<rect x="395.2" y="104.84" width="19.8" height="15.48" fill="#fddc82" stroke="#555" stroke-width="0.8"/>
<rect x="395.2" y="120.32" width="19.8" height="15.48" fill="#fefcf5" stroke="#555" stroke-width="0.8"/>
<rect x="395.2" y="135.80" width="19.8" height="15.48" fill="#f4f9fd" stroke="#555" stroke-width="0.8"/>
<rect x="395.2" y="151.28" width="19.8" height="15.48" fill="#c6e6f7" stroke="#555" stroke-width="0.8"/>
<rect x="395.2" y="166.76" width="19.8" height="15.48" fill="#7bbde6" stroke="#555" stroke-width="0.8"/>
<rect x="395.2" y="182.24" width="19.8" height="15.48" fill="#3375bd" stroke="#555" stroke-width="0.8"/>
<rect x="395.2" y="197.72" width="19.8" height="15.48" fill="#1c3370" stroke="#555" stroke-width="0.8"/>
<text x="432.8" y="77.6" text-anchor="middle" font-size="10.3" font-family="Liberation Sans, sans-serif" textLength="5.8" lengthAdjust="spacingAndGlyphs">1</text>
<text x="432.8" y="93.1" text-anchor="middle" font-size="10.3" font-family="Liberation Sans, sans-serif" textLength="22.2" lengthAdjust="spacingAndGlyphs">0.75</text>
<text x="432.8" y="108.5" text-anchor="middle" font-size="10.3" font-family="Liberation Sans, sans-serif" textLength="16.4" lengthAdjust="spacingAndGlyphs">0.5</text>
<text x="432.8" y="124.0" text-anchor="middle" font-size="10.3" font-family="Liberation Sans, sans-serif" textLength="22.2" lengthAdjust="spacingAndGlyphs">0.25</text>
<text x="432.8" y="139.5" text-anchor="middle" font-size="10.3" font-family="Liberation Sans, sans-serif" textLength="6.6" lengthAdjust="spacingAndGlyphs">0</text>
<text x="432.8" y="155.0" text-anchor="middle" font-size="10.3" font-family="Liberation Sans, sans-serif" textLength="26.2" lengthAdjust="spacingAndGlyphs">-0.25</text>
<text x="432.8" y="170.5" text-anchor="middle" font-size="10.3" font-family="Liberation Sans, sans-serif" textLength="20.4" lengthAdjust="spacingAndGlyphs">-0.5</text>
<text x="432.8" y="185.9" text-anchor="middle" font-size="10.3" font-family="Liberation Sans, sans-serif" textLength="26.2" lengthAdjust="spacingAndGlyphs">-0.75</text>
<text x="432.8" y="201.4" text-anchor="middle" font-size="10.3" font-family="Liberation Sans, sans-serif" textLength="9.8" lengthAdjust="spacingAndGlyphs">-1</text>
<text x="420.3" y="41.9" text-anchor="middle" font-size="10.4" font-family="Liberation Sans, sans-serif" textLength="18.3" lengthAdjust="spacingAndGlyphs">m/s</text>
<clipPath id="clipb"><rect x="50.5" y="272.5" width="325.7" height="194.5"/></clipPath>
<g clip-path="url(#clipb)">
<linearGradient id="bgb" x1="0" x2="1" y1="0" y2="0"><stop offset="0.35" stop-color="#fbfbf6"/><stop offset="0.6" stop-color="#f3f8fb"/></linearGradient>
<rect x="50.5" y="272.5" width="325.7" height="194.5" fill="url(#bgb)"/>
<path d="M55.9,277.4 L64.1,408.6 L60.0,453.0 L50.5,453.0Z" fill="#f1f6fb"/>
<path d="M79.7,287.3 L84.7,408.6 L82.2,453.0 L76.3,453.0Z" fill="#fefcf2"/>
<path d="M105.7,277.1 L112.9,408.6 L109.3,453.0 L100.9,453.0Z" fill="#fefcf2"/>
<path d="M133.1,291.1 L137.4,408.6 L135.3,453.0 L130.2,453.0Z" fill="#f1f6fb"/>
<path d="M156.0,284.0 L164.0,408.6 L160.0,453.0 L150.7,453.0Z" fill="#fefcf2"/>
<path d="M169.9,276.3 L173.9,408.6 L171.9,453.0 L167.3,453.0Z" fill="#f3f8fc"/>
<path d="M193.6,286.5 L199.5,408.6 L196.5,453.0 L189.7,453.0Z" fill="#fefcf2"/>
<path d="M214.3,278.7 L218.3,408.6 L216.3,453.0 L211.7,453.0Z" fill="#f3f8fc"/>
<path d="M238.4,278.1 L246.5,408.6 L242.5,453.0 L233.0,453.0Z" fill="#f1f6fb"/>
<path d="M258.0,273.5 L264.5,408.6 L261.2,453.0 L253.6,453.0Z" fill="#f3f8fc"/>
<path d="M277.2,282.6 L279.8,408.6 L278.5,453.0 L275.5,453.0Z" fill="#fefcf2"/>
<path d="M293.8,278.6 L298.7,408.6 L296.2,453.0 L290.6,453.0Z" fill="#f1f6fb"/>
<path d="M311.2,284.0 L317.1,408.6 L314.1,453.0 L307.3,453.0Z" fill="#fefcf2"/>
<path d="M332.2,274.3 L337.8,408.6 L335.0,453.0 L328.5,453.0Z" fill="#f3f8fc"/>
<path d="M358.8,288.1 L363.3,408.6 L361.0,453.0 L355.7,453.0Z" fill="#f3f8fc"/>
<path d="M372.1,282.7 L379.6,408.6 L375.8,453.0 L367.2,453.0Z" fill="#f1f6fb"/>
<g filter="url(#blur)">
<path d="M50.0,456.0 L50.0,374.0 L54.0,365.2 L58.0,372.0 L62.0,372.5 L66.0,364.7 L66.0,456.0Z" fill="#d8edf8"/>
<path d="M66.0,456.0 L66.0,373.3 L70.0,377.0 L74.0,382.3 L78.0,374.3 L82.0,378.4 L86.0,374.4 L90.0,381.9 L94.0,378.7 L98.0,381.4 L102.0,379.5 L106.0,381.7 L110.0,374.7 L114.0,376.9 L118.0,377.1 L122.0,375.0 L126.0,373.8 L130.0,379.0 L134.0,378.7 L138.0,378.5 L138.0,456.0Z" fill="#d8edf8"/>
<path d="M158.0,456.0 L158.0,373.7 L162.1,378.5 L166.1,381.6 L170.2,378.1 L174.3,374.6 L178.4,379.0 L182.4,380.9 L186.5,377.9 L190.6,377.3 L194.6,380.0 L198.7,373.8 L202.8,379.6 L206.9,381.9 L210.9,373.1 L215.0,378.5 L215.0,456.0Z" fill="#d8edf8"/>
<path d="M215.0,456.0 L215.0,368.4 L219.0,368.1 L223.1,362.5 L227.1,364.8 L231.2,369.4 L235.2,366.4 L239.3,365.2 L243.3,366.3 L247.4,363.8 L251.4,366.1 L255.5,362.6 L259.5,371.4 L263.6,363.2 L267.6,367.4 L271.7,365.3 L275.7,370.2 L279.8,365.8 L283.8,364.8 L287.9,368.8 L291.9,369.0 L296.0,366.8 L300.0,362.2 L300.0,456.0Z" fill="#d8edf8"/>
<path d="M300.0,456.0 L300.0,358.7 L304.1,358.8 L308.2,358.9 L312.3,367.9 L316.4,359.7 L320.5,362.4 L324.5,361.8 L328.6,360.2 L332.7,367.8 L336.8,364.3 L340.9,363.4 L345.0,366.6 L345.0,456.0Z" fill="#d8edf8"/>
<path d="M345.0,456.0 L345.0,334.3 L349.1,334.8 L353.2,330.4 L357.4,329.3 L361.5,328.2 L365.6,330.4 L369.8,337.3 L373.9,333.5 L378.0,336.8 L378.0,456.0Z" fill="#d8edf8"/>
<path d="M52.0,456.0 L52.0,406.5 L56.7,411.9 L61.3,410.6 L66.0,413.3 L66.0,456.0Z" fill="#9ccdec"/>
<path d="M245.0,456.0 L245.0,385.9 L249.2,388.6 L253.5,387.1 L257.8,388.0 L262.0,380.9 L262.0,456.0Z" fill="#9ccdec"/>
<path d="M323.0,456.0 L323.0,379.0 L327.5,373.1 L332.0,372.7 L332.0,456.0Z" fill="#9ccdec"/>
<path d="M108.0,456.0 L108.0,418.9 L112.5,422.3 L117.0,423.5 L117.0,456.0Z" fill="#9ccdec"/>
<path d="M52.0,367.0 52.5,370.6 52.9,374.1 53.3,377.7 53.6,381.3 53.8,384.9 53.9,388.4 53.9,392.0 53.9,433.5 53.8,440.8 53.4,448.2 53.1,455.5 50.9,455.5 50.6,448.2 50.2,440.8 50.1,433.5 50.1,392.0 50.1,388.4 50.2,384.9 50.4,381.3 50.7,377.7 51.1,374.1 51.5,370.6 52.0,367.0Z" fill="#fefcf2"/>
<path d="M70.2,369.8 71.2,373.4 72.0,376.9 72.6,380.5 73.2,384.1 73.6,387.7 73.8,391.2 73.9,394.8 73.9,433.5 73.6,440.8 73.0,448.2 72.2,455.5 68.1,455.5 67.3,448.2 66.7,440.8 66.4,433.5 66.4,394.8 66.5,391.2 66.7,387.7 67.1,384.1 67.7,380.5 68.3,376.9 69.1,373.4 70.2,369.8Z" fill="#fefcf2"/>
<path d="M83.5,376.0 84.5,379.6 85.3,383.1 86.0,386.7 86.5,390.3 86.9,393.9 87.1,397.4 87.2,401.0 87.2,433.5 86.9,440.8 86.3,448.2 85.5,455.5 81.5,455.5 80.7,448.2 80.1,440.8 79.8,433.5 79.8,401.0 79.9,397.4 80.1,393.9 80.5,390.3 81.0,386.7 81.7,383.1 82.5,379.6 83.5,376.0Z" fill="#fefcf2"/>
<path d="M95.4,372.3 96.4,375.9 97.1,379.4 97.7,383.0 98.2,386.6 98.5,390.2 98.7,393.7 98.8,397.3 98.8,433.5 98.5,440.8 98.0,448.2 97.3,455.5 93.5,455.5 92.8,448.2 92.3,440.8 92.0,433.5 92.0,397.3 92.1,393.7 92.3,390.2 92.6,386.6 93.1,383.0 93.7,379.4 94.4,375.9 95.4,372.3Z" fill="#fefcf2"/>
<path d="M106.0,376.0 106.7,379.6 107.2,383.1 107.7,386.7 108.1,390.3 108.3,393.9 108.5,397.4 108.5,401.0 108.5,433.5 108.3,440.8 107.9,448.2 107.4,455.5 104.6,455.5 104.1,448.2 103.7,440.8 103.5,433.5 103.5,401.0 103.5,397.4 103.7,393.9 103.9,390.3 104.3,386.7 104.8,383.1 105.3,379.6 106.0,376.0Z" fill="#fefcf2"/>
<path d="M120.3,414.5 120.8,417.7 121.2,420.9 121.5,424.2 121.8,427.4 122.0,430.6 122.1,433.8 122.1,437.1 122.1,441.1 122.0,445.9 121.7,450.7 121.3,455.5 119.4,455.5 119.0,450.7 118.7,445.9 118.6,441.1 118.6,437.1 118.6,433.8 118.7,430.6 118.9,427.4 119.2,424.2 119.5,420.9 119.9,417.7 120.3,414.5Z" fill="#fefcf2"/>
<path d="M127.8,373.6 128.6,377.2 129.3,380.7 129.8,384.3 130.3,387.9 130.6,391.5 130.8,395.0 130.9,398.6 130.9,433.5 130.6,440.8 130.1,448.2 129.5,455.5 126.0,455.5 125.4,448.2 124.9,440.8 124.6,433.5 124.6,398.6 124.7,395.0 124.9,391.5 125.2,387.9 125.7,384.3 126.2,380.7 126.9,377.2 127.8,373.6Z" fill="#fefcf2"/>
<path d="M141.8,349.0 143.0,353.2 143.9,357.4 144.7,361.5 145.3,365.7 145.7,369.9 146.0,374.1 146.1,378.3 146.1,433.5 145.7,440.8 145.0,448.2 144.2,455.5 139.4,455.5 138.6,448.2 137.9,440.8 137.5,433.5 137.5,378.3 137.6,374.1 137.9,369.9 138.3,365.7 138.9,361.5 139.7,357.4 140.6,353.2 141.8,349.0Z" fill="#fefcf2"/>
<path d="M156.4,375.5 157.0,379.1 157.5,382.6 157.9,386.2 158.2,389.8 158.5,393.4 158.6,396.9 158.7,400.5 158.7,433.5 158.5,440.8 158.1,448.2 157.6,455.5 155.2,455.5 154.7,448.2 154.3,440.8 154.1,433.5 154.1,400.5 154.2,396.9 154.3,393.4 154.6,389.8 154.9,386.2 155.3,382.6 155.8,379.1 156.4,375.5Z" fill="#fefcf2"/>
<path d="M170.7,349.3 171.8,353.5 172.6,357.6 173.3,361.8 173.9,366.0 174.3,370.1 174.6,374.3 174.6,378.5 174.6,433.5 174.3,440.8 173.7,448.2 172.8,455.5 168.5,455.5 167.6,448.2 167.0,440.8 166.7,433.5 166.7,378.5 166.7,374.3 167.0,370.1 167.4,366.0 168.0,361.8 168.7,357.6 169.5,353.5 170.7,349.3Z" fill="#fefcf2"/>
<path d="M186.8,403.0 187.3,406.6 187.7,410.1 188.1,413.7 188.3,417.3 188.5,420.9 188.7,424.4 188.7,428.0 188.7,437.1 188.5,443.2 188.2,449.4 187.8,455.5 185.7,455.5 185.3,449.4 185.0,443.2 184.8,437.1 184.8,428.0 184.8,424.4 185.0,420.9 185.2,417.3 185.4,413.7 185.8,410.1 186.2,406.6 186.8,403.0Z" fill="#fefcf2"/>
<path d="M200.9,355.5 201.8,359.4 202.5,363.4 203.1,367.3 203.6,371.3 203.9,375.2 204.2,379.1 204.2,383.1 204.2,433.5 203.9,440.8 203.4,448.2 202.7,455.5 199.1,455.5 198.4,448.2 197.9,440.8 197.6,433.5 197.6,383.1 197.6,379.1 197.9,375.2 198.2,371.3 198.7,367.3 199.3,363.4 200.0,359.4 200.9,355.5Z" fill="#fefcf2"/>
<path d="M222.4,349.3 223.7,353.5 224.7,357.6 225.5,361.8 226.2,366.0 226.7,370.1 226.9,374.3 227.0,378.5 227.0,433.5 226.6,440.8 225.9,448.2 225.0,455.5 219.8,455.5 218.9,448.2 218.2,440.8 217.8,433.5 217.8,378.5 217.9,374.3 218.1,370.1 218.6,366.0 219.3,361.8 220.1,357.6 221.1,353.5 222.4,349.3Z" fill="#fefcf2"/>
<path d="M241.7,346.0 242.8,350.3 243.6,354.6 244.3,358.9 244.9,363.2 245.3,367.5 245.6,371.7 245.6,376.0 245.6,433.5 245.3,440.8 244.7,448.2 243.8,455.5 239.5,455.5 238.6,448.2 238.0,440.8 237.7,433.5 237.7,376.0 237.7,371.7 238.0,367.5 238.4,363.2 239.0,358.9 239.7,354.6 240.5,350.3 241.7,346.0Z" fill="#fefcf2"/>
<path d="M266.2,344.7 267.5,349.0 268.4,353.4 269.2,357.7 269.8,362.1 270.2,366.4 270.5,370.7 270.6,375.1 270.6,433.5 270.2,440.8 269.5,448.2 268.6,455.5 263.9,455.5 263.0,448.2 262.3,440.8 261.9,433.5 261.9,375.1 262.0,370.7 262.3,366.4 262.7,362.1 263.3,357.7 264.1,353.4 265.0,349.0 266.2,344.7Z" fill="#fefcf2"/>
<path d="M281.0,352.4 281.9,356.5 282.6,360.5 283.2,364.6 283.6,368.6 284.0,372.7 284.2,376.7 284.2,380.8 284.2,433.5 284.0,440.8 283.4,448.2 282.8,455.5 279.2,455.5 278.6,448.2 278.0,440.8 277.8,433.5 277.8,380.8 277.8,376.7 278.0,372.7 278.4,368.6 278.8,364.6 279.4,360.5 280.1,356.5 281.0,352.4Z" fill="#fefcf2"/>
<path d="M290.2,362.0 291.0,365.7 291.5,369.4 292.0,373.1 292.3,376.8 292.6,380.5 292.8,384.2 292.8,387.9 292.8,433.5 292.6,440.8 292.2,448.2 291.7,455.5 288.8,455.5 288.3,448.2 287.9,440.8 287.7,433.5 287.7,387.9 287.7,384.2 287.9,380.5 288.2,376.8 288.5,373.1 289.0,369.4 289.5,365.7 290.2,362.0Z" fill="#fefcf2"/>
<path d="M302.4,357.0 303.4,360.9 304.2,364.8 304.8,368.6 305.3,372.5 305.7,376.4 305.9,380.3 306.0,384.2 306.0,433.5 305.7,440.8 305.1,448.2 304.4,455.5 300.4,455.5 299.7,448.2 299.1,440.8 298.8,433.5 298.8,384.2 298.9,380.3 299.1,376.4 299.5,372.5 300.0,368.6 300.6,364.8 301.4,360.9 302.4,357.0Z" fill="#fefcf2"/>
<path d="M310.0,410.0 310.6,413.6 311.0,417.1 311.4,420.7 311.7,424.3 311.9,427.9 312.1,431.4 312.1,435.0 312.1,439.6 311.9,444.9 311.6,450.2 311.2,455.5 308.8,455.5 308.4,450.2 308.1,444.9 307.9,439.6 307.9,435.0 307.9,431.4 308.1,427.9 308.3,424.3 308.6,420.7 309.0,417.1 309.4,413.6 310.0,410.0Z" fill="#fefcf2"/>
<path d="M320.8,352.0 321.6,356.1 322.2,360.1 322.7,364.2 323.1,368.3 323.4,372.3 323.5,376.4 323.6,380.5 323.6,433.5 323.4,440.8 322.9,448.2 322.3,455.5 319.3,455.5 318.7,448.2 318.2,440.8 318.0,433.5 318.0,380.5 318.1,376.4 318.2,372.3 318.5,368.3 318.9,364.2 319.4,360.1 320.0,356.1 320.8,352.0Z" fill="#fefcf2"/>
<path d="M335.8,353.7 336.6,357.7 337.2,361.7 337.7,365.7 338.1,369.7 338.4,373.7 338.5,377.7 338.6,381.7 338.6,433.5 338.4,440.8 337.9,448.2 337.3,455.5 334.3,455.5 333.7,448.2 333.2,440.8 333.0,433.5 333.0,381.7 333.1,377.7 333.2,373.7 333.5,369.7 333.9,365.7 334.4,361.7 335.0,357.7 335.8,353.7Z" fill="#fefcf2"/>
<path d="M344.5,366.5 345.2,370.1 345.7,373.6 346.1,377.2 346.5,380.8 346.7,384.4 346.9,387.9 346.9,391.5 346.9,433.5 346.7,440.8 346.3,448.2 345.8,455.5 343.2,455.5 342.7,448.2 342.3,440.8 342.1,433.5 342.1,391.5 342.1,387.9 342.3,384.4 342.5,380.8 342.9,377.2 343.3,373.6 343.8,370.1 344.5,366.5Z" fill="#fefcf2"/>
<path d="M353.0,366.5 354.0,370.1 354.7,373.6 355.3,377.2 355.8,380.8 356.1,384.4 356.3,387.9 356.4,391.5 356.4,433.5 356.1,440.8 355.6,448.2 354.9,455.5 351.1,455.5 350.4,448.2 349.9,440.8 349.6,433.5 349.6,391.5 349.7,387.9 349.9,384.4 350.2,380.8 350.7,377.2 351.3,373.6 352.0,370.1 353.0,366.5Z" fill="#fefcf2"/>
<path d="M366.9,300.5 368.1,306.1 369.0,311.6 369.8,317.2 370.4,322.8 370.8,328.4 371.1,333.9 371.2,339.5 371.2,433.5 370.8,440.8 370.1,448.2 369.2,455.5 364.5,455.5 363.6,448.2 362.9,440.8 362.5,433.5 362.5,339.5 362.6,333.9 362.9,328.4 363.3,322.8 363.9,317.2 364.7,311.6 365.6,306.1 366.9,300.5Z" fill="#fefcf2"/>
<path d="M376.1,330.3 377.0,335.2 377.7,340.0 378.2,344.9 378.7,349.8 379.0,354.7 379.2,359.5 379.3,364.4 379.3,433.5 379.0,440.8 378.5,448.2 377.8,455.5 374.4,455.5 373.7,448.2 373.2,440.8 372.9,433.5 372.9,364.4 373.0,359.5 373.2,354.7 373.5,349.8 374.0,344.9 374.5,340.0 375.2,335.2 376.1,330.3Z" fill="#fefcf2"/>
<path d="M52.0,370.0 52.4,373.1 52.6,376.3 52.9,379.4 53.1,382.6 53.2,385.7 53.3,388.9 53.3,392.0 53.3,433.5 53.2,440.8 53.0,448.2 52.7,455.5 51.3,455.5 51.0,448.2 50.8,440.8 50.7,433.5 50.7,392.0 50.7,388.9 50.8,385.7 50.9,382.6 51.1,379.4 51.4,376.3 51.6,373.1 52.0,370.0Z" fill="#fddc82"/>
<path d="M52.0,395.0 52.3,397.9 52.5,400.7 52.7,403.6 52.9,406.4 53.0,409.3 53.1,412.1 53.1,415.0 53.1,433.4 53.0,440.2 52.8,447.1 52.6,454.0 51.4,454.0 51.2,447.1 51.0,440.2 50.9,433.4 50.9,415.0 50.9,412.1 51.0,409.3 51.1,406.4 51.3,403.6 51.5,400.7 51.7,397.9 52.0,395.0Z" fill="#f99532"/>
<path d="M56.1,368.0 56.9,371.2 57.6,374.3 58.1,377.5 58.6,380.6 58.9,383.8 59.1,386.9 59.1,390.1 59.1,433.5 58.9,440.8 58.4,448.2 57.8,455.5 54.4,455.5 53.8,448.2 53.3,440.8 53.1,433.5 53.1,390.1 53.1,386.9 53.3,383.8 53.6,380.6 54.1,377.5 54.6,374.3 55.3,371.2 56.1,368.0Z" fill="#c6e6f7"/>
<path d="M56.1,401.0 56.8,403.9 57.4,406.7 57.9,409.6 58.3,412.4 58.5,415.3 58.7,418.1 58.8,421.0 58.8,435.4 58.5,441.6 58.1,447.8 57.6,454.0 54.6,454.0 54.1,447.8 53.7,441.6 53.4,435.4 53.4,421.0 53.5,418.1 53.7,415.3 53.9,412.4 54.3,409.6 54.8,406.7 55.4,403.9 56.1,401.0Z" fill="#7bbde6"/>
<path d="M61.3,388.0 62.9,391.1 64.0,394.3 65.0,397.4 65.8,400.6 66.4,403.7 66.7,406.9 66.9,410.0 66.9,433.5 66.4,440.8 65.5,448.2 64.4,455.5 58.2,455.5 57.1,448.2 56.2,440.8 55.7,433.5 55.7,410.0 55.9,406.9 56.2,403.7 56.8,400.6 57.6,397.4 58.6,394.3 59.7,391.1 61.3,388.0Z" fill="#c6e6f7"/>
<path d="M61.3,401.0 62.7,403.9 63.7,406.7 64.6,409.6 65.3,412.4 65.9,415.3 66.2,418.1 66.3,421.0 66.3,435.4 65.8,441.6 65.1,447.8 64.0,454.0 58.6,454.0 57.5,447.8 56.8,441.6 56.3,435.4 56.3,421.0 56.4,418.1 56.7,415.3 57.3,412.4 58.0,409.6 58.9,406.7 59.9,403.9 61.3,401.0Z" fill="#7bbde6"/>
<path d="M70.2,372.8 71.0,375.9 71.7,379.1 72.2,382.2 72.7,385.4 73.0,388.5 73.2,391.7 73.3,394.8 73.3,433.5 73.0,440.8 72.5,448.2 71.9,455.5 68.4,455.5 67.8,448.2 67.3,440.8 67.0,433.5 67.0,394.8 67.1,391.7 67.3,388.5 67.6,385.4 68.1,382.2 68.6,379.1 69.3,375.9 70.2,372.8Z" fill="#fddc82"/>
<path d="M70.2,379.0 70.9,381.9 71.5,384.7 72.1,387.6 72.5,390.4 72.7,393.3 72.9,396.1 73.0,399.0 73.0,428.0 72.7,436.7 72.3,445.3 71.7,454.0 68.6,454.0 68.0,445.3 67.6,436.7 67.3,428.0 67.3,399.0 67.4,396.1 67.6,393.3 67.8,390.4 68.2,387.6 68.8,384.7 69.4,381.9 70.2,379.0Z" fill="#f99532"/>
<path d="M70.2,392.0 70.7,394.6 71.2,397.1 71.6,399.7 71.9,402.3 72.1,404.9 72.3,407.4 72.3,410.0 72.3,430.7 72.1,437.6 71.8,444.6 71.3,451.5 69.0,451.5 68.5,444.6 68.2,437.6 68.0,430.7 68.0,410.0 68.0,407.4 68.2,404.9 68.4,402.3 68.7,399.7 69.1,397.1 69.6,394.6 70.2,392.0Z" fill="#e34327"/>
<path d="M70.2,408.6 70.6,411.2 70.9,413.7 71.2,416.3 71.4,418.9 71.6,421.5 71.6,424.0 71.7,426.6 71.7,434.2 71.5,438.8 71.3,443.4 71.0,448.0 69.3,448.0 69.0,443.4 68.8,438.8 68.6,434.2 68.6,426.6 68.7,424.0 68.7,421.5 68.9,418.9 69.1,416.3 69.4,413.7 69.7,411.2 70.2,408.6Z" fill="#9a1a1e"/>
<path d="M76.8,379.0 77.8,382.1 78.5,385.3 79.1,388.4 79.5,391.6 79.9,394.7 80.1,397.9 80.2,401.0 80.2,433.5 79.9,440.8 79.3,448.2 78.7,455.5 75.0,455.5 74.4,448.2 73.8,440.8 73.5,433.5 73.5,401.0 73.6,397.9 73.8,394.7 74.2,391.6 74.6,388.4 75.2,385.3 75.9,382.1 76.8,379.0Z" fill="#c6e6f7"/>
<path d="M76.8,385.0 77.7,387.9 78.4,390.7 78.9,393.6 79.3,396.4 79.7,399.3 79.9,402.1 79.9,405.0 79.9,429.9 79.7,437.9 79.2,446.0 78.5,454.0 75.2,454.0 74.5,446.0 74.0,437.9 73.8,429.9 73.8,405.0 73.8,402.1 74.0,399.3 74.4,396.4 74.8,393.6 75.3,390.7 76.0,387.9 76.8,385.0Z" fill="#7bbde6"/>
<path d="M76.8,392.0 77.6,394.6 78.2,397.1 78.6,399.7 79.0,402.3 79.3,404.9 79.5,407.4 79.5,410.0 79.5,430.7 79.3,437.6 78.9,444.6 78.3,451.5 75.4,451.5 74.8,444.6 74.4,437.6 74.2,430.7 74.2,410.0 74.2,407.4 74.4,404.9 74.7,402.3 75.1,399.7 75.5,397.1 76.1,394.6 76.8,392.0Z" fill="#3375bd"/>
<path d="M76.8,404.8 77.4,407.4 77.9,409.9 78.2,412.5 78.5,415.1 78.7,417.7 78.8,420.2 78.9,422.8 78.9,432.9 78.7,437.9 78.4,443.0 78.0,448.0 75.7,448.0 75.3,443.0 75.0,437.9 74.8,432.9 74.8,422.8 74.9,420.2 75.0,417.7 75.2,415.1 75.5,412.5 75.8,409.9 76.3,407.4 76.8,404.8Z" fill="#1c3370"/>
<path d="M83.5,379.0 84.4,382.1 85.0,385.3 85.6,388.4 86.0,391.6 86.3,394.7 86.5,397.9 86.6,401.0 86.6,433.5 86.3,440.8 85.8,448.2 85.2,455.5 81.8,455.5 81.2,448.2 80.7,440.8 80.4,433.5 80.4,401.0 80.5,397.9 80.7,394.7 81.0,391.6 81.4,388.4 82.0,385.3 82.6,382.1 83.5,379.0Z" fill="#fddc82"/>
<path d="M83.5,386.0 84.3,388.9 84.9,391.7 85.4,394.6 85.8,397.4 86.0,400.3 86.2,403.1 86.3,406.0 86.3,430.2 86.0,438.1 85.6,446.1 85.0,454.0 82.0,454.0 81.4,446.1 81.0,438.1 80.7,430.2 80.7,406.0 80.8,403.1 81.0,400.3 81.2,397.4 81.6,394.6 82.1,391.7 82.7,388.9 83.5,386.0Z" fill="#f99532"/>
<path d="M83.5,398.0 84.1,400.6 84.5,403.1 84.9,405.7 85.2,408.3 85.4,410.9 85.5,413.4 85.6,416.0 85.6,432.8 85.4,439.0 85.1,445.3 84.6,451.5 82.4,451.5 81.9,445.3 81.6,439.0 81.4,432.8 81.4,416.0 81.5,413.4 81.6,410.9 81.8,408.3 82.1,405.7 82.5,403.1 82.9,400.6 83.5,398.0Z" fill="#e34327"/>
<path d="M83.5,417.5 83.9,419.9 84.2,422.3 84.5,424.7 84.7,427.1 84.9,429.5 85.0,431.9 85.0,434.3 85.0,437.3 84.9,440.9 84.6,444.4 84.3,448.0 82.7,448.0 82.4,444.4 82.1,440.9 82.0,437.3 82.0,434.3 82.0,431.9 82.1,429.5 82.3,427.1 82.5,424.7 82.8,422.3 83.1,419.9 83.5,417.5Z" fill="#9a1a1e"/>
<path d="M89.6,398.0 90.4,401.1 90.9,404.3 91.4,407.4 91.8,410.6 92.1,413.7 92.3,416.9 92.3,420.0 92.3,435.4 92.1,442.1 91.7,448.8 91.1,455.5 88.1,455.5 87.5,448.8 87.1,442.1 86.9,435.4 86.9,420.0 86.9,416.9 87.1,413.7 87.4,410.6 87.8,407.4 88.3,404.3 88.8,401.1 89.6,398.0Z" fill="#c6e6f7"/>
<path d="M89.6,405.0 90.3,407.9 90.8,410.7 91.3,413.6 91.6,416.4 91.9,419.3 92.0,422.1 92.1,425.0 92.1,436.9 91.9,442.6 91.5,448.3 91.0,454.0 88.2,454.0 87.7,448.3 87.3,442.6 87.1,436.9 87.1,425.0 87.2,422.1 87.3,419.3 87.6,416.4 87.9,413.6 88.4,410.7 88.9,407.9 89.6,405.0Z" fill="#7bbde6"/>
<path d="M95.4,375.3 96.2,378.4 96.8,381.6 97.3,384.7 97.7,387.9 98.0,391.0 98.2,394.2 98.2,397.3 98.2,433.5 98.0,440.8 97.5,448.2 96.9,455.5 93.9,455.5 93.3,448.2 92.8,440.8 92.6,433.5 92.6,397.3 92.6,394.2 92.8,391.0 93.1,387.9 93.5,384.7 94.0,381.6 94.6,378.4 95.4,375.3Z" fill="#fddc82"/>
<path d="M95.4,386.0 96.1,388.9 96.6,391.7 97.1,394.6 97.4,397.4 97.7,400.3 97.8,403.1 97.9,406.0 97.9,430.2 97.7,438.1 97.3,446.1 96.8,454.0 94.0,454.0 93.5,446.1 93.1,438.1 92.9,430.2 92.9,406.0 93.0,403.1 93.1,400.3 93.4,397.4 93.7,394.6 94.2,391.7 94.7,388.9 95.4,386.0Z" fill="#f99532"/>
<path d="M95.4,404.0 95.9,406.6 96.3,409.1 96.6,411.7 96.9,414.3 97.1,416.9 97.2,419.4 97.3,422.0 97.3,434.9 97.1,440.4 96.8,446.0 96.4,451.5 94.4,451.5 94.0,446.0 93.7,440.4 93.5,434.9 93.5,422.0 93.6,419.4 93.7,416.9 93.9,414.3 94.2,411.7 94.5,409.1 94.9,406.6 95.4,404.0Z" fill="#e34327"/>
<path d="M100.6,372.8 101.4,375.9 101.9,379.1 102.4,382.2 102.8,385.4 103.1,388.5 103.3,391.7 103.3,394.8 103.3,433.5 103.1,440.8 102.7,448.2 102.1,455.5 99.1,455.5 98.5,448.2 98.1,440.8 97.9,433.5 97.9,394.8 97.9,391.7 98.1,388.5 98.4,385.4 98.8,382.2 99.3,379.1 99.8,375.9 100.6,372.8Z" fill="#c6e6f7"/>
<path d="M100.6,385.6 101.3,388.5 101.8,391.3 102.3,394.2 102.6,397.0 102.9,399.9 103.0,402.7 103.1,405.6 103.1,430.1 102.9,438.0 102.5,446.0 102.0,454.0 99.2,454.0 98.7,446.0 98.3,438.0 98.1,430.1 98.1,405.6 98.2,402.7 98.3,399.9 98.6,397.0 98.9,394.2 99.4,391.3 99.9,388.5 100.6,385.6Z" fill="#7bbde6"/>
<path d="M100.6,395.0 101.2,397.6 101.6,400.1 102.0,402.7 102.2,405.3 102.5,407.9 102.6,410.4 102.6,413.0 102.6,431.7 102.5,438.3 102.1,444.9 101.7,451.5 99.5,451.5 99.1,444.9 98.7,438.3 98.6,431.7 98.6,413.0 98.6,410.4 98.7,407.9 99.0,405.3 99.2,402.7 99.6,400.1 100.0,397.6 100.6,395.0Z" fill="#3375bd"/>
<path d="M100.6,402.0 101.1,404.6 101.4,407.1 101.7,409.7 102.0,412.3 102.1,414.9 102.2,417.4 102.3,420.0 102.3,431.9 102.1,437.3 101.9,442.6 101.5,448.0 99.7,448.0 99.3,442.6 99.1,437.3 98.9,431.9 98.9,420.0 99.0,417.4 99.1,414.9 99.2,412.3 99.5,409.7 99.8,407.1 100.1,404.6 100.6,402.0Z" fill="#1c3370"/>
<path d="M106.0,379.0 106.5,382.1 107.0,385.3 107.3,388.4 107.6,391.6 107.8,394.7 107.9,397.9 107.9,401.0 107.9,433.5 107.8,440.8 107.5,448.2 107.1,455.5 104.9,455.5 104.5,448.2 104.2,440.8 104.1,433.5 104.1,401.0 104.1,397.9 104.2,394.7 104.4,391.6 104.7,388.4 105.0,385.3 105.5,382.1 106.0,379.0Z" fill="#fddc82"/>
<path d="M106.0,388.0 106.5,390.9 106.8,393.7 107.2,396.6 107.4,399.4 107.6,402.3 107.7,405.1 107.7,408.0 107.7,430.9 107.6,438.6 107.3,446.3 106.9,454.0 105.1,454.0 104.7,446.3 104.4,438.6 104.3,430.9 104.3,408.0 104.3,405.1 104.4,402.3 104.6,399.4 104.8,396.6 105.2,393.7 105.5,390.9 106.0,388.0Z" fill="#f99532"/>
<path d="M106.0,404.8 106.4,407.4 106.6,409.9 106.9,412.5 107.0,415.1 107.2,417.7 107.3,420.2 107.3,422.8 107.3,435.2 107.2,440.6 107.0,446.1 106.7,451.5 105.3,451.5 105.0,446.1 104.8,440.6 104.7,435.2 104.7,422.8 104.7,420.2 104.8,417.7 105.0,415.1 105.1,412.5 105.4,409.9 105.6,407.4 106.0,404.8Z" fill="#e34327"/>
<path d="M106.0,420.0 106.3,422.2 106.5,424.4 106.6,426.6 106.8,428.8 106.9,431.0 106.9,433.2 106.9,435.4 106.9,438.2 106.9,441.5 106.7,444.7 106.5,448.0 105.5,448.0 105.3,444.7 105.1,441.5 105.1,438.2 105.1,435.4 105.1,433.2 105.1,431.0 105.2,428.8 105.4,426.6 105.5,424.4 105.7,422.2 106.0,420.0Z" fill="#9a1a1e"/>
<path d="M112.4,385.6 113.4,388.7 114.2,391.9 114.9,395.0 115.4,398.2 115.8,401.3 116.0,404.5 116.1,407.6 116.1,433.5 115.8,440.8 115.2,448.2 114.4,455.5 110.4,455.5 109.6,448.2 109.0,440.8 108.7,433.5 108.7,407.6 108.8,404.5 109.0,401.3 109.4,398.2 109.9,395.0 110.6,391.9 111.4,388.7 112.4,385.6Z" fill="#c6e6f7"/>
<path d="M112.4,408.6 113.3,411.5 114.0,414.3 114.5,417.2 115.0,420.0 115.3,422.9 115.5,425.7 115.6,428.6 115.6,438.1 115.3,443.4 114.8,448.7 114.2,454.0 110.6,454.0 110.0,448.7 109.5,443.4 109.2,438.1 109.2,428.6 109.3,425.7 109.5,422.9 109.8,420.0 110.3,417.2 110.8,414.3 111.5,411.5 112.4,408.6Z" fill="#7bbde6"/>
<path d="M120.3,417.5 120.7,420.5 120.9,423.5 121.1,426.5 121.3,429.4 121.4,432.4 121.5,435.4 121.5,438.4 121.5,442.2 121.4,446.6 121.2,451.1 121.0,455.5 119.7,455.5 119.5,451.1 119.3,446.6 119.2,442.2 119.2,438.4 119.2,435.4 119.3,432.4 119.4,429.4 119.6,426.5 119.8,423.5 120.0,420.5 120.3,417.5Z" fill="#fddc82"/>
<path d="M123.3,395.0 123.8,398.1 124.1,401.3 124.4,404.4 124.7,407.6 124.8,410.7 124.9,413.9 125.0,417.0 125.0,434.3 124.8,441.4 124.6,448.4 124.2,455.5 122.4,455.5 122.0,448.4 121.8,441.4 121.6,434.3 121.6,417.0 121.7,413.9 121.8,410.7 121.9,407.6 122.2,404.4 122.5,401.3 122.8,398.1 123.3,395.0Z" fill="#c6e6f7"/>
<path d="M127.8,376.6 128.4,379.7 129.0,382.9 129.4,386.0 129.8,389.2 130.0,392.3 130.2,395.5 130.3,398.6 130.3,433.5 130.0,440.8 129.6,448.2 129.1,455.5 126.4,455.5 125.9,448.2 125.5,440.8 125.2,433.5 125.2,398.6 125.3,395.5 125.5,392.3 125.7,389.2 126.1,386.0 126.5,382.9 127.1,379.7 127.8,376.6Z" fill="#fddc82"/>
<path d="M127.8,386.0 128.4,388.9 128.8,391.7 129.2,394.6 129.6,397.4 129.8,400.3 129.9,403.1 130.0,406.0 130.0,430.2 129.8,438.1 129.4,446.1 129.0,454.0 126.5,454.0 126.1,446.1 125.7,438.1 125.5,430.2 125.5,406.0 125.6,403.1 125.7,400.3 125.9,397.4 126.3,394.6 126.7,391.7 127.1,388.9 127.8,386.0Z" fill="#f99532"/>
<path d="M127.8,408.6 128.2,411.2 128.6,413.7 128.9,416.3 129.1,418.9 129.3,421.5 129.4,424.0 129.4,426.6 129.4,436.5 129.3,441.5 129.0,446.5 128.7,451.5 126.8,451.5 126.5,446.5 126.2,441.5 126.1,436.5 126.1,426.6 126.1,424.0 126.2,421.5 126.4,418.9 126.6,416.3 126.9,413.7 127.3,411.2 127.8,408.6Z" fill="#e34327"/>
<path d="M134.4,372.8 135.3,375.9 136.1,379.1 136.6,382.2 137.1,385.4 137.5,388.5 137.7,391.7 137.8,394.8 137.8,433.5 137.5,440.8 136.9,448.2 136.2,455.5 132.6,455.5 131.9,448.2 131.3,440.8 131.0,433.5 131.0,394.8 131.1,391.7 131.3,388.5 131.7,385.4 132.2,382.2 132.7,379.1 133.5,375.9 134.4,372.8Z" fill="#c6e6f7"/>
<path d="M134.4,395.8 135.2,398.7 135.8,401.5 136.4,404.4 136.8,407.2 137.1,410.1 137.3,412.9 137.3,415.8 137.3,433.6 137.1,440.4 136.6,447.2 136.0,454.0 132.8,454.0 132.2,447.2 131.7,440.4 131.5,433.6 131.5,415.8 131.5,412.9 131.7,410.1 132.0,407.2 132.4,404.4 133.0,401.5 133.6,398.7 134.4,395.8Z" fill="#7bbde6"/>
<path d="M134.4,405.0 135.1,407.6 135.6,410.1 136.1,412.7 136.4,415.3 136.7,417.9 136.8,420.4 136.9,423.0 136.9,435.2 136.7,440.7 136.3,446.1 135.8,451.5 133.0,451.5 132.5,446.1 132.1,440.7 131.9,435.2 131.9,423.0 132.0,420.4 132.1,417.9 132.4,415.3 132.7,412.7 133.2,410.1 133.7,407.6 134.4,405.0Z" fill="#3375bd"/>
<path d="M134.4,415.0 135.0,417.6 135.4,420.1 135.8,422.7 136.1,425.3 136.3,427.9 136.4,430.4 136.5,433.0 136.5,436.4 136.3,440.3 136.0,444.1 135.5,448.0 133.3,448.0 132.8,444.1 132.5,440.3 132.3,436.4 132.3,433.0 132.4,430.4 132.5,427.9 132.7,425.3 133.0,422.7 133.4,420.1 133.8,417.6 134.4,415.0Z" fill="#1c3370"/>
<path d="M141.8,352.0 142.8,355.8 143.6,359.5 144.3,363.3 144.8,367.0 145.2,370.8 145.4,374.5 145.5,378.3 145.5,433.5 145.2,440.8 144.6,448.2 143.8,455.5 139.8,455.5 139.0,448.2 138.4,440.8 138.1,433.5 138.1,378.3 138.2,374.5 138.4,370.8 138.8,367.0 139.3,363.3 140.0,359.5 140.8,355.8 141.8,352.0Z" fill="#fddc82"/>
<path d="M141.8,366.4 142.7,369.6 143.4,372.8 144.0,376.0 144.4,379.3 144.8,382.5 145.0,385.7 145.1,388.9 145.1,428.0 144.8,436.7 144.3,445.3 143.6,454.0 140.0,454.0 139.3,445.3 138.8,436.7 138.5,428.0 138.5,388.9 138.6,385.7 138.8,382.5 139.2,379.3 139.6,376.0 140.2,372.8 140.9,369.6 141.8,366.4Z" fill="#f99532"/>
<path d="M149.0,361.5 149.9,364.9 150.5,368.3 151.1,371.7 151.6,375.1 151.9,378.5 152.1,381.9 152.2,385.3 152.2,433.5 151.9,440.8 151.4,448.2 150.7,455.5 147.3,455.5 146.6,448.2 146.1,440.8 145.8,433.5 145.8,385.3 145.9,381.9 146.1,378.5 146.4,375.1 146.9,371.7 147.5,368.3 148.1,364.9 149.0,361.5Z" fill="#c6e6f7"/>
<path d="M149.0,420.0 149.8,422.7 150.4,425.3 150.8,428.0 151.2,430.7 151.5,433.4 151.7,436.0 151.7,438.7 151.7,442.1 151.5,446.1 151.1,450.0 150.5,454.0 147.5,454.0 146.9,450.0 146.5,446.1 146.3,442.1 146.3,438.7 146.3,436.0 146.5,433.4 146.8,430.7 147.2,428.0 147.6,425.3 148.2,422.7 149.0,420.0Z" fill="#7bbde6"/>
<path d="M156.4,378.5 156.9,381.6 157.2,384.8 157.5,387.9 157.8,391.1 157.9,394.2 158.0,397.4 158.1,400.5 158.1,433.5 157.9,440.8 157.7,448.2 157.3,455.5 155.5,455.5 155.1,448.2 154.9,440.8 154.7,433.5 154.7,400.5 154.8,397.4 154.9,394.2 155.0,391.1 155.3,387.9 155.6,384.8 155.9,381.6 156.4,378.5Z" fill="#fddc82"/>
<path d="M163.3,380.0 164.1,383.1 164.7,386.3 165.2,389.4 165.6,392.6 165.9,395.7 166.1,398.9 166.1,402.0 166.1,433.5 165.9,440.8 165.4,448.2 164.9,455.5 161.7,455.5 161.2,448.2 160.7,440.8 160.5,433.5 160.5,402.0 160.5,398.9 160.7,395.7 161.0,392.6 161.4,389.4 161.9,386.3 162.5,383.1 163.3,380.0Z" fill="#c6e6f7"/>
<path d="M170.7,352.3 171.6,356.0 172.3,359.8 172.9,363.5 173.4,367.3 173.8,371.0 174.0,374.7 174.0,378.5 174.0,433.5 173.7,440.8 173.2,448.2 172.5,455.5 168.8,455.5 168.1,448.2 167.6,440.8 167.3,433.5 167.3,378.5 167.3,374.7 167.5,371.0 167.9,367.3 168.4,363.5 169.0,359.8 169.7,356.0 170.7,352.3Z" fill="#fddc82"/>
<path d="M170.7,363.0 171.5,366.3 172.1,369.7 172.7,373.0 173.1,376.4 173.4,379.7 173.6,383.1 173.7,386.4 173.7,428.0 173.4,436.7 172.9,445.3 172.3,454.0 169.0,454.0 168.4,445.3 167.9,436.7 167.6,428.0 167.6,386.4 167.7,383.1 167.9,379.7 168.2,376.4 168.6,373.0 169.2,369.7 169.8,366.3 170.7,363.0Z" fill="#f99532"/>
<path d="M170.7,378.5 171.3,381.3 171.8,384.0 172.2,386.8 172.5,389.6 172.7,392.3 172.9,395.1 172.9,397.9 172.9,425.9 172.7,434.5 172.4,443.0 171.9,451.5 169.4,451.5 168.9,443.0 168.6,434.5 168.4,425.9 168.4,397.9 168.4,395.1 168.6,392.3 168.8,389.6 169.1,386.8 169.5,384.0 170.0,381.3 170.7,378.5Z" fill="#e34327"/>
<path d="M170.7,390.8 171.1,393.4 171.5,395.9 171.8,398.5 172.0,401.1 172.2,403.7 172.3,406.2 172.3,408.8 172.3,428.0 172.2,434.7 171.9,441.3 171.6,448.0 169.7,448.0 169.4,441.3 169.1,434.7 169.0,428.0 169.0,408.8 169.0,406.2 169.1,403.7 169.3,401.1 169.5,398.5 169.8,395.9 170.2,393.4 170.7,390.8Z" fill="#9a1a1e"/>
<path d="M178.8,363.0 180.0,366.3 180.9,369.7 181.7,373.0 182.4,376.4 182.8,379.7 183.1,383.1 183.2,386.4 183.2,433.5 182.8,440.8 182.1,448.2 181.2,455.5 176.3,455.5 175.4,448.2 174.7,440.8 174.3,433.5 174.3,386.4 174.4,383.1 174.7,379.7 175.1,376.4 175.8,373.0 176.6,369.7 177.5,366.3 178.8,363.0Z" fill="#c6e6f7"/>
<path d="M178.8,383.0 179.9,385.9 180.7,388.7 181.4,391.6 182.0,394.4 182.4,397.3 182.6,400.1 182.7,403.0 182.7,429.1 182.4,437.4 181.7,445.7 180.9,454.0 176.6,454.0 175.8,445.7 175.1,437.4 174.8,429.1 174.8,403.0 174.9,400.1 175.1,397.3 175.5,394.4 176.1,391.6 176.8,388.7 177.6,385.9 178.8,383.0Z" fill="#7bbde6"/>
<path d="M178.8,400.0 179.7,402.6 180.4,405.1 181.0,407.7 181.4,410.3 181.8,412.9 182.0,415.4 182.1,418.0 182.1,433.5 181.8,439.5 181.3,445.5 180.6,451.5 176.9,451.5 176.2,445.5 175.7,439.5 175.4,433.5 175.4,418.0 175.5,415.4 175.7,412.9 176.1,410.3 176.5,407.7 177.1,405.1 177.8,402.6 178.8,400.0Z" fill="#3375bd"/>
<path d="M178.8,417.0 179.5,419.4 180.1,421.9 180.6,424.3 181.0,426.7 181.3,429.2 181.4,431.6 181.5,434.1 181.5,437.1 181.3,440.8 180.8,444.4 180.3,448.0 177.2,448.0 176.7,444.4 176.2,440.8 176.0,437.1 176.0,434.1 176.1,431.6 176.2,429.2 176.5,426.7 176.9,424.3 177.4,421.9 178.0,419.4 178.8,417.0Z" fill="#1c3370"/>
<path d="M184.1,380.0 184.7,383.1 185.1,386.3 185.4,389.4 185.7,392.6 185.9,395.7 186.1,398.9 186.1,402.0 186.1,433.5 185.9,440.8 185.6,448.2 185.2,455.5 183.0,455.5 182.6,448.2 182.3,440.8 182.1,433.5 182.1,402.0 182.1,398.9 182.3,395.7 182.5,392.6 182.8,389.4 183.1,386.3 183.5,383.1 184.1,380.0Z" fill="#c6e6f7"/>
<path d="M186.8,406.0 187.1,409.1 187.4,412.3 187.7,415.4 187.9,418.6 188.0,421.7 188.1,424.9 188.1,428.0 188.1,438.2 188.0,443.9 187.8,449.7 187.5,455.5 186.0,455.5 185.7,449.7 185.5,443.9 185.4,438.2 185.4,428.0 185.4,424.9 185.5,421.7 185.6,418.6 185.8,415.4 186.1,412.3 186.4,409.1 186.8,406.0Z" fill="#fddc82"/>
<path d="M192.8,367.7 193.8,370.9 194.7,374.0 195.4,377.2 195.9,380.4 196.4,383.5 196.6,386.7 196.7,389.9 196.7,433.5 196.3,440.8 195.7,448.2 194.9,455.5 190.6,455.5 189.8,448.2 189.2,440.8 188.8,433.5 188.8,389.9 188.9,386.7 189.1,383.5 189.6,380.4 190.1,377.2 190.8,374.0 191.7,370.9 192.8,367.7Z" fill="#c6e6f7"/>
<path d="M192.8,386.0 193.7,388.9 194.5,391.7 195.1,394.6 195.6,397.4 196.0,400.3 196.2,403.1 196.3,406.0 196.3,430.2 196.0,438.1 195.4,446.1 194.7,454.0 190.8,454.0 190.1,446.1 189.5,438.1 189.2,430.2 189.2,406.0 189.3,403.1 189.5,400.3 189.9,397.4 190.4,394.6 191.0,391.7 191.8,388.9 192.8,386.0Z" fill="#7bbde6"/>
<path d="M192.8,404.6 193.6,407.2 194.2,409.7 194.7,412.3 195.1,414.9 195.4,417.5 195.6,420.0 195.7,422.6 195.7,435.1 195.4,440.6 195.0,446.0 194.4,451.5 191.1,451.5 190.5,446.0 190.1,440.6 189.8,435.1 189.8,422.6 189.9,420.0 190.1,417.5 190.4,414.9 190.8,412.3 191.3,409.7 191.9,407.2 192.8,404.6Z" fill="#3375bd"/>
<path d="M200.9,358.5 201.7,362.0 202.2,365.5 202.7,369.0 203.1,372.5 203.4,376.1 203.6,379.6 203.6,383.1 203.6,433.5 203.4,440.8 203.0,448.2 202.4,455.5 199.4,455.5 198.8,448.2 198.4,440.8 198.2,433.5 198.2,383.1 198.2,379.6 198.4,376.1 198.7,372.5 199.1,369.0 199.6,365.5 200.1,362.0 200.9,358.5Z" fill="#fddc82"/>
<path d="M200.9,367.7 201.6,370.9 202.1,374.0 202.5,377.2 202.9,380.4 203.1,383.5 203.3,386.7 203.4,389.9 203.4,428.0 203.1,436.7 202.8,445.3 202.3,454.0 199.5,454.0 199.0,445.3 198.7,436.7 198.4,428.0 198.4,389.9 198.5,386.7 198.7,383.5 198.9,380.4 199.3,377.2 199.7,374.0 200.2,370.9 200.9,367.7Z" fill="#f99532"/>
<path d="M200.9,383.0 201.4,385.6 201.8,388.2 202.1,390.8 202.4,393.4 202.6,396.0 202.7,398.6 202.7,401.2 202.7,427.5 202.6,435.5 202.3,443.5 201.9,451.5 199.9,451.5 199.5,443.5 199.2,435.5 199.1,427.5 199.1,401.2 199.1,398.6 199.2,396.0 199.4,393.4 199.7,390.8 200.0,388.2 200.4,385.6 200.9,383.0Z" fill="#e34327"/>
<path d="M200.9,395.0 201.3,397.6 201.6,400.1 201.8,402.7 202.0,405.3 202.1,407.9 202.2,410.4 202.2,413.0 202.2,429.4 202.1,435.6 201.9,441.8 201.6,448.0 200.2,448.0 199.9,441.8 199.7,435.6 199.6,429.4 199.6,413.0 199.6,410.4 199.7,407.9 199.8,405.3 200.0,402.7 200.2,400.1 200.5,397.6 200.9,395.0Z" fill="#9a1a1e"/>
<path d="M209.8,366.0 211.4,369.2 212.7,372.5 213.8,375.7 214.6,378.9 215.3,382.2 215.7,385.4 215.8,388.6 215.8,433.5 215.3,440.8 214.3,448.2 213.1,455.5 206.4,455.5 205.2,448.2 204.2,440.8 203.7,433.5 203.7,388.6 203.8,385.4 204.2,382.2 204.9,378.9 205.7,375.7 206.8,372.5 208.1,369.2 209.8,366.0Z" fill="#c6e6f7"/>
<path d="M209.8,374.0 211.3,376.9 212.5,379.9 213.5,382.8 214.3,385.7 214.9,388.7 215.2,391.6 215.3,394.5 215.3,428.0 214.9,436.7 214.0,445.3 212.8,454.0 206.7,454.0 205.5,445.3 204.6,436.7 204.2,428.0 204.2,394.5 204.3,391.6 204.6,388.7 205.2,385.7 206.0,382.8 207.0,379.9 208.2,376.9 209.8,374.0Z" fill="#7bbde6"/>
<path d="M209.8,386.0 211.0,388.6 212.0,391.1 212.9,393.7 213.5,396.3 214.0,398.9 214.3,401.4 214.4,404.0 214.4,428.6 214.0,436.2 213.3,443.9 212.3,451.5 207.2,451.5 206.2,443.9 205.5,436.2 205.1,428.6 205.1,404.0 205.2,401.4 205.5,398.9 206.0,396.3 206.6,393.7 207.5,391.1 208.5,388.6 209.8,386.0Z" fill="#3375bd"/>
<path d="M209.8,390.0 210.8,392.6 211.6,395.1 212.2,397.7 212.8,400.3 213.2,402.9 213.4,405.4 213.5,408.0 213.5,427.7 213.2,434.5 212.6,441.2 211.8,448.0 207.7,448.0 206.9,441.2 206.3,434.5 206.0,427.7 206.0,408.0 206.1,405.4 206.3,402.9 206.7,400.3 207.3,397.7 207.9,395.1 208.7,392.6 209.8,390.0Z" fill="#1c3370"/>
<path d="M222.4,352.3 223.5,356.0 224.4,359.8 225.1,363.5 225.7,367.3 226.1,371.0 226.4,374.7 226.4,378.5 226.4,433.5 226.1,440.8 225.5,448.2 224.6,455.5 220.2,455.5 219.3,448.2 218.7,440.8 218.4,433.5 218.4,378.5 218.4,374.7 218.7,371.0 219.1,367.3 219.7,363.5 220.4,359.8 221.3,356.0 222.4,352.3Z" fill="#fddc82"/>
<path d="M222.4,358.5 223.4,362.0 224.2,365.5 224.9,369.0 225.4,372.5 225.8,376.1 226.0,379.6 226.1,383.1 226.1,428.0 225.8,436.7 225.2,445.3 224.4,454.0 220.4,454.0 219.6,445.3 219.0,436.7 218.7,428.0 218.7,383.1 218.8,379.6 219.0,376.1 219.4,372.5 219.9,369.0 220.6,365.5 221.4,362.0 222.4,358.5Z" fill="#f99532"/>
<path d="M222.4,366.0 223.3,369.2 223.9,372.5 224.5,375.7 224.9,378.9 225.3,382.2 225.5,385.4 225.5,388.6 225.5,421.6 225.3,431.6 224.8,441.5 224.1,451.5 220.7,451.5 220.0,441.5 219.5,431.6 219.3,421.6 219.3,388.6 219.3,385.4 219.5,382.2 219.9,378.9 220.3,375.7 220.9,372.5 221.5,369.2 222.4,366.0Z" fill="#e34327"/>
<path d="M222.4,373.8 223.0,376.7 223.5,379.7 223.9,382.6 224.3,385.6 224.5,388.5 224.6,391.5 224.7,394.4 224.7,422.0 224.5,430.7 224.1,439.3 223.7,448.0 221.1,448.0 220.7,439.3 220.3,430.7 220.1,422.0 220.1,394.4 220.2,391.5 220.3,388.5 220.5,385.6 220.9,382.6 221.3,379.7 221.8,376.7 222.4,373.8Z" fill="#9a1a1e"/>
<path d="M232.5,367.7 234.1,370.9 235.3,374.0 236.4,377.2 237.2,380.4 237.8,383.5 238.2,386.7 238.3,389.9 238.3,433.5 237.8,440.8 236.9,448.2 235.7,455.5 229.3,455.5 228.1,448.2 227.2,440.8 226.7,433.5 226.7,389.9 226.8,386.7 227.2,383.5 227.8,380.4 228.6,377.2 229.7,374.0 230.9,370.9 232.5,367.7Z" fill="#c6e6f7"/>
<path d="M232.5,381.5 234.0,384.4 235.1,387.2 236.0,390.1 236.7,392.9 237.3,395.8 237.6,398.6 237.7,401.5 237.7,428.6 237.3,437.1 236.5,445.5 235.4,454.0 229.6,454.0 228.5,445.5 227.7,437.1 227.3,428.6 227.3,401.5 227.4,398.6 227.7,395.8 228.3,392.9 229.0,390.1 229.9,387.2 231.0,384.4 232.5,381.5Z" fill="#7bbde6"/>
<path d="M232.5,392.0 233.7,394.6 234.6,397.1 235.4,399.7 236.0,402.3 236.4,404.9 236.7,407.4 236.8,410.0 236.8,430.7 236.4,437.6 235.7,444.6 234.9,451.5 230.1,451.5 229.3,444.6 228.6,437.6 228.2,430.7 228.2,410.0 228.3,407.4 228.6,404.9 229.0,402.3 229.6,399.7 230.4,397.1 231.3,394.6 232.5,392.0Z" fill="#3375bd"/>
<path d="M232.5,398.5 233.5,401.1 234.3,403.6 234.9,406.2 235.4,408.8 235.8,411.4 236.0,413.9 236.1,416.5 236.1,430.7 235.8,436.4 235.2,442.2 234.5,448.0 230.5,448.0 229.8,442.2 229.2,436.4 228.9,430.7 228.9,416.5 229.0,413.9 229.2,411.4 229.6,408.8 230.1,406.2 230.7,403.6 231.5,401.1 232.5,398.5Z" fill="#1c3370"/>
<path d="M241.7,349.0 242.6,352.9 243.3,356.7 243.9,360.6 244.4,364.5 244.8,368.3 245.0,372.2 245.0,376.0 245.0,433.5 244.7,440.8 244.2,448.2 243.5,455.5 239.8,455.5 239.1,448.2 238.6,440.8 238.3,433.5 238.3,376.0 238.3,372.2 238.5,368.3 238.9,364.5 239.4,360.6 240.0,356.7 240.7,352.9 241.7,349.0Z" fill="#fddc82"/>
<path d="M241.7,355.0 242.5,358.6 243.2,362.3 243.7,365.9 244.2,369.6 244.5,373.2 244.7,376.8 244.8,380.5 244.8,428.0 244.5,436.7 244.0,445.3 243.4,454.0 239.9,454.0 239.3,445.3 238.8,436.7 238.5,428.0 238.5,380.5 238.6,376.8 238.8,373.2 239.1,369.6 239.6,365.9 240.1,362.3 240.8,358.6 241.7,355.0Z" fill="#f99532"/>
<path d="M241.7,360.0 242.4,363.5 243.0,366.9 243.5,370.4 243.8,373.8 244.1,377.3 244.3,380.7 244.3,384.2 244.3,421.5 244.1,431.5 243.7,441.5 243.1,451.5 240.2,451.5 239.6,441.5 239.2,431.5 239.0,421.5 239.0,384.2 239.0,380.7 239.2,377.3 239.5,373.8 239.8,370.4 240.3,366.9 240.9,363.5 241.7,360.0Z" fill="#e34327"/>
<path d="M241.7,363.0 242.3,366.3 242.7,369.7 243.1,373.0 243.5,376.4 243.7,379.7 243.8,383.1 243.9,386.4 243.9,418.2 243.7,428.2 243.3,438.1 242.9,448.0 240.4,448.0 240.0,438.1 239.6,428.2 239.4,418.2 239.4,386.4 239.5,383.1 239.6,379.7 239.8,376.4 240.2,373.0 240.6,369.7 241.0,366.3 241.7,363.0Z" fill="#9a1a1e"/>
<path d="M253.5,365.0 255.8,368.3 257.6,371.5 259.1,374.8 260.3,378.1 261.2,381.3 261.7,384.6 261.9,387.9 261.9,433.5 261.2,440.8 259.8,448.2 258.1,455.5 248.9,455.5 247.2,448.2 245.8,440.8 245.1,433.5 245.1,387.9 245.3,384.6 245.8,381.3 246.7,378.1 247.9,374.8 249.4,371.5 251.2,368.3 253.5,365.0Z" fill="#c6e6f7"/>
<path d="M253.5,384.6 255.6,387.5 257.2,390.3 258.5,393.2 259.6,396.0 260.3,398.9 260.8,401.7 261.0,404.6 261.0,429.7 260.3,437.8 259.1,445.9 257.6,454.0 249.4,454.0 247.9,445.9 246.7,437.8 246.0,429.7 246.0,404.6 246.2,401.7 246.7,398.9 247.4,396.0 248.5,393.2 249.8,390.3 251.4,387.5 253.5,384.6Z" fill="#7bbde6"/>
<path d="M253.5,395.4 255.2,398.0 256.6,400.5 257.7,403.1 258.6,405.7 259.2,408.3 259.6,410.8 259.8,413.4 259.8,431.9 259.2,438.4 258.2,445.0 256.9,451.5 250.1,451.5 248.8,445.0 247.8,438.4 247.2,431.9 247.2,413.4 247.4,410.8 247.8,408.3 248.4,405.7 249.3,403.1 250.4,400.5 251.8,398.0 253.5,395.4Z" fill="#3375bd"/>
<path d="M253.5,404.6 254.9,407.2 256.1,409.7 257.0,412.3 257.7,414.9 258.2,417.5 258.6,420.0 258.7,422.6 258.7,432.8 258.2,437.9 257.4,442.9 256.4,448.0 250.6,448.0 249.6,442.9 248.8,437.9 248.3,432.8 248.3,422.6 248.4,420.0 248.8,417.5 249.3,414.9 250.0,412.3 250.9,409.7 252.1,407.2 253.5,404.6Z" fill="#1c3370"/>
<path d="M266.2,347.7 267.3,351.6 268.1,355.5 268.8,359.4 269.3,363.3 269.7,367.3 269.9,371.2 270.0,375.1 270.0,433.5 269.7,440.8 269.1,448.2 268.3,455.5 264.2,455.5 263.4,448.2 262.8,440.8 262.5,433.5 262.5,375.1 262.6,371.2 262.8,367.3 263.2,363.3 263.7,359.4 264.4,355.5 265.2,351.6 266.2,347.7Z" fill="#fddc82"/>
<path d="M266.2,352.0 267.2,355.8 267.9,359.5 268.6,363.3 269.1,367.0 269.4,370.8 269.6,374.5 269.7,378.3 269.7,428.0 269.4,436.7 268.9,445.3 268.1,454.0 264.4,454.0 263.6,445.3 263.1,436.7 262.8,428.0 262.8,378.3 262.9,374.5 263.1,370.8 263.4,367.0 263.9,363.3 264.6,359.5 265.3,355.8 266.2,352.0Z" fill="#f99532"/>
<path d="M266.2,355.4 267.1,359.0 267.8,362.7 268.3,366.3 268.7,369.9 269.1,373.5 269.3,377.2 269.3,380.8 269.3,421.5 269.1,431.5 268.6,441.5 267.9,451.5 264.6,451.5 263.9,441.5 263.4,431.5 263.2,421.5 263.2,380.8 263.2,377.2 263.4,373.5 263.8,369.9 264.2,366.3 264.7,362.7 265.4,359.0 266.2,355.4Z" fill="#e34327"/>
<path d="M266.2,367.7 266.9,370.9 267.3,374.0 267.7,377.2 268.0,380.4 268.3,383.5 268.4,386.7 268.5,389.9 268.5,419.9 268.3,429.3 267.9,438.6 267.5,448.0 265.0,448.0 264.6,438.6 264.2,429.3 264.0,419.9 264.0,389.9 264.1,386.7 264.2,383.5 264.5,380.4 264.8,377.2 265.2,374.0 265.6,370.9 266.2,367.7Z" fill="#9a1a1e"/>
<path d="M273.6,363.0 274.4,366.3 275.1,369.7 275.7,373.0 276.1,376.4 276.5,379.7 276.7,383.1 276.8,386.4 276.8,433.5 276.5,440.8 276.0,448.2 275.3,455.5 271.8,455.5 271.1,448.2 270.6,440.8 270.3,433.5 270.3,386.4 270.4,383.1 270.6,379.7 271.0,376.4 271.4,373.0 272.0,369.7 272.7,366.3 273.6,363.0Z" fill="#c6e6f7"/>
<path d="M273.6,378.5 274.4,381.4 275.0,384.2 275.5,387.1 275.9,389.9 276.2,392.8 276.4,395.6 276.4,398.5 276.4,428.0 276.2,436.7 275.7,445.3 275.1,454.0 272.0,454.0 271.4,445.3 270.9,436.7 270.7,428.0 270.7,398.5 270.7,395.6 270.9,392.8 271.2,389.9 271.6,387.1 272.1,384.2 272.7,381.4 273.6,378.5Z" fill="#7bbde6"/>
<path d="M273.6,390.0 274.2,392.6 274.7,395.1 275.1,397.7 275.5,400.3 275.7,402.9 275.9,405.4 275.9,408.0 275.9,430.0 275.7,437.2 275.4,444.3 274.9,451.5 272.2,451.5 271.7,444.3 271.4,437.2 271.2,430.0 271.2,408.0 271.2,405.4 271.4,402.9 271.6,400.3 272.0,397.7 272.4,395.1 272.9,392.6 273.6,390.0Z" fill="#3375bd"/>
<path d="M273.6,398.5 274.1,401.1 274.5,403.6 274.9,406.2 275.2,408.8 275.4,411.4 275.5,413.9 275.5,416.5 275.5,430.7 275.4,436.4 275.0,442.2 274.6,448.0 272.5,448.0 272.1,442.2 271.7,436.4 271.6,430.7 271.6,416.5 271.6,413.9 271.7,411.4 271.9,408.8 272.2,406.2 272.6,403.6 273.0,401.1 273.6,398.5Z" fill="#1c3370"/>
<path d="M281.0,355.4 281.7,359.0 282.3,362.7 282.8,366.3 283.1,369.9 283.4,373.5 283.6,377.2 283.6,380.8 283.6,433.5 283.4,440.8 283.0,448.2 282.5,455.5 279.5,455.5 279.0,448.2 278.6,440.8 278.4,433.5 278.4,380.8 278.4,377.2 278.6,373.5 278.9,369.9 279.2,366.3 279.7,362.7 280.3,359.0 281.0,355.4Z" fill="#fddc82"/>
<path d="M281.0,362.0 281.7,365.4 282.2,368.8 282.6,372.1 283.0,375.5 283.2,378.9 283.4,382.3 283.4,385.7 283.4,428.0 283.2,436.7 282.8,445.3 282.3,454.0 279.7,454.0 279.2,445.3 278.8,436.7 278.6,428.0 278.6,385.7 278.6,382.3 278.8,378.9 279.0,375.5 279.4,372.1 279.8,368.8 280.3,365.4 281.0,362.0Z" fill="#f99532"/>
<path d="M281.0,370.8 281.6,373.9 282.0,376.9 282.3,380.0 282.6,383.0 282.8,386.1 282.9,389.1 283.0,392.2 283.0,423.3 282.8,432.7 282.5,442.1 282.1,451.5 279.9,451.5 279.5,442.1 279.2,432.7 279.0,423.3 279.0,392.2 279.1,389.1 279.2,386.1 279.4,383.0 279.7,380.0 280.0,376.9 280.4,373.9 281.0,370.8Z" fill="#e34327"/>
<path d="M281.0,386.0 281.4,388.6 281.6,391.1 281.9,393.7 282.0,396.3 282.2,398.9 282.3,401.4 282.3,404.0 282.3,426.3 282.2,433.5 282.0,440.8 281.7,448.0 280.3,448.0 280.0,440.8 279.8,433.5 279.7,426.3 279.7,404.0 279.7,401.4 279.8,398.9 280.0,396.3 280.1,393.7 280.4,391.1 280.6,388.6 281.0,386.0Z" fill="#9a1a1e"/>
<path d="M286.1,370.0 286.8,373.1 287.3,376.3 287.7,379.4 288.0,382.6 288.2,385.7 288.4,388.9 288.4,392.0 288.4,433.5 288.2,440.8 287.9,448.2 287.4,455.5 284.9,455.5 284.4,448.2 284.1,440.8 283.9,433.5 283.9,392.0 283.9,388.9 284.1,385.7 284.3,382.6 284.6,379.4 285.0,376.3 285.5,373.1 286.1,370.0Z" fill="#c6e6f7"/>
<path d="M286.1,380.0 286.7,382.9 287.2,385.7 287.5,388.6 287.8,391.4 288.0,394.3 288.2,397.1 288.2,400.0 288.2,428.1 288.0,436.7 287.7,445.4 287.3,454.0 285.0,454.0 284.6,445.4 284.3,436.7 284.1,428.1 284.1,400.0 284.1,397.1 284.3,394.3 284.5,391.4 284.8,388.6 285.1,385.7 285.6,382.9 286.1,380.0Z" fill="#7bbde6"/>
<path d="M286.1,390.0 286.6,392.6 287.0,395.1 287.3,397.7 287.6,400.3 287.7,402.9 287.8,405.4 287.9,408.0 287.9,430.0 287.7,437.2 287.5,444.3 287.1,451.5 285.2,451.5 284.8,444.3 284.6,437.2 284.4,430.0 284.4,408.0 284.5,405.4 284.6,402.9 284.7,400.3 285.0,397.7 285.3,395.1 285.7,392.6 286.1,390.0Z" fill="#3375bd"/>
<path d="M286.1,395.0 286.5,397.6 286.8,400.1 287.1,402.7 287.3,405.3 287.4,407.9 287.5,410.4 287.5,413.0 287.5,429.4 287.4,435.6 287.2,441.8 286.9,448.0 285.4,448.0 285.1,441.8 284.9,435.6 284.8,429.4 284.8,413.0 284.8,410.4 284.9,407.9 285.0,405.3 285.2,402.7 285.5,400.1 285.8,397.6 286.1,395.0Z" fill="#1c3370"/>
<path d="M290.2,365.0 290.8,368.3 291.2,371.5 291.6,374.8 291.9,378.1 292.1,381.3 292.2,384.6 292.2,387.9 292.2,433.5 292.1,440.8 291.7,448.2 291.3,455.5 289.2,455.5 288.8,448.2 288.4,440.8 288.3,433.5 288.3,387.9 288.3,384.6 288.4,381.3 288.6,378.1 288.9,374.8 289.3,371.5 289.7,368.3 290.2,365.0Z" fill="#fddc82"/>
<path d="M290.2,375.0 290.7,377.9 291.1,380.8 291.4,383.7 291.7,386.6 291.9,389.5 292.0,392.4 292.0,395.3 292.0,428.0 291.9,436.7 291.6,445.3 291.2,454.0 289.3,454.0 288.9,445.3 288.6,436.7 288.5,428.0 288.5,395.3 288.5,392.4 288.6,389.5 288.8,386.6 289.1,383.7 289.4,380.8 289.8,377.9 290.2,375.0Z" fill="#f99532"/>
<path d="M290.2,390.0 290.6,392.6 290.9,395.1 291.1,397.7 291.3,400.3 291.4,402.9 291.5,405.4 291.6,408.0 291.6,430.0 291.4,437.2 291.2,444.3 291.0,451.5 289.5,451.5 289.3,444.3 289.1,437.2 288.9,430.0 288.9,408.0 289.0,405.4 289.1,402.9 289.2,400.3 289.4,397.7 289.6,395.1 289.9,392.6 290.2,390.0Z" fill="#e34327"/>
<path d="M295.8,360.0 296.5,363.5 297.1,366.9 297.6,370.4 297.9,373.8 298.2,377.3 298.4,380.7 298.4,384.2 298.4,433.5 298.2,440.8 297.8,448.2 297.2,455.5 294.4,455.5 293.8,448.2 293.4,440.8 293.2,433.5 293.2,384.2 293.2,380.7 293.4,377.3 293.7,373.8 294.0,370.4 294.5,366.9 295.1,363.5 295.8,360.0Z" fill="#c6e6f7"/>
<path d="M295.8,370.0 296.5,373.1 297.0,376.2 297.4,379.2 297.8,382.3 298.0,385.4 298.2,388.5 298.2,391.6 298.2,428.0 298.0,436.7 297.6,445.3 297.1,454.0 294.5,454.0 294.0,445.3 293.6,436.7 293.4,428.0 293.4,391.6 293.4,388.5 293.6,385.4 293.8,382.3 294.2,379.2 294.6,376.2 295.1,373.1 295.8,370.0Z" fill="#7bbde6"/>
<path d="M295.8,375.0 296.4,377.9 296.8,380.8 297.2,383.7 297.5,386.6 297.8,389.5 297.9,392.4 297.9,395.3 297.9,424.7 297.7,433.7 297.4,442.6 297.0,451.5 294.6,451.5 294.2,442.6 293.9,433.7 293.7,424.7 293.7,395.3 293.7,392.4 293.8,389.5 294.1,386.6 294.4,383.7 294.8,380.8 295.2,377.9 295.8,375.0Z" fill="#3375bd"/>
<path d="M295.8,378.0 296.3,380.8 296.7,383.6 297.0,386.4 297.3,389.1 297.5,391.9 297.6,394.7 297.6,397.5 297.6,423.5 297.5,431.7 297.2,439.8 296.8,448.0 294.8,448.0 294.4,439.8 294.1,431.7 294.0,423.5 294.0,397.5 294.0,394.7 294.1,391.9 294.3,389.1 294.6,386.4 294.9,383.6 295.3,380.8 295.8,378.0Z" fill="#1c3370"/>
<path d="M302.4,360.0 303.2,363.5 303.9,366.9 304.4,370.4 304.8,373.8 305.1,377.3 305.3,380.7 305.4,384.2 305.4,433.5 305.1,440.8 304.7,448.2 304.0,455.5 300.8,455.5 300.1,448.2 299.7,440.8 299.4,433.5 299.4,384.2 299.5,380.7 299.7,377.3 300.0,373.8 300.4,370.4 300.9,366.9 301.6,363.5 302.4,360.0Z" fill="#fddc82"/>
<path d="M302.4,371.7 303.1,374.7 303.7,377.7 304.2,380.8 304.6,383.8 304.8,386.8 305.0,389.8 305.1,392.8 305.1,428.0 304.8,436.7 304.4,445.3 303.9,454.0 300.9,454.0 300.4,445.3 300.0,436.7 299.7,428.0 299.7,392.8 299.8,389.8 300.0,386.8 300.2,383.8 300.6,380.8 301.1,377.7 301.7,374.7 302.4,371.7Z" fill="#f99532"/>
<path d="M302.4,388.0 303.0,390.6 303.4,393.1 303.7,395.7 304.0,398.3 304.2,400.9 304.3,403.4 304.4,406.0 304.4,429.3 304.2,436.7 303.9,444.1 303.5,451.5 301.3,451.5 300.9,444.1 300.6,436.7 300.4,429.3 300.4,406.0 300.5,403.4 300.6,400.9 300.8,398.3 301.1,395.7 301.4,393.1 301.8,390.6 302.4,388.0Z" fill="#e34327"/>
<path d="M302.4,405.0 302.8,407.6 303.1,410.1 303.4,412.7 303.6,415.3 303.7,417.9 303.8,420.4 303.9,423.0 303.9,432.9 303.7,438.0 303.5,443.0 303.2,448.0 301.6,448.0 301.3,443.0 301.1,438.0 300.9,432.9 300.9,423.0 301.0,420.4 301.1,417.9 301.2,415.3 301.4,412.7 301.7,410.1 302.0,407.6 302.4,405.0Z" fill="#9a1a1e"/>
<path d="M307.1,380.0 307.5,383.1 307.9,386.3 308.2,389.4 308.4,392.6 308.5,395.7 308.6,398.9 308.7,402.0 308.7,433.5 308.5,440.8 308.3,448.2 308.0,455.5 306.2,455.5 305.9,448.2 305.7,440.8 305.5,433.5 305.5,402.0 305.6,398.9 305.7,395.7 305.8,392.6 306.0,389.4 306.3,386.3 306.7,383.1 307.1,380.0Z" fill="#c6e6f7"/>
<path d="M307.1,385.0 307.5,387.9 307.8,390.7 308.1,393.6 308.3,396.4 308.4,399.3 308.5,402.1 308.6,405.0 308.6,429.9 308.4,437.9 308.2,446.0 307.9,454.0 306.3,454.0 306.0,446.0 305.8,437.9 305.6,429.9 305.6,405.0 305.7,402.1 305.8,399.3 305.9,396.4 306.1,393.6 306.4,390.7 306.7,387.9 307.1,385.0Z" fill="#7bbde6"/>
<path d="M307.1,390.0 307.5,392.6 307.7,395.1 308.0,397.7 308.2,400.3 308.3,402.9 308.4,405.4 308.4,408.0 308.4,430.0 308.3,437.2 308.1,444.3 307.8,451.5 306.4,451.5 306.1,444.3 305.9,437.2 305.8,430.0 305.8,408.0 305.8,405.4 305.9,402.9 306.0,400.3 306.2,397.7 306.5,395.1 306.7,392.6 307.1,390.0Z" fill="#3375bd"/>
<path d="M307.1,393.0 307.4,395.6 307.6,398.1 307.8,400.7 308.0,403.3 308.1,405.9 308.2,408.4 308.2,411.0 308.2,428.8 308.1,435.2 307.9,441.6 307.7,448.0 306.5,448.0 306.3,441.6 306.1,435.2 306.0,428.8 306.0,411.0 306.0,408.4 306.1,405.9 306.2,403.3 306.4,400.7 306.6,398.1 306.8,395.6 307.1,393.0Z" fill="#1c3370"/>
<path d="M310.0,413.0 310.4,416.1 310.7,419.3 311.0,422.4 311.2,425.6 311.4,428.7 311.5,431.9 311.5,435.0 311.5,440.6 311.4,445.6 311.1,450.5 310.8,455.5 309.2,455.5 308.9,450.5 308.6,445.6 308.5,440.6 308.5,435.0 308.5,431.9 308.6,428.7 308.8,425.6 309.0,422.4 309.3,419.3 309.6,416.1 310.0,413.0Z" fill="#fddc82"/>
<path d="M315.0,361.7 315.7,365.1 316.3,368.5 316.8,371.9 317.1,375.3 317.4,378.7 317.6,382.0 317.6,385.4 317.6,433.5 317.4,440.8 317.0,448.2 316.4,455.5 313.6,455.5 313.0,448.2 312.6,440.8 312.4,433.5 312.4,385.4 312.4,382.0 312.6,378.7 312.9,375.3 313.2,371.9 313.7,368.5 314.3,365.1 315.0,361.7Z" fill="#c6e6f7"/>
<path d="M315.0,368.0 315.7,371.2 316.2,374.3 316.6,377.5 317.0,380.6 317.2,383.8 317.4,386.9 317.5,390.1 317.5,428.0 317.2,436.7 316.9,445.3 316.3,454.0 313.7,454.0 313.1,445.3 312.8,436.7 312.5,428.0 312.5,390.1 312.6,386.9 312.8,383.8 313.0,380.6 313.4,377.5 313.8,374.3 314.3,371.2 315.0,368.0Z" fill="#7bbde6"/>
<path d="M315.0,375.0 315.6,377.9 316.1,380.8 316.4,383.7 316.8,386.6 317.0,389.5 317.1,392.4 317.2,395.3 317.2,424.7 317.0,433.7 316.6,442.6 316.2,451.5 313.8,451.5 313.4,442.6 313.0,433.7 312.8,424.7 312.8,395.3 312.9,392.4 313.0,389.5 313.2,386.6 313.6,383.7 313.9,380.8 314.4,377.9 315.0,375.0Z" fill="#3375bd"/>
<path d="M315.0,380.0 315.5,382.7 315.9,385.4 316.2,388.1 316.5,390.8 316.6,393.6 316.8,396.3 316.8,399.0 316.8,424.2 316.6,432.1 316.4,440.1 316.0,448.0 314.0,448.0 313.6,440.1 313.4,432.1 313.2,424.2 313.2,399.0 313.2,396.3 313.4,393.6 313.5,390.8 313.8,388.1 314.1,385.4 314.5,382.7 315.0,380.0Z" fill="#1c3370"/>
<path d="M320.8,355.0 321.4,358.6 321.9,362.3 322.3,365.9 322.6,369.6 322.8,373.2 323.0,376.8 323.0,380.5 323.0,433.5 322.8,440.8 322.5,448.2 322.0,455.5 319.6,455.5 319.1,448.2 318.8,440.8 318.6,433.5 318.6,380.5 318.6,376.8 318.8,373.2 319.0,369.6 319.3,365.9 319.7,362.3 320.2,358.6 320.8,355.0Z" fill="#fddc82"/>
<path d="M320.8,365.0 321.4,368.3 321.8,371.5 322.1,374.8 322.4,378.1 322.6,381.3 322.7,384.6 322.8,387.9 322.8,428.0 322.6,436.7 322.3,445.3 321.9,454.0 319.7,454.0 319.3,445.3 319.0,436.7 318.8,428.0 318.8,387.9 318.9,384.6 319.0,381.3 319.2,378.1 319.5,374.8 319.8,371.5 320.2,368.3 320.8,365.0Z" fill="#f99532"/>
<path d="M320.8,388.0 321.2,390.6 321.5,393.1 321.8,395.7 322.0,398.3 322.1,400.9 322.2,403.4 322.3,406.0 322.3,429.3 322.1,436.7 321.9,444.1 321.6,451.5 320.0,451.5 319.7,444.1 319.5,436.7 319.3,429.3 319.3,406.0 319.4,403.4 319.5,400.9 319.6,398.3 319.8,395.7 320.1,393.1 320.4,390.6 320.8,388.0Z" fill="#e34327"/>
<path d="M327.5,361.7 328.7,365.1 329.7,368.5 330.5,371.9 331.1,375.3 331.5,378.7 331.8,382.0 331.9,385.4 331.9,433.5 331.5,440.8 330.8,448.2 329.9,455.5 325.1,455.5 324.2,448.2 323.5,440.8 323.1,433.5 323.1,385.4 323.2,382.0 323.5,378.7 323.9,375.3 324.5,371.9 325.3,368.5 326.3,365.1 327.5,361.7Z" fill="#c6e6f7"/>
<path d="M327.5,371.7 328.6,374.7 329.5,377.7 330.2,380.8 330.8,383.8 331.2,386.8 331.5,389.8 331.6,392.8 331.6,428.0 331.2,436.7 330.6,445.3 329.7,454.0 325.3,454.0 324.4,445.3 323.8,436.7 323.4,428.0 323.4,392.8 323.5,389.8 323.8,386.8 324.2,383.8 324.8,380.8 325.5,377.7 326.4,374.7 327.5,371.7Z" fill="#7bbde6"/>
<path d="M327.5,385.0 328.4,387.6 329.1,390.1 329.7,392.7 330.2,395.3 330.6,397.9 330.8,400.4 330.8,403.0 330.8,428.2 330.5,436.0 330.0,443.7 329.3,451.5 325.7,451.5 325.0,443.7 324.5,436.0 324.2,428.2 324.2,403.0 324.2,400.4 324.4,397.9 324.8,395.3 325.3,392.7 325.9,390.1 326.6,387.6 327.5,385.0Z" fill="#3375bd"/>
<path d="M327.5,396.7 328.3,399.3 328.8,401.8 329.3,404.4 329.7,407.0 330.0,409.6 330.2,412.1 330.2,414.7 330.2,430.0 330.0,436.0 329.6,442.0 329.0,448.0 326.0,448.0 325.4,442.0 325.0,436.0 324.8,430.0 324.8,414.7 324.8,412.1 325.0,409.6 325.3,407.0 325.7,404.4 326.2,401.8 326.7,399.3 327.5,396.7Z" fill="#1c3370"/>
<path d="M335.8,356.7 336.4,360.3 336.9,363.9 337.3,367.4 337.6,371.0 337.8,374.6 338.0,378.2 338.0,381.7 338.0,433.5 337.8,440.8 337.5,448.2 337.0,455.5 334.6,455.5 334.1,448.2 333.8,440.8 333.6,433.5 333.6,381.7 333.6,378.2 333.8,374.6 334.0,371.0 334.3,367.4 334.7,363.9 335.2,360.3 335.8,356.7Z" fill="#fddc82"/>
<path d="M335.8,371.7 336.3,374.7 336.7,377.7 337.1,380.8 337.4,383.8 337.6,386.8 337.7,389.8 337.7,392.8 337.7,428.0 337.6,436.7 337.3,445.3 336.9,454.0 334.7,454.0 334.3,445.3 334.0,436.7 333.9,428.0 333.9,392.8 333.9,389.8 334.0,386.8 334.2,383.8 334.5,380.8 334.9,377.7 335.3,374.7 335.8,371.7Z" fill="#f99532"/>
<path d="M335.8,380.0 336.2,382.7 336.5,385.4 336.8,388.1 337.0,390.8 337.2,393.6 337.3,396.3 337.3,399.0 337.3,426.5 337.2,434.8 336.9,443.2 336.6,451.5 335.0,451.5 334.7,443.2 334.4,434.8 334.3,426.5 334.3,399.0 334.3,396.3 334.4,393.6 334.6,390.8 334.8,388.1 335.1,385.4 335.4,382.7 335.8,380.0Z" fill="#e34327"/>
<path d="M335.8,396.7 336.1,399.3 336.3,401.8 336.5,404.4 336.7,407.0 336.8,409.6 336.9,412.1 336.9,414.7 336.9,430.0 336.8,436.0 336.6,442.0 336.4,448.0 335.2,448.0 335.0,442.0 334.8,436.0 334.7,430.0 334.7,414.7 334.7,412.1 334.8,409.6 334.9,407.0 335.1,404.4 335.3,401.8 335.5,399.3 335.8,396.7Z" fill="#9a1a1e"/>
<path d="M339.4,358.8 340.3,362.3 341.0,365.8 341.5,369.3 342.0,372.8 342.3,376.3 342.5,379.8 342.5,383.3 342.5,433.5 342.3,440.8 341.8,448.2 341.2,455.5 337.7,455.5 337.1,448.2 336.6,440.8 336.4,433.5 336.4,383.3 336.4,379.8 336.6,376.3 336.9,372.8 337.4,369.3 337.9,365.8 338.6,362.3 339.4,358.8Z" fill="#c6e6f7"/>
<path d="M339.4,370.0 340.2,373.1 340.9,376.2 341.4,379.2 341.8,382.3 342.1,385.4 342.2,388.5 342.3,391.6 342.3,428.0 342.1,436.7 341.6,445.3 341.0,454.0 337.9,454.0 337.3,445.3 336.8,436.7 336.6,428.0 336.6,391.6 336.7,388.5 336.8,385.4 337.1,382.3 337.5,379.2 338.0,376.2 338.7,373.1 339.4,370.0Z" fill="#7bbde6"/>
<path d="M339.4,380.0 340.1,382.7 340.6,385.4 341.1,388.1 341.4,390.8 341.6,393.6 341.8,396.3 341.9,399.0 341.9,426.5 341.6,434.8 341.3,443.2 340.8,451.5 338.1,451.5 337.6,443.2 337.3,434.8 337.0,426.5 337.0,399.0 337.1,396.3 337.3,393.6 337.5,390.8 337.8,388.1 338.3,385.4 338.8,382.7 339.4,380.0Z" fill="#3375bd"/>
<path d="M339.4,390.7 340.0,393.3 340.4,395.8 340.7,398.4 341.0,401.0 341.2,403.6 341.3,406.1 341.4,408.7 341.4,427.9 341.2,434.6 340.9,441.3 340.5,448.0 338.4,448.0 338.0,441.3 337.7,434.6 337.5,427.9 337.5,408.7 337.6,406.1 337.7,403.6 337.9,401.0 338.2,398.4 338.5,395.8 338.9,393.3 339.4,390.7Z" fill="#1c3370"/>
<path d="M344.5,369.5 345.0,372.6 345.4,375.8 345.7,378.9 346.0,382.1 346.2,385.2 346.3,388.4 346.3,391.5 346.3,433.5 346.2,440.8 345.9,448.2 345.5,455.5 343.5,455.5 343.1,448.2 342.8,440.8 342.7,433.5 342.7,391.5 342.7,388.4 342.8,385.2 343.0,382.1 343.3,378.9 343.6,375.8 344.0,372.6 344.5,369.5Z" fill="#fddc82"/>
<path d="M344.5,385.0 344.9,387.9 345.3,390.7 345.6,393.6 345.8,396.4 346.0,399.3 346.1,402.1 346.1,405.0 346.1,429.9 346.0,437.9 345.7,446.0 345.4,454.0 343.6,454.0 343.3,446.0 343.0,437.9 342.9,429.9 342.9,405.0 342.9,402.1 343.0,399.3 343.2,396.4 343.4,393.6 343.7,390.7 344.1,387.9 344.5,385.0Z" fill="#f99532"/>
<path d="M344.5,400.0 344.8,402.6 345.1,405.1 345.3,407.7 345.5,410.3 345.6,412.9 345.7,415.4 345.7,418.0 345.7,433.5 345.6,439.5 345.4,445.5 345.2,451.5 343.8,451.5 343.6,445.5 343.4,439.5 343.3,433.5 343.3,418.0 343.3,415.4 343.4,412.9 343.5,410.3 343.7,407.7 343.9,405.1 344.2,402.6 344.5,400.0Z" fill="#e34327"/>
<path d="M347.2,344.0 347.7,348.0 348.0,352.1 348.3,356.1 348.6,360.2 348.7,364.2 348.8,368.3 348.9,372.3 348.9,433.5 348.7,440.8 348.5,448.2 348.1,455.5 346.3,455.5 345.9,448.2 345.7,440.8 345.5,433.5 345.5,372.3 345.6,368.3 345.7,364.2 345.8,360.2 346.1,356.1 346.4,352.1 346.7,348.0 347.2,344.0Z" fill="#c6e6f7"/>
<path d="M353.0,369.5 353.8,372.6 354.4,375.8 354.9,378.9 355.3,382.1 355.6,385.2 355.8,388.4 355.8,391.5 355.8,433.5 355.6,440.8 355.1,448.2 354.5,455.5 351.5,455.5 350.9,448.2 350.4,440.8 350.2,433.5 350.2,391.5 350.2,388.4 350.4,385.2 350.7,382.1 351.1,378.9 351.6,375.8 352.2,372.6 353.0,369.5Z" fill="#fddc82"/>
<path d="M353.0,384.0 353.7,386.9 354.2,389.7 354.6,392.6 355.0,395.4 355.2,398.3 355.4,401.1 355.5,404.0 355.5,429.5 355.2,437.7 354.9,445.8 354.3,454.0 351.7,454.0 351.1,445.8 350.8,437.7 350.5,429.5 350.5,404.0 350.6,401.1 350.8,398.3 351.0,395.4 351.4,392.6 351.8,389.7 352.3,386.9 353.0,384.0Z" fill="#f99532"/>
<path d="M353.0,401.0 353.5,403.6 353.9,406.1 354.2,408.7 354.5,411.3 354.7,413.9 354.8,416.4 354.9,419.0 354.9,433.8 354.7,439.7 354.4,445.6 354.0,451.5 352.0,451.5 351.6,445.6 351.3,439.7 351.1,433.8 351.1,419.0 351.2,416.4 351.3,413.9 351.5,411.3 351.8,408.7 352.1,406.1 352.5,403.6 353.0,401.0Z" fill="#e34327"/>
<path d="M361.0,312.0 361.8,317.1 362.4,322.3 362.9,327.4 363.3,332.6 363.6,337.7 363.8,342.9 363.8,348.0 363.8,433.5 363.6,440.8 363.1,448.2 362.6,455.5 359.4,455.5 358.9,448.2 358.4,440.8 358.2,433.5 358.2,348.0 358.2,342.9 358.4,337.7 358.7,332.6 359.1,327.4 359.6,322.3 360.2,317.1 361.0,312.0Z" fill="#c6e6f7"/>
<path d="M361.0,358.8 361.7,362.3 362.2,365.8 362.7,369.3 363.0,372.8 363.3,376.3 363.4,379.8 363.5,383.3 363.5,428.0 363.3,436.7 362.9,445.3 362.4,454.0 359.6,454.0 359.1,445.3 358.7,436.7 358.5,428.0 358.5,383.3 358.6,379.8 358.7,376.3 359.0,372.8 359.3,369.3 359.8,365.8 360.3,362.3 361.0,358.8Z" fill="#7bbde6"/>
<path d="M361.0,375.0 361.6,377.9 362.0,380.8 362.4,383.7 362.7,386.6 362.9,389.5 363.1,392.4 363.1,395.3 363.1,424.7 362.9,433.7 362.6,442.6 362.2,451.5 359.8,451.5 359.4,442.6 359.1,433.7 358.9,424.7 358.9,395.3 358.9,392.4 359.1,389.5 359.3,386.6 359.6,383.7 360.0,380.8 360.4,377.9 361.0,375.0Z" fill="#3375bd"/>
<path d="M361.0,386.5 361.5,389.1 361.9,391.6 362.2,394.2 362.4,396.8 362.6,399.4 362.7,401.9 362.8,404.5 362.8,426.5 362.6,433.7 362.3,440.8 362.0,448.0 360.0,448.0 359.7,440.8 359.4,433.7 359.2,426.5 359.2,404.5 359.3,401.9 359.4,399.4 359.6,396.8 359.8,394.2 360.1,391.6 360.5,389.1 361.0,386.5Z" fill="#1c3370"/>
<path d="M366.9,303.5 367.9,308.6 368.7,313.8 369.4,318.9 369.9,324.1 370.3,329.2 370.5,334.4 370.6,339.5 370.6,433.5 370.3,440.8 369.7,448.2 368.9,455.5 364.8,455.5 364.0,448.2 363.4,440.8 363.1,433.5 363.1,339.5 363.2,334.4 363.4,329.2 363.8,324.1 364.3,318.9 365.0,313.8 365.8,308.6 366.9,303.5Z" fill="#fddc82"/>
<path d="M366.9,312.0 367.8,317.1 368.5,322.3 369.1,327.4 369.6,332.6 370.0,337.7 370.2,342.9 370.3,348.0 370.3,428.0 370.0,436.7 369.4,445.3 368.7,454.0 365.0,454.0 364.3,445.3 363.7,436.7 363.4,428.0 363.4,348.0 363.5,342.9 363.7,337.7 364.1,332.6 364.6,327.4 365.2,322.3 365.9,317.1 366.9,312.0Z" fill="#f99532"/>
<path d="M366.9,320.5 367.7,325.4 368.3,330.3 368.8,335.3 369.2,340.2 369.6,345.1 369.7,350.0 369.8,354.9 369.8,421.5 369.5,431.5 369.1,441.5 368.5,451.5 365.2,451.5 364.6,441.5 364.2,431.5 363.9,421.5 363.9,354.9 364.0,350.0 364.1,345.1 364.5,340.2 364.9,335.3 365.4,330.3 366.0,325.4 366.9,320.5Z" fill="#e34327"/>
<path d="M366.9,337.6 367.4,341.9 367.9,346.2 368.2,350.5 368.5,354.7 368.7,359.0 368.8,363.3 368.9,367.6 368.9,414.0 368.7,425.3 368.4,436.7 368.0,448.0 365.7,448.0 365.3,436.7 365.0,425.3 364.8,414.0 364.8,367.6 364.9,363.3 365.0,359.0 365.2,354.7 365.5,350.5 365.8,346.2 366.3,341.9 366.9,337.6Z" fill="#9a1a1e"/>
<path d="M372.2,330.0 372.6,334.6 372.9,339.1 373.1,343.7 373.3,348.3 373.5,352.8 373.5,357.4 373.6,362.0 373.6,433.5 373.4,440.8 373.2,448.2 373.0,455.5 371.5,455.5 371.3,448.2 371.1,440.8 370.9,433.5 370.9,362.0 371.0,357.4 371.0,352.8 371.2,348.3 371.4,343.7 371.6,339.1 371.9,334.6 372.2,330.0Z" fill="#c6e6f7"/>
<path d="M376.1,333.3 376.8,337.7 377.4,342.2 377.8,346.6 378.2,351.1 378.4,355.5 378.6,360.0 378.7,364.4 378.7,433.5 378.4,440.8 378.0,448.2 377.5,455.5 374.7,455.5 374.2,448.2 373.8,440.8 373.5,433.5 373.5,364.4 373.6,360.0 373.8,355.5 374.0,351.1 374.4,346.6 374.8,342.2 375.4,337.7 376.1,333.3Z" fill="#fddc82"/>
<path d="M376.1,340.0 376.8,344.2 377.3,348.4 377.7,352.6 378.0,356.8 378.2,361.0 378.4,365.2 378.4,369.4 378.4,428.0 378.2,436.7 377.9,445.3 377.4,454.0 374.8,454.0 374.3,445.3 374.0,436.7 373.8,428.0 373.8,369.4 373.8,365.2 374.0,361.0 374.2,356.8 374.5,352.6 374.9,348.4 375.4,344.2 376.1,340.0Z" fill="#f99532"/>
<path d="M376.1,345.0 376.7,349.0 377.1,353.0 377.5,357.0 377.8,361.0 378.0,365.1 378.1,369.1 378.1,373.1 378.1,421.5 378.0,431.5 377.6,441.5 377.2,451.5 375.0,451.5 374.6,441.5 374.2,431.5 374.1,421.5 374.1,373.1 374.1,369.1 374.2,365.1 374.4,361.0 374.7,357.0 375.1,353.0 375.5,349.0 376.1,345.0Z" fill="#e34327"/>
<path d="M376.1,348.0 376.6,351.9 376.9,355.8 377.2,359.7 377.5,363.6 377.7,367.5 377.8,371.4 377.8,375.3 377.8,414.0 377.7,425.3 377.4,436.7 377.0,448.0 375.2,448.0 374.8,436.7 374.5,425.3 374.4,414.0 374.4,375.3 374.4,371.4 374.5,367.5 374.7,363.6 375.0,359.7 375.3,355.8 375.6,351.9 376.1,348.0Z" fill="#9a1a1e"/>
</g>
<path d="M48.5,453.0 L55.1,453.1 L61.8,453.3 L68.4,453.5 L75.0,453.6 L81.2,453.7 L87.5,454.1 L93.8,454.4 L100.0,454.5 L106.2,454.5 L112.5,454.6 L118.8,454.7 L125.0,454.9 L131.2,455.0 L137.5,455.1 L143.8,455.2 L150.0,455.2 L156.3,455.2 L162.6,455.2 L168.9,455.2 L175.2,455.2 L181.5,455.2 L187.8,455.2 L194.1,455.2 L200.4,455.2 L206.7,455.2 L213.0,455.2 L219.3,455.1 L225.7,454.8 L232.0,454.6 L238.0,454.3 L244.0,453.6 L250.0,453.3 L256.0,453.8 L262.0,454.2 L270.0,455.0 L280.0,454.0 L290.0,452.5 L296.7,452.5 L303.3,452.5 L310.0,452.6 L316.7,452.6 L323.3,452.6 L330.0,452.6 L336.0,452.6 L342.1,452.6 L348.1,452.6 L354.1,452.7 L360.1,452.7 L366.1,452.7 L372.2,452.7 L378.2,452.7 L378.2,469.0 L48.5,469.0Z" fill="#c6c6c6"/>
<polyline points="48.5,453.0 55.1,453.1 61.8,453.3 68.4,453.5 75.0,453.6 81.2,453.7 87.5,454.1 93.8,454.4 100.0,454.5 106.2,454.5 112.5,454.6 118.8,454.7 125.0,454.9 131.2,455.0 137.5,455.1 143.8,455.2 150.0,455.2 156.3,455.2 162.6,455.2 168.9,455.2 175.2,455.2 181.5,455.2 187.8,455.2 194.1,455.2 200.4,455.2 206.7,455.2 213.0,455.2 219.3,455.1 225.7,454.8 232.0,454.6 238.0,454.3 244.0,453.6 250.0,453.3 256.0,453.8 262.0,454.2 270.0,455.0 280.0,454.0 290.0,452.5 296.7,452.5 303.3,452.5 310.0,452.6 316.7,452.6 323.3,452.6 330.0,452.6 336.0,452.6 342.1,452.6 348.1,452.6 354.1,452.7 360.1,452.7 366.1,452.7 372.2,452.7 378.2,452.7" fill="none" stroke="#7a7a7a" stroke-width="0.9"/>
<path d="M50.5,378.0C50.8,380.4 51.5,386.4 52.2,391.7C52.9,397.0 53.5,405.0 54.2,408.3C54.6,409.6 56.1,409.3 56.8,410.4C57.7,411.9 58.7,417.8 59.5,416.7C60.3,415.6 60.9,409.1 61.5,404.0C62.2,397.8 62.8,388.9 63.6,381.2C64.4,373.6 65.4,363.9 66.3,360.4C66.6,359.3 68.3,360.5 68.8,361.5C69.6,363.0 70.5,365.8 71.0,368.8C71.7,373.3 72.5,380.0 73.0,387.5C73.7,397.2 74.3,422.9 75.0,424.0C75.7,425.1 76.5,405.9 77.2,393.8C77.9,381.5 78.6,362.4 79.2,354.0C79.5,350.7 80.3,346.5 81.0,345.8C81.7,345.1 82.8,348.2 83.0,350.0C83.7,356.6 84.6,370.0 85.1,383.3C85.7,398.8 86.0,429.2 86.5,438.5C86.6,439.5 87.9,437.5 88.0,436.5C88.6,430.5 89.0,417.1 89.7,404.2C90.4,390.2 91.3,364.8 92.2,356.2C92.3,355.1 94.2,356.1 94.9,355.2C95.9,353.8 97.1,347.0 98.0,348.3C98.9,349.6 99.0,359.8 100.1,362.5C100.7,364.1 103.3,362.1 104.2,363.5C105.5,365.3 106.8,369.0 107.4,373.0C108.4,379.4 109.1,394.5 110.0,400.0C110.3,401.9 112.1,406.1 112.6,404.2C113.4,401.3 113.9,391.7 114.7,383.3C115.6,373.8 117.0,356.6 117.8,350.0C118.0,348.1 118.4,346.3 119.2,345.4C120.1,344.5 121.6,345.8 122.6,344.8C123.6,343.8 124.5,341.8 125.1,339.6C125.9,336.7 126.4,330.0 127.2,328.0C127.6,327.1 129.6,327.0 129.7,328.0C130.4,334.0 130.6,349.2 131.1,362.5C131.6,375.8 132.1,391.2 132.6,404.0C133.1,416.6 133.2,433.5 133.8,435.4C134.4,437.3 135.3,422.9 135.9,414.6C136.7,403.7 137.6,384.0 138.4,373.0C139.0,364.6 139.8,356.3 140.5,352.0C140.7,350.4 141.7,346.8 142.2,348.3C142.9,350.1 143.7,356.8 144.2,362.5C145.0,370.5 145.6,383.4 146.3,393.8C147.0,404.1 147.6,421.9 148.2,421.9C148.8,421.9 149.2,402.7 149.9,393.8C150.6,384.8 151.2,377.7 152.0,370.8C152.8,364.1 153.8,358.6 154.7,354.2C155.4,350.6 156.6,347.0 157.2,345.4C157.3,345.0 157.8,345.3 158.2,345.3C160.3,345.2 167.2,345.0 169.3,344.9C169.7,344.9 170.2,344.4 170.3,344.8C170.8,347.9 171.6,355.4 172.2,362.5C172.9,371.1 173.5,382.3 174.2,393.8C175.0,405.2 175.6,423.3 176.3,428.0C176.7,430.9 177.7,423.7 178.0,420.8C178.7,413.0 179.3,394.2 180.1,383.3C180.8,373.3 181.7,364.7 182.6,358.3C183.3,353.7 184.5,349.2 185.3,346.9C185.7,345.9 186.8,344.5 187.4,345.4C188.1,346.5 188.8,350.0 189.5,353.1C190.2,356.3 190.7,361.5 191.5,363.5C192.0,364.6 193.8,365.7 194.2,364.6C195.2,362.6 195.9,357.1 196.8,352.0C197.7,346.2 199.0,335.6 199.9,331.2C200.3,329.4 201.3,326.6 202.0,327.0C202.7,327.4 203.5,330.7 204.0,333.3C204.7,337.0 205.4,343.6 206.1,348.0C206.8,352.1 207.5,354.1 208.0,358.3C208.7,364.5 209.3,373.6 210.1,383.3C210.9,393.0 211.9,409.9 212.6,413.5C213.3,417.1 213.9,407.8 214.2,404.0C215.0,396.9 215.8,383.9 216.8,373.0C217.7,362.1 218.5,349.8 219.5,341.7C220.2,335.8 221.4,328.8 222.2,327.0C223.0,325.3 223.9,329.4 224.2,331.2C225.0,334.9 226.1,341.3 226.8,348.0C227.5,356.4 228.2,366.6 228.8,379.0C229.5,391.7 229.8,416.0 230.5,420.4C231.2,424.8 232.0,410.6 232.6,404.0C233.4,394.6 233.9,378.7 235.1,366.7C236.3,354.7 238.0,342.2 239.2,335.4C239.8,332.2 241.5,328.7 242.4,328.0C243.3,327.3 244.4,329.7 244.5,331.2C245.2,339.1 245.8,358.0 246.5,373.0C247.2,388.0 248.0,407.8 248.6,416.7C248.8,419.6 249.3,426.9 249.7,424.0C250.3,420.0 251.0,402.7 251.8,393.8C252.4,385.4 252.7,376.5 253.8,373.0C254.3,371.4 256.9,375.3 258.0,374.0C259.3,372.5 260.3,368.5 261.1,364.6C262.2,358.9 263.1,348.1 264.2,341.7C265.2,336.2 266.4,330.6 267.4,328.0C267.8,326.9 269.7,325.9 270.1,327.0C270.9,329.4 271.7,335.8 272.2,341.7C272.8,349.8 273.1,360.5 273.6,373.0C274.1,386.1 274.6,408.1 275.1,416.7C275.2,418.8 276.1,424.0 276.3,421.9C276.9,416.1 277.6,398.1 278.4,383.3C279.2,368.5 280.2,346.1 280.9,337.5C281.0,336.1 282.4,333.0 282.6,334.4C283.3,338.8 284.1,351.2 284.7,362.5C285.4,375.4 286.2,399.1 286.8,408.3C286.9,411.0 287.8,417.7 288.0,415.0C288.6,408.6 289.3,384.8 289.9,372.0C290.5,359.8 290.9,348.1 291.5,341.6C291.8,338.7 292.7,331.8 293.2,334.6C293.8,337.9 294.4,350.1 295.0,360.4C295.8,373.3 297.0,404.4 297.8,408.5C298.6,412.6 299.1,393.7 299.7,383.9C300.4,372.2 301.2,351.3 302.0,341.6C302.4,336.4 303.6,328.3 304.4,328.7C305.2,329.1 305.9,337.8 306.3,344.0C307.0,356.5 307.8,395.4 308.6,400.3C309.4,405.2 310.2,382.7 311.0,372.0C311.8,361.3 312.6,345.2 313.3,339.3C313.4,338.4 314.7,337.2 315.0,338.0C315.7,340.0 316.5,349.3 317.3,351.0C318.0,352.5 319.1,349.1 319.6,347.5C320.5,344.1 321.8,332.0 322.7,331.8C323.6,331.6 324.1,341.3 325.0,346.3C325.9,351.3 326.8,357.3 327.8,360.4C328.4,362.2 330.0,365.7 330.7,364.0C331.7,361.5 332.8,351.4 333.7,346.3C334.5,341.6 335.2,335.0 336.0,334.6C336.8,334.2 337.7,340.2 338.0,344.0C338.6,352.6 339.1,374.4 339.6,383.9C339.9,389.6 340.1,401.3 340.7,398.0C341.3,394.7 342.2,376.5 343.0,365.0C343.8,353.5 344.4,339.0 345.4,332.2C345.8,329.6 347.5,327.0 348.5,326.4C349.5,325.8 350.7,327.4 351.3,328.7C352.4,331.4 354.1,336.3 354.8,341.6C356.0,351.3 357.3,374.0 358.3,383.9C358.9,389.6 359.8,402.1 360.6,398.0C361.5,393.9 362.1,372.7 363.0,360.4C363.9,348.1 364.8,333.3 365.8,327.5C366.0,326.3 368.6,326.3 368.9,327.5C369.8,331.2 370.5,340.2 371.2,348.7C371.9,357.3 372.1,377.6 372.8,376.8C373.5,376.0 374.6,351.4 375.2,344.0C375.5,340.2 376.0,336.2 376.2,334.6" fill="none" stroke="#ff0d0d" stroke-width="1.55" stroke-linejoin="round"/>
</g>
<rect x="50.5" y="272.5" width="325.7" height="194.5" fill="none" stroke="#1a1a1a" stroke-width="1.3"/>
<path d="M50.5,272.5V266.0 M50.5,467.0V473.5 M66.8,272.5V269.5 M66.8,467.0V470.0 M83.1,272.5V269.5 M83.1,467.0V470.0 M99.4,272.5V269.5 M99.4,467.0V470.0 M115.6,272.5V266.0 M115.6,467.0V473.5 M131.9,272.5V269.5 M131.9,467.0V470.0 M148.2,272.5V269.5 M148.2,467.0V470.0 M164.5,272.5V269.5 M164.5,467.0V470.0 M180.8,272.5V266.0 M180.8,467.0V473.5 M197.1,272.5V269.5 M197.1,467.0V470.0 M213.3,272.5V269.5 M213.3,467.0V470.0 M229.6,272.5V269.5 M229.6,467.0V470.0 M245.9,272.5V266.0 M245.9,467.0V473.5 M262.2,272.5V269.5 M262.2,467.0V470.0 M278.5,272.5V269.5 M278.5,467.0V470.0 M294.8,272.5V269.5 M294.8,467.0V470.0 M311.1,272.5V266.0 M311.1,467.0V473.5 M327.3,272.5V269.5 M327.3,467.0V470.0 M343.6,272.5V269.5 M343.6,467.0V470.0 M359.9,272.5V269.5 M359.9,467.0V470.0 M376.2,272.5V266.0 M376.2,467.0V473.5 M50.5,467.0H43.5 M376.2,467.0H382.7 M50.5,434.6H43.5 M376.2,434.6H382.7 M50.5,402.2H43.5 M376.2,402.2H382.7 M50.5,369.8H43.5 M376.2,369.8H382.7 M50.5,337.3H43.5 M376.2,337.3H382.7 M50.5,304.9H43.5 M376.2,304.9H382.7 M50.5,272.5H43.5 M376.2,272.5H382.7" stroke="#1a1a1a" stroke-width="1.2" fill="none"/>
<text x="50.5" y="487.8" text-anchor="middle" font-size="10.0" font-family="Liberation Sans, sans-serif" textLength="28.3" lengthAdjust="spacingAndGlyphs">41.00</text>
<text x="115.6" y="487.8" text-anchor="middle" font-size="10.0" font-family="Liberation Sans, sans-serif" textLength="28.3" lengthAdjust="spacingAndGlyphs">41.20</text>
<text x="180.8" y="487.8" text-anchor="middle" font-size="10.0" font-family="Liberation Sans, sans-serif" textLength="28.3" lengthAdjust="spacingAndGlyphs">41.40</text>
<text x="245.9" y="487.8" text-anchor="middle" font-size="10.0" font-family="Liberation Sans, sans-serif" textLength="28.3" lengthAdjust="spacingAndGlyphs">41.60</text>
<text x="311.1" y="487.8" text-anchor="middle" font-size="10.0" font-family="Liberation Sans, sans-serif" textLength="28.3" lengthAdjust="spacingAndGlyphs">41.80</text>
<text x="376.2" y="487.8" text-anchor="middle" font-size="10.0" font-family="Liberation Sans, sans-serif" textLength="28.3" lengthAdjust="spacingAndGlyphs">42.00</text>
<text x="41.2" y="470.6" text-anchor="end" font-size="10.6" font-family="Liberation Sans, sans-serif" textLength="16.2" lengthAdjust="spacingAndGlyphs">0.0</text>
<text x="41.2" y="438.2" text-anchor="end" font-size="10.6" font-family="Liberation Sans, sans-serif" textLength="16.2" lengthAdjust="spacingAndGlyphs">0.5</text>
<text x="41.2" y="405.8" text-anchor="end" font-size="10.6" font-family="Liberation Sans, sans-serif" textLength="16.2" lengthAdjust="spacingAndGlyphs">1.0</text>
<text x="41.2" y="373.4" text-anchor="end" font-size="10.6" font-family="Liberation Sans, sans-serif" textLength="16.2" lengthAdjust="spacingAndGlyphs">1.5</text>
<text x="41.2" y="340.9" text-anchor="end" font-size="10.6" font-family="Liberation Sans, sans-serif" textLength="16.2" lengthAdjust="spacingAndGlyphs">2.0</text>
<text x="41.2" y="308.5" text-anchor="end" font-size="10.6" font-family="Liberation Sans, sans-serif" textLength="16.2" lengthAdjust="spacingAndGlyphs">2.5</text>
<text x="41.2" y="276.1" text-anchor="end" font-size="10.6" font-family="Liberation Sans, sans-serif" textLength="16.2" lengthAdjust="spacingAndGlyphs">3.0</text>
<text x="49.5" y="260.4" text-anchor="start" font-size="12.5" font-family="Liberation Sans, sans-serif" textLength="86.7" lengthAdjust="spacingAndGlyphs">b) Green roofs</text>
<text transform="translate(12.4,369.2) scale(1.2,1) rotate(-90)" text-anchor="middle" font-size="13.8" font-family="Liberation Sans, sans-serif" textLength="71" lengthAdjust="spacingAndGlyphs">Height (km)</text>
<rect x="393.9" y="309.00" width="19.8" height="15.48" fill="#9a1a1e" stroke="#555" stroke-width="0.8"/>
<rect x="393.9" y="324.48" width="19.8" height="15.48" fill="#e34327" stroke="#555" stroke-width="0.8"/>
<rect x="393.9" y="339.96" width="19.8" height="15.48" fill="#f99532" stroke="#555" stroke-width="0.8"/>
<rect x="393.9" y="355.44" width="19.8" height="15.48" fill="#fddc82" stroke="#555" stroke-width="0.8"/>
<rect x="393.9" y="370.92" width="19.8" height="15.48" fill="#fefcf5" stroke="#555" stroke-width="0.8"/>
<rect x="393.9" y="386.40" width="19.8" height="15.48" fill="#f4f9fd" stroke="#555" stroke-width="0.8"/>
<rect x="393.9" y="401.88" width="19.8" height="15.48" fill="#c6e6f7" stroke="#555" stroke-width="0.8"/>
<rect x="393.9" y="417.36" width="19.8" height="15.48" fill="#7bbde6" stroke="#555" stroke-width="0.8"/>
<rect x="393.9" y="432.84" width="19.8" height="15.48" fill="#3375bd" stroke="#555" stroke-width="0.8"/>
<rect x="393.9" y="448.32" width="19.8" height="15.48" fill="#1c3370" stroke="#555" stroke-width="0.8"/>
<text x="432.8" y="328.2" text-anchor="middle" font-size="10.3" font-family="Liberation Sans, sans-serif" textLength="5.8" lengthAdjust="spacingAndGlyphs">1</text>
<text x="432.8" y="343.7" text-anchor="middle" font-size="10.3" font-family="Liberation Sans, sans-serif" textLength="22.2" lengthAdjust="spacingAndGlyphs">0.75</text>
<text x="432.8" y="359.1" text-anchor="middle" font-size="10.3" font-family="Liberation Sans, sans-serif" textLength="16.4" lengthAdjust="spacingAndGlyphs">0.5</text>
<text x="432.8" y="374.6" text-anchor="middle" font-size="10.3" font-family="Liberation Sans, sans-serif" textLength="22.2" lengthAdjust="spacingAndGlyphs">0.25</text>
<text x="432.8" y="390.1" text-anchor="middle" font-size="10.3" font-family="Liberation Sans, sans-serif" textLength="6.6" lengthAdjust="spacingAndGlyphs">0</text>
<text x="432.8" y="405.6" text-anchor="middle" font-size="10.3" font-family="Liberation Sans, sans-serif" textLength="26.2" lengthAdjust="spacingAndGlyphs">-0.25</text>
<text x="432.8" y="421.1" text-anchor="middle" font-size="10.3" font-family="Liberation Sans, sans-serif" textLength="20.4" lengthAdjust="spacingAndGlyphs">-0.5</text>
<text x="432.8" y="436.5" text-anchor="middle" font-size="10.3" font-family="Liberation Sans, sans-serif" textLength="26.2" lengthAdjust="spacingAndGlyphs">-0.75</text>
<text x="432.8" y="452.0" text-anchor="middle" font-size="10.3" font-family="Liberation Sans, sans-serif" textLength="9.8" lengthAdjust="spacingAndGlyphs">-1</text>
<text x="420.3" y="292.5" text-anchor="middle" font-size="10.4" font-family="Liberation Sans, sans-serif" textLength="18.3" lengthAdjust="spacingAndGlyphs">m/s</text>
<clipPath id="clipc"><rect x="52.0" y="523.5" width="325.8" height="195.1"/></clipPath>
<g clip-path="url(#clipc)">
<linearGradient id="bgc" x1="0" x2="1" y1="0" y2="0"><stop offset="0.35" stop-color="#f6f9fb"/><stop offset="0.6" stop-color="#faf9f3"/></linearGradient>
<rect x="52.0" y="523.5" width="325.8" height="195.1" fill="url(#bgc)"/>
<path d="M55.9,539.8 L61.7,660.1 L58.8,703.5 L52.0,703.5Z" fill="#f1f6fb"/>
<path d="M73.1,543.1 L79.4,660.1 L76.2,703.5 L68.9,703.5Z" fill="#f1f6fb"/>
<path d="M101.3,542.8 L109.4,660.1 L105.4,703.5 L96.0,703.5Z" fill="#fefcf2"/>
<path d="M123.7,529.5 L128.8,660.1 L126.2,703.5 L120.3,703.5Z" fill="#fefcf2"/>
<path d="M140.0,538.4 L145.4,660.1 L142.7,703.5 L136.4,703.5Z" fill="#fefcf2"/>
<path d="M165.6,542.1 L172.0,660.1 L168.8,703.5 L161.3,703.5Z" fill="#fefcf2"/>
<path d="M187.7,540.8 L194.2,660.1 L190.9,703.5 L183.4,703.5Z" fill="#fefcf2"/>
<path d="M207.1,543.3 L214.9,660.1 L211.0,703.5 L202.0,703.5Z" fill="#f1f6fb"/>
<path d="M221.9,538.9 L226.5,660.1 L224.2,703.5 L218.8,703.5Z" fill="#fefcf2"/>
<path d="M240.1,534.0 L244.4,660.1 L242.2,703.5 L237.2,703.5Z" fill="#fefcf2"/>
<path d="M255.1,537.2 L259.9,660.1 L257.5,703.5 L252.0,703.5Z" fill="#f1f6fb"/>
<path d="M279.2,524.8 L283.7,660.1 L281.4,703.5 L276.1,703.5Z" fill="#fefcf2"/>
<path d="M293.0,524.7 L300.2,660.1 L296.6,703.5 L288.1,703.5Z" fill="#fefcf2"/>
<path d="M309.8,537.0 L313.4,660.1 L311.6,703.5 L307.4,703.5Z" fill="#f1f6fb"/>
<path d="M326.2,535.3 L332.2,660.1 L329.2,703.5 L322.2,703.5Z" fill="#fefcf2"/>
<path d="M347.0,524.9 L354.6,660.1 L350.8,703.5 L342.0,703.5Z" fill="#f3f8fc"/>
<path d="M367.9,525.7 L372.6,660.1 L370.3,703.5 L364.8,703.5Z" fill="#fefcf2"/>
<g filter="url(#blur)">
<path d="M50.0,706.5 L50.0,628.1 L54.2,623.1 L58.3,629.5 L62.5,630.3 L66.7,622.8 L70.8,627.0 L75.0,630.9 L79.2,627.8 L83.3,622.8 L87.5,624.4 L91.7,627.3 L95.8,627.7 L100.0,623.6 L100.0,706.5Z" fill="#d8edf8"/>
<path d="M100.0,706.5 L100.0,627.8 L104.1,630.4 L108.2,631.9 L112.3,632.4 L116.4,628.9 L120.5,633.1 L124.6,624.4 L128.8,627.2 L132.9,628.4 L137.0,624.7 L141.1,625.3 L145.2,632.9 L149.3,626.2 L153.4,632.2 L157.5,627.4 L161.6,629.6 L165.7,627.7 L169.8,630.9 L173.9,626.7 L178.0,630.9 L182.1,631.4 L186.2,624.6 L190.4,631.2 L194.5,629.7 L198.6,624.2 L202.7,631.1 L206.8,624.9 L210.9,627.2 L215.0,627.1 L215.0,706.5Z" fill="#d8edf8"/>
<path d="M215.0,706.5 L215.0,630.5 L219.1,627.4 L223.2,632.8 L227.2,627.7 L231.3,629.8 L235.4,630.9 L239.4,631.9 L243.5,626.9 L247.6,626.9 L251.7,628.0 L255.8,629.5 L259.8,627.8 L263.9,625.6 L268.0,632.8 L272.1,630.0 L276.1,626.5 L280.2,632.4 L284.3,626.4 L288.4,631.1 L292.4,630.9 L296.5,625.5 L300.6,627.0 L304.6,630.1 L308.7,632.3 L312.8,629.3 L316.9,631.8 L320.9,624.9 L325.0,625.4 L329.1,627.0 L333.2,629.3 L337.2,631.6 L341.3,628.5 L345.4,627.9 L349.5,628.6 L353.6,624.8 L357.6,625.9 L361.7,626.0 L365.8,629.6 L369.9,624.1 L373.9,629.9 L378.0,624.6 L378.0,706.5Z" fill="#d8edf8"/>
<path d="M210.0,706.5 L210.0,638.9 L214.4,642.2 L218.8,643.7 L223.1,644.1 L227.5,641.3 L231.9,639.7 L236.2,642.5 L240.6,636.7 L245.0,643.9 L245.0,706.5Z" fill="#9ccdec"/>
<path d="M260.0,706.5 L260.0,644.7 L264.3,644.0 L268.6,638.1 L272.9,638.4 L277.1,642.0 L281.4,641.9 L285.7,641.8 L290.0,637.7 L290.0,706.5Z" fill="#9ccdec"/>
<path d="M327.0,706.5 L327.0,647.1 L331.0,653.8 L335.0,644.2 L339.0,653.7 L339.0,706.5Z" fill="#9ccdec"/>
<path d="M340.0,706.5 L340.0,641.7 L344.2,641.2 L348.4,648.0 L352.7,642.6 L356.9,645.1 L361.1,645.2 L365.3,643.8 L369.6,650.0 L373.8,643.8 L378.0,647.1 L378.0,706.5Z" fill="#9ccdec"/>
<path d="M118.0,706.5 L118.0,655.5 L123.0,652.1 L128.0,655.3 L128.0,706.5Z" fill="#9ccdec"/>
<path d="M130.0,706.5 L130.0,655.5 L133.5,651.8 L137.0,651.7 L137.0,706.5Z" fill="#9ccdec"/>
<path d="M52.1,626.0 53.0,629.6 53.8,633.1 54.4,636.7 54.9,640.3 55.2,643.9 55.4,647.4 55.5,651.0 55.5,684.0 55.2,691.3 54.7,698.7 54.0,706.0 50.2,706.0 49.5,698.7 49.0,691.3 48.7,684.0 48.7,651.0 48.8,647.4 49.0,643.9 49.3,640.3 49.8,636.7 50.4,633.1 51.2,629.6 52.1,626.0Z" fill="#fefcf2"/>
<path d="M70.1,632.0 70.9,635.6 71.5,639.1 72.0,642.7 72.4,646.3 72.7,649.9 72.9,653.4 72.9,657.0 72.9,684.0 72.7,691.3 72.3,698.7 71.7,706.0 68.5,706.0 67.9,698.7 67.5,691.3 67.2,684.0 67.2,657.0 67.3,653.4 67.5,649.9 67.8,646.3 68.2,642.7 68.7,639.1 69.3,635.6 70.1,632.0Z" fill="#fefcf2"/>
<path d="M101.6,557.2 103.2,562.8 104.4,568.3 105.4,573.9 106.2,579.5 106.8,585.1 107.1,590.6 107.2,596.2 107.2,684.0 106.8,691.3 105.9,698.7 104.7,706.0 98.5,706.0 97.3,698.7 96.4,691.3 96.0,684.0 96.0,596.2 96.1,590.6 96.4,585.1 97.0,579.5 97.8,573.9 98.8,568.3 100.0,562.8 101.6,557.2Z" fill="#fefcf2"/>
<path d="M115.3,589.7 116.5,594.2 117.4,598.8 118.2,603.3 118.8,607.9 119.2,612.4 119.5,617.0 119.6,621.5 119.6,684.0 119.2,691.3 118.5,698.7 117.7,706.0 112.9,706.0 112.1,698.7 111.4,691.3 111.0,684.0 111.0,621.5 111.1,617.0 111.4,612.4 111.8,607.9 112.4,603.3 113.2,598.8 114.1,594.2 115.3,589.7Z" fill="#fefcf2"/>
<path d="M127.0,628.3 127.8,631.9 128.4,635.4 128.9,639.0 129.3,642.6 129.6,646.2 129.8,649.7 129.8,653.3 129.8,684.0 129.6,691.3 129.2,698.7 128.6,706.0 125.4,706.0 124.8,698.7 124.4,691.3 124.2,684.0 124.2,653.3 124.2,649.7 124.4,646.2 124.7,642.6 125.1,639.0 125.6,635.4 126.2,631.9 127.0,628.3Z" fill="#fefcf2"/>
<path d="M139.1,624.0 140.0,627.6 140.6,631.1 141.1,634.7 141.5,638.3 141.8,641.9 142.0,645.4 142.0,649.0 142.0,684.0 141.8,691.3 141.3,698.7 140.7,706.0 137.6,706.0 137.0,698.7 136.5,691.3 136.3,684.0 136.3,649.0 136.3,645.4 136.5,641.9 136.8,638.3 137.2,634.7 137.7,631.1 138.3,627.6 139.1,624.0Z" fill="#fefcf2"/>
<path d="M150.6,611.3 151.7,615.0 152.5,618.8 153.2,622.5 153.7,626.3 154.1,630.0 154.4,633.8 154.4,637.5 154.4,684.0 154.1,691.3 153.5,698.7 152.7,706.0 148.5,706.0 147.7,698.7 147.1,691.3 146.8,684.0 146.8,637.5 146.8,633.8 147.1,630.0 147.5,626.3 148.0,622.5 148.7,618.8 149.5,615.0 150.6,611.3Z" fill="#fefcf2"/>
<path d="M168.4,611.3 169.5,615.0 170.3,618.8 171.0,622.5 171.5,626.3 171.9,630.0 172.2,633.8 172.2,637.5 172.2,684.0 171.9,691.3 171.3,698.7 170.5,706.0 166.3,706.0 165.5,698.7 164.9,691.3 164.6,684.0 164.6,637.5 164.6,633.8 164.9,630.0 165.3,626.3 165.8,622.5 166.5,618.8 167.3,615.0 168.4,611.3Z" fill="#fefcf2"/>
<path d="M199.7,597.5 201.0,601.8 202.1,606.0 202.9,610.3 203.6,614.5 204.1,618.8 204.4,623.0 204.5,627.3 204.5,684.0 204.1,691.3 203.3,698.7 202.4,706.0 197.0,706.0 196.1,698.7 195.3,691.3 194.9,684.0 194.9,627.3 195.0,623.0 195.3,618.8 195.8,614.5 196.5,610.3 197.3,606.0 198.4,601.8 199.7,597.5Z" fill="#fefcf2"/>
<path d="M221.5,606.0 222.5,609.9 223.3,613.9 224.0,617.8 224.5,621.8 224.9,625.7 225.2,629.6 225.2,633.6 225.2,684.0 224.9,691.3 224.3,698.7 223.6,706.0 219.4,706.0 218.7,698.7 218.1,691.3 217.8,684.0 217.8,633.6 217.8,629.6 218.1,625.7 218.5,621.8 219.0,617.8 219.7,613.9 220.5,609.9 221.5,606.0Z" fill="#fefcf2"/>
<path d="M238.2,614.8 239.2,618.4 240.0,622.0 240.6,625.6 241.1,629.2 241.5,632.9 241.7,636.5 241.8,640.1 241.8,684.0 241.5,691.3 240.9,698.7 240.2,706.0 236.3,706.0 235.6,698.7 235.0,691.3 234.7,684.0 234.7,640.1 234.8,636.5 235.0,632.9 235.4,629.2 235.9,625.6 236.5,622.0 237.3,618.4 238.2,614.8Z" fill="#fefcf2"/>
<path d="M255.1,595.0 256.4,599.3 257.4,603.7 258.2,608.0 258.9,612.4 259.4,616.7 259.7,621.1 259.8,625.4 259.8,684.0 259.3,691.3 258.6,698.7 257.7,706.0 252.5,706.0 251.6,698.7 250.9,691.3 250.5,684.0 250.5,625.4 250.5,621.1 250.8,616.7 251.3,612.4 252.0,608.0 252.8,603.7 253.8,599.3 255.1,595.0Z" fill="#fefcf2"/>
<path d="M274.0,618.0 275.3,621.6 276.3,625.1 277.1,628.7 277.8,632.3 278.3,635.9 278.6,639.4 278.6,643.0 278.6,684.0 278.2,691.3 277.5,698.7 276.6,706.0 271.4,706.0 270.5,698.7 269.8,691.3 269.4,684.0 269.4,643.0 269.4,639.4 269.7,635.9 270.2,632.3 270.9,628.7 271.7,625.1 272.7,621.6 274.0,618.0Z" fill="#fefcf2"/>
<path d="M294.0,623.3 294.9,626.9 295.6,630.4 296.2,634.0 296.7,637.6 297.0,641.2 297.2,644.7 297.3,648.3 297.3,684.0 297.0,691.3 296.5,698.7 295.8,706.0 292.2,706.0 291.5,698.7 291.0,691.3 290.7,684.0 290.7,648.3 290.8,644.7 291.0,641.2 291.3,637.6 291.8,634.0 292.4,630.4 293.1,626.9 294.0,623.3Z" fill="#fefcf2"/>
<path d="M303.9,617.2 304.8,620.8 305.5,624.3 306.1,627.9 306.6,631.5 306.9,635.1 307.1,638.6 307.2,642.2 307.2,684.0 306.9,691.3 306.4,698.7 305.7,706.0 302.0,706.0 301.3,698.7 300.8,691.3 300.5,684.0 300.5,642.2 300.6,638.6 300.8,635.1 301.1,631.5 301.6,627.9 302.2,624.3 302.9,620.8 303.9,617.2Z" fill="#fefcf2"/>
<path d="M316.4,609.7 317.4,613.5 318.1,617.3 318.8,621.1 319.3,624.9 319.7,628.7 319.9,632.5 320.0,636.3 320.0,684.0 319.7,691.3 319.1,698.7 318.3,706.0 314.4,706.0 313.6,698.7 313.0,691.3 312.7,684.0 312.7,636.3 312.8,632.5 313.0,628.7 313.4,624.9 313.9,621.1 314.6,617.3 315.3,613.5 316.4,609.7Z" fill="#fefcf2"/>
<path d="M326.6,677.6 327.3,679.8 327.8,682.1 328.3,684.3 328.7,686.5 329.0,688.8 329.1,691.0 329.2,693.2 329.2,696.1 328.9,699.4 328.5,702.7 328.0,706.0 325.1,706.0 324.6,702.7 324.2,699.4 323.9,696.1 323.9,693.2 324.0,691.0 324.1,688.8 324.4,686.5 324.8,684.3 325.3,682.1 325.8,679.8 326.6,677.6Z" fill="#fefcf2"/>
<path d="M342.3,606.7 343.2,610.6 343.9,614.5 344.5,618.4 345.0,622.4 345.3,626.3 345.5,630.2 345.6,634.1 345.6,684.0 345.3,691.3 344.8,698.7 344.1,706.0 340.5,706.0 339.8,698.7 339.3,691.3 339.0,684.0 339.0,634.1 339.1,630.2 339.3,626.3 339.6,622.4 340.1,618.4 340.7,614.5 341.4,610.6 342.3,606.7Z" fill="#fefcf2"/>
<path d="M352.1,617.3 353.5,620.9 354.5,624.4 355.3,628.0 356.0,631.6 356.4,635.2 356.7,638.7 356.8,642.3 356.8,684.0 356.4,691.3 355.7,698.7 354.7,706.0 349.6,706.0 348.6,698.7 347.9,691.3 347.5,684.0 347.5,642.3 347.6,638.7 347.9,635.2 348.3,631.6 349.0,628.0 349.8,624.4 350.8,620.9 352.1,617.3Z" fill="#fefcf2"/>
<path d="M364.6,617.3 365.6,620.9 366.4,624.4 367.0,628.0 367.6,631.6 367.9,635.2 368.2,638.7 368.3,642.3 368.3,684.0 367.9,691.3 367.4,698.7 366.6,706.0 362.6,706.0 361.8,698.7 361.3,691.3 360.9,684.0 360.9,642.3 361.0,638.7 361.3,635.2 361.6,631.6 362.2,628.0 362.8,624.4 363.6,620.9 364.6,617.3Z" fill="#fefcf2"/>
<path d="M374.6,670.0 375.0,672.8 375.3,675.7 375.6,678.5 375.8,681.3 376.0,684.1 376.1,687.0 376.1,689.8 376.1,693.4 376.0,697.6 375.7,701.8 375.4,706.0 373.8,706.0 373.5,701.8 373.2,697.6 373.1,693.4 373.1,689.8 373.1,687.0 373.2,684.1 373.4,681.3 373.6,678.5 373.9,675.7 374.2,672.8 374.6,670.0Z" fill="#fefcf2"/>
<path d="M52.1,629.0 52.9,632.1 53.5,635.3 54.0,638.4 54.4,641.6 54.7,644.7 54.8,647.9 54.9,651.0 54.9,684.0 54.6,691.3 54.2,698.7 53.6,706.0 50.6,706.0 50.0,698.7 49.6,691.3 49.3,684.0 49.3,651.0 49.4,647.9 49.5,644.7 49.8,641.6 50.2,638.4 50.7,635.3 51.3,632.1 52.1,629.0Z" fill="#fddc82"/>
<path d="M52.1,635.0 52.8,637.9 53.3,640.7 53.8,643.6 54.2,646.4 54.4,649.3 54.6,652.1 54.6,655.0 54.6,680.2 54.4,688.3 54.0,696.4 53.5,704.5 50.7,704.5 50.2,696.4 49.8,688.3 49.6,680.2 49.6,655.0 49.6,652.1 49.8,649.3 50.0,646.4 50.4,643.6 50.9,640.7 51.4,637.9 52.1,635.0Z" fill="#f99532"/>
<path d="M52.1,643.8 52.7,646.3 53.1,648.9 53.4,651.5 53.7,654.0 53.9,656.6 54.1,659.2 54.1,661.8 54.1,681.6 53.9,688.4 53.6,695.2 53.2,702.0 51.0,702.0 50.6,695.2 50.3,688.4 50.1,681.6 50.1,661.8 50.1,659.2 50.3,656.6 50.5,654.0 50.8,651.5 51.1,648.9 51.5,646.3 52.1,643.8Z" fill="#e34327"/>
<path d="M57.6,641.0 58.2,644.1 58.6,647.3 58.9,650.4 59.2,653.6 59.4,656.7 59.6,659.9 59.6,663.0 59.6,684.0 59.4,691.3 59.1,698.7 58.7,706.0 56.5,706.0 56.1,698.7 55.8,691.3 55.6,684.0 55.6,663.0 55.6,659.9 55.8,656.7 56.0,653.6 56.3,650.4 56.6,647.3 57.0,644.1 57.6,641.0Z" fill="#c6e6f7"/>
<path d="M57.6,667.5 58.1,670.4 58.5,673.2 58.8,676.1 59.0,678.9 59.2,681.8 59.3,684.6 59.3,687.5 59.3,691.5 59.2,695.9 58.9,700.2 58.6,704.5 56.6,704.5 56.3,700.2 56.0,695.9 55.9,691.5 55.9,687.5 55.9,684.6 56.0,681.8 56.2,678.9 56.4,676.1 56.7,673.2 57.1,670.4 57.6,667.5Z" fill="#7bbde6"/>
<path d="M57.6,669.5 58.0,672.1 58.3,674.6 58.6,677.2 58.8,679.7 59.0,682.3 59.1,684.8 59.1,687.4 59.1,690.6 59.0,694.4 58.7,698.2 58.4,702.0 56.8,702.0 56.5,698.2 56.2,694.4 56.1,690.6 56.1,687.4 56.1,684.8 56.2,682.3 56.4,679.7 56.6,677.2 56.9,674.6 57.2,672.1 57.6,669.5Z" fill="#3375bd"/>
<path d="M57.6,672.0 57.9,674.1 58.2,676.2 58.4,678.2 58.6,680.3 58.7,682.4 58.8,684.5 58.8,686.6 58.8,689.2 58.7,692.3 58.5,695.4 58.3,698.5 56.9,698.5 56.7,695.4 56.5,692.3 56.4,689.2 56.4,686.6 56.4,684.5 56.5,682.4 56.6,680.3 56.8,678.2 57.0,676.2 57.3,674.1 57.6,672.0Z" fill="#1c3370"/>
<path d="M63.8,647.5 65.0,650.6 65.9,653.8 66.7,656.9 67.4,660.1 67.8,663.2 68.1,666.4 68.2,669.5 68.2,685.5 67.8,692.4 67.1,699.2 66.2,706.0 61.3,706.0 60.4,699.2 59.7,692.4 59.3,685.5 59.3,669.5 59.4,666.4 59.7,663.2 60.1,660.1 60.8,656.9 61.6,653.8 62.5,650.6 63.8,647.5Z" fill="#c6e6f7"/>
<path d="M70.1,635.0 70.7,638.1 71.2,641.3 71.6,644.4 71.9,647.6 72.2,650.7 72.3,653.9 72.3,657.0 72.3,684.0 72.2,691.3 71.8,698.7 71.3,706.0 68.9,706.0 68.4,698.7 68.0,691.3 67.8,684.0 67.8,657.0 67.9,653.9 68.0,650.7 68.3,647.6 68.6,644.4 69.0,641.3 69.5,638.1 70.1,635.0Z" fill="#fddc82"/>
<path d="M70.1,645.0 70.7,647.9 71.1,650.7 71.4,653.6 71.7,656.4 71.9,659.3 72.0,662.1 72.1,665.0 72.1,683.7 71.9,690.6 71.6,697.6 71.2,704.5 69.0,704.5 68.6,697.6 68.3,690.6 68.1,683.7 68.1,665.0 68.2,662.1 68.3,659.3 68.5,656.4 68.8,653.6 69.1,650.7 69.5,647.9 70.1,645.0Z" fill="#f99532"/>
<path d="M70.1,660.0 70.5,662.6 70.8,665.1 71.1,667.7 71.3,670.3 71.5,672.9 71.6,675.4 71.6,678.0 71.6,687.3 71.5,692.2 71.2,697.1 70.9,702.0 69.3,702.0 69.0,697.1 68.7,692.2 68.6,687.3 68.6,678.0 68.6,675.4 68.7,672.9 68.9,670.3 69.1,667.7 69.4,665.1 69.7,662.6 70.1,660.0Z" fill="#e34327"/>
<path d="M78.2,635.0 79.3,638.1 80.2,641.3 80.9,644.4 81.4,647.6 81.9,650.7 82.1,653.9 82.2,657.0 82.2,684.0 81.8,691.3 81.2,698.7 80.4,706.0 76.1,706.0 75.3,698.7 74.7,691.3 74.3,684.0 74.3,657.0 74.4,653.9 74.6,650.7 75.1,647.6 75.6,644.4 76.3,641.3 77.2,638.1 78.2,635.0Z" fill="#c6e6f7"/>
<path d="M78.2,660.0 79.2,662.9 79.9,665.7 80.5,668.6 81.0,671.4 81.4,674.3 81.6,677.1 81.7,680.0 81.7,688.9 81.4,694.1 80.8,699.3 80.1,704.5 76.4,704.5 75.7,699.3 75.1,694.1 74.8,688.9 74.8,680.0 74.9,677.1 75.1,674.3 75.5,671.4 76.0,668.6 76.6,665.7 77.3,662.9 78.2,660.0Z" fill="#7bbde6"/>
<path d="M78.2,670.0 79.1,672.5 79.7,675.0 80.2,677.5 80.6,680.1 80.9,682.6 81.1,685.1 81.2,687.6 81.2,690.8 80.9,694.5 80.5,698.3 79.9,702.0 76.6,702.0 76.0,698.3 75.6,694.5 75.3,690.8 75.3,687.6 75.4,685.1 75.6,682.6 75.9,680.1 76.3,677.5 76.8,675.0 77.4,672.5 78.2,670.0Z" fill="#3375bd"/>
<path d="M87.0,635.0 88.5,638.1 89.6,641.3 90.5,644.4 91.3,647.6 91.8,650.7 92.1,653.9 92.2,657.0 92.2,684.0 91.8,691.3 91.0,698.7 89.9,706.0 84.1,706.0 83.0,698.7 82.2,691.3 81.8,684.0 81.8,657.0 81.9,653.9 82.2,650.7 82.7,647.6 83.5,644.4 84.4,641.3 85.5,638.1 87.0,635.0Z" fill="#c6e6f7"/>
<path d="M101.6,560.2 103.0,565.3 104.1,570.5 105.0,575.6 105.7,580.8 106.2,585.9 106.5,591.1 106.6,596.2 106.6,684.0 106.2,691.3 105.4,698.7 104.4,706.0 98.8,706.0 97.8,698.7 97.0,691.3 96.6,684.0 96.6,596.2 96.7,591.1 97.0,585.9 97.5,580.8 98.2,575.6 99.1,570.5 100.2,565.3 101.6,560.2Z" fill="#fddc82"/>
<path d="M101.6,570.0 102.9,575.0 103.9,579.9 104.7,584.9 105.3,589.8 105.8,594.8 106.1,599.8 106.2,604.7 106.2,678.5 105.8,687.2 105.1,695.8 104.1,704.5 99.1,704.5 98.1,695.8 97.4,687.2 97.0,678.5 97.0,604.7 97.1,599.8 97.4,594.8 97.9,589.8 98.5,584.9 99.3,579.9 100.3,575.0 101.6,570.0Z" fill="#f99532"/>
<path d="M101.6,580.5 102.7,585.1 103.5,589.6 104.2,594.2 104.7,598.8 105.1,603.3 105.4,607.9 105.5,612.5 105.5,672.0 105.1,682.0 104.5,692.0 103.7,702.0 99.5,702.0 98.7,692.0 98.1,682.0 97.7,672.0 97.7,612.5 97.8,607.9 98.1,603.3 98.5,598.8 99.0,594.2 99.7,589.6 100.5,585.1 101.6,580.5Z" fill="#e34327"/>
<path d="M101.6,594.7 102.3,598.7 102.9,602.8 103.4,606.8 103.8,610.9 104.0,614.9 104.2,618.9 104.3,623.0 104.3,664.5 104.0,675.8 103.6,687.2 103.1,698.5 100.1,698.5 99.6,687.2 99.2,675.8 98.9,664.5 98.9,623.0 99.0,618.9 99.2,614.9 99.4,610.9 99.8,606.8 100.3,602.8 100.9,598.7 101.6,594.7Z" fill="#9a1a1e"/>
<path d="M108.7,611.0 109.4,614.4 110.0,617.9 110.5,621.3 110.8,624.7 111.1,628.2 111.3,631.6 111.3,635.0 111.3,684.0 111.1,691.3 110.7,698.7 110.1,706.0 107.3,706.0 106.7,698.7 106.3,691.3 106.1,684.0 106.1,635.0 106.1,631.6 106.3,628.2 106.6,624.7 106.9,621.3 107.4,617.9 108.0,614.4 108.7,611.0Z" fill="#c6e6f7"/>
<path d="M108.7,631.0 109.4,633.9 109.8,636.7 110.3,639.6 110.6,642.4 110.8,645.3 111.0,648.1 111.0,651.0 111.0,678.8 110.8,687.4 110.5,695.9 110.0,704.5 107.4,704.5 106.9,695.9 106.6,687.4 106.4,678.8 106.4,651.0 106.4,648.1 106.6,645.3 106.8,642.4 107.1,639.6 107.6,636.7 108.0,633.9 108.7,631.0Z" fill="#7bbde6"/>
<path d="M115.3,592.7 116.3,596.8 117.1,600.9 117.8,605.0 118.3,609.2 118.7,613.3 118.9,617.4 119.0,621.5 119.0,684.0 118.7,691.3 118.1,698.7 117.3,706.0 113.3,706.0 112.5,698.7 111.9,691.3 111.6,684.0 111.6,621.5 111.7,617.4 111.9,613.3 112.3,609.2 112.8,605.0 113.5,600.9 114.3,596.8 115.3,592.7Z" fill="#fddc82"/>
<path d="M115.3,607.0 116.2,610.6 116.9,614.2 117.5,617.8 118.0,621.3 118.3,624.9 118.5,628.5 118.6,632.1 118.6,678.5 118.3,687.2 117.8,695.8 117.1,704.5 113.5,704.5 112.8,695.8 112.3,687.2 112.0,678.5 112.0,632.1 112.1,628.5 112.3,624.9 112.6,621.3 113.1,617.8 113.7,614.2 114.4,610.6 115.3,607.0Z" fill="#f99532"/>
<path d="M115.3,641.5 116.0,644.1 116.5,646.6 116.9,649.2 117.3,651.8 117.5,654.4 117.7,656.9 117.7,659.5 117.7,680.8 117.5,687.9 117.1,694.9 116.6,702.0 114.0,702.0 113.5,694.9 113.1,687.9 112.9,680.8 112.9,659.5 112.9,656.9 113.1,654.4 113.3,651.8 113.7,649.2 114.1,646.6 114.6,644.1 115.3,641.5Z" fill="#e34327"/>
<path d="M115.3,655.0 115.8,657.6 116.2,660.1 116.5,662.7 116.8,665.3 117.0,667.9 117.1,670.4 117.1,673.0 117.1,683.3 117.0,688.4 116.7,693.4 116.3,698.5 114.3,698.5 113.9,693.4 113.6,688.4 113.5,683.3 113.5,673.0 113.5,670.4 113.6,667.9 113.8,665.3 114.1,662.7 114.4,660.1 114.8,657.6 115.3,655.0Z" fill="#9a1a1e"/>
<path d="M121.5,621.0 122.3,624.1 123.0,627.3 123.6,630.4 124.0,633.6 124.4,636.7 124.6,639.9 124.7,643.0 124.7,684.0 124.4,691.3 123.9,698.7 123.2,706.0 119.7,706.0 119.0,698.7 118.5,691.3 118.2,684.0 118.2,643.0 118.3,639.9 118.5,636.7 118.9,633.6 119.3,630.4 119.9,627.3 120.6,624.1 121.5,621.0Z" fill="#c6e6f7"/>
<path d="M121.5,651.6 122.2,654.5 122.8,657.3 123.3,660.2 123.7,663.0 124.0,665.9 124.2,668.7 124.2,671.6 124.2,686.0 124.0,692.2 123.6,698.3 123.0,704.5 119.9,704.5 119.3,698.3 118.9,692.2 118.7,686.0 118.7,671.6 118.7,668.7 118.9,665.9 119.2,663.0 119.6,660.2 120.1,657.3 120.7,654.5 121.5,651.6Z" fill="#7bbde6"/>
<path d="M127.0,631.3 127.6,634.4 128.1,637.6 128.5,640.7 128.8,643.9 129.1,647.0 129.2,650.2 129.2,653.3 129.2,684.0 129.1,691.3 128.7,698.7 128.2,706.0 125.8,706.0 125.3,698.7 124.9,691.3 124.8,684.0 124.8,653.3 124.8,650.2 124.9,647.0 125.2,643.9 125.5,640.7 125.9,637.6 126.4,634.4 127.0,631.3Z" fill="#fddc82"/>
<path d="M127.0,640.0 127.6,642.9 128.0,645.7 128.3,648.6 128.6,651.4 128.8,654.3 129.0,657.1 129.0,660.0 129.0,681.9 128.8,689.4 128.5,697.0 128.1,704.5 125.9,704.5 125.5,697.0 125.2,689.4 125.0,681.9 125.0,660.0 125.0,657.1 125.2,654.3 125.4,651.4 125.7,648.6 126.0,645.7 126.4,642.9 127.0,640.0Z" fill="#f99532"/>
<path d="M127.0,651.6 127.4,654.2 127.7,656.7 128.0,659.3 128.2,661.9 128.4,664.5 128.5,667.0 128.5,669.6 128.5,684.4 128.4,690.2 128.1,696.1 127.8,702.0 126.2,702.0 125.9,696.1 125.6,690.2 125.5,684.4 125.5,669.6 125.5,667.0 125.6,664.5 125.8,661.9 126.0,659.3 126.3,656.7 126.6,654.2 127.0,651.6Z" fill="#e34327"/>
<path d="M133.1,631.3 134.1,634.4 134.9,637.6 135.5,640.7 136.1,643.9 136.5,647.0 136.7,650.2 136.8,653.3 136.8,684.0 136.5,691.3 135.9,698.7 135.1,706.0 131.0,706.0 130.2,698.7 129.6,691.3 129.3,684.0 129.3,653.3 129.4,650.2 129.6,647.0 130.0,643.9 130.6,640.7 131.2,637.6 132.0,634.4 133.1,631.3Z" fill="#c6e6f7"/>
<path d="M133.1,647.6 134.0,650.5 134.7,653.3 135.3,656.2 135.7,659.0 136.1,661.9 136.3,664.7 136.4,667.6 136.4,684.6 136.1,691.2 135.5,697.9 134.9,704.5 131.2,704.5 130.6,697.9 130.0,691.2 129.7,684.6 129.7,667.6 129.8,664.7 130.0,661.9 130.4,659.0 130.8,656.2 131.4,653.3 132.1,650.5 133.1,647.6Z" fill="#7bbde6"/>
<path d="M133.1,655.0 133.8,657.6 134.4,660.1 134.9,662.7 135.3,665.3 135.6,667.9 135.8,670.4 135.8,673.0 135.8,685.5 135.6,691.0 135.1,696.5 134.6,702.0 131.5,702.0 131.0,696.5 130.5,691.0 130.3,685.5 130.3,673.0 130.3,670.4 130.5,667.9 130.8,665.3 131.2,662.7 131.7,660.1 132.3,657.6 133.1,655.0Z" fill="#3375bd"/>
<path d="M133.1,661.8 133.7,664.4 134.2,666.9 134.6,669.5 134.9,672.1 135.2,674.7 135.3,677.2 135.4,679.8 135.4,685.7 135.2,689.9 134.8,694.2 134.3,698.5 131.8,698.5 131.3,694.2 130.9,689.9 130.7,685.7 130.7,679.8 130.8,677.2 130.9,674.7 131.2,672.1 131.5,669.5 131.9,666.9 132.4,664.4 133.1,661.8Z" fill="#1c3370"/>
<path d="M139.1,627.0 139.8,630.1 140.3,633.3 140.7,636.4 141.0,639.6 141.3,642.7 141.4,645.9 141.4,649.0 141.4,684.0 141.2,691.3 140.9,698.7 140.4,706.0 137.9,706.0 137.4,698.7 137.1,691.3 136.9,684.0 136.9,649.0 136.9,645.9 137.0,642.7 137.3,639.6 137.6,636.4 138.0,633.3 138.5,630.1 139.1,627.0Z" fill="#fddc82"/>
<path d="M139.1,638.0 139.7,640.9 140.1,643.7 140.5,646.6 140.8,649.4 141.0,652.3 141.1,655.1 141.2,658.0 141.2,681.2 141.0,689.0 140.7,696.7 140.3,704.5 138.0,704.5 137.6,696.7 137.3,689.0 137.1,681.2 137.1,658.0 137.2,655.1 137.3,652.3 137.5,649.4 137.8,646.6 138.2,643.7 138.6,640.9 139.1,638.0Z" fill="#f99532"/>
<path d="M139.1,641.5 139.6,644.1 140.0,646.6 140.3,649.2 140.5,651.8 140.7,654.4 140.8,656.9 140.8,659.5 140.8,680.8 140.7,687.9 140.4,694.9 140.1,702.0 138.2,702.0 137.9,694.9 137.6,687.9 137.5,680.8 137.5,659.5 137.5,656.9 137.6,654.4 137.8,651.8 138.0,649.2 138.3,646.6 138.7,644.1 139.1,641.5Z" fill="#e34327"/>
<path d="M144.0,637.4 144.6,640.5 145.1,643.7 145.5,646.8 145.9,650.0 146.1,653.1 146.3,656.3 146.3,659.4 146.3,684.0 146.1,691.3 145.7,698.7 145.3,706.0 142.7,706.0 142.3,698.7 141.9,691.3 141.7,684.0 141.7,659.4 141.7,656.3 141.9,653.1 142.1,650.0 142.5,646.8 142.9,643.7 143.4,640.5 144.0,637.4Z" fill="#c6e6f7"/>
<path d="M144.0,645.0 144.6,647.9 145.0,650.7 145.4,653.6 145.7,656.4 145.9,659.3 146.1,662.1 146.1,665.0 146.1,683.7 145.9,690.6 145.6,697.6 145.2,704.5 142.8,704.5 142.4,697.6 142.1,690.6 141.9,683.7 141.9,665.0 141.9,662.1 142.1,659.3 142.3,656.4 142.6,653.6 143.0,650.7 143.4,647.9 144.0,645.0Z" fill="#7bbde6"/>
<path d="M144.0,650.0 144.5,652.6 144.9,655.1 145.2,657.7 145.5,660.3 145.7,662.9 145.8,665.4 145.8,668.0 145.8,683.8 145.7,689.9 145.4,695.9 145.0,702.0 143.0,702.0 142.6,695.9 142.3,689.9 142.2,683.8 142.2,668.0 142.2,665.4 142.3,662.9 142.5,660.3 142.8,657.7 143.1,655.1 143.5,652.6 144.0,650.0Z" fill="#3375bd"/>
<path d="M144.0,653.0 144.4,655.6 144.7,658.1 145.0,660.7 145.2,663.3 145.4,665.9 145.5,668.4 145.5,671.0 145.5,682.6 145.4,687.9 145.1,693.2 144.8,698.5 143.2,698.5 142.9,693.2 142.6,687.9 142.5,682.6 142.5,671.0 142.5,668.4 142.6,665.9 142.8,663.3 143.0,660.7 143.3,658.1 143.6,655.6 144.0,653.0Z" fill="#1c3370"/>
<path d="M150.6,614.3 151.5,617.6 152.2,620.9 152.8,624.2 153.2,627.6 153.6,630.9 153.8,634.2 153.8,637.5 153.8,684.0 153.6,691.3 153.0,698.7 152.4,706.0 148.8,706.0 148.2,698.7 147.6,691.3 147.4,684.0 147.4,637.5 147.4,634.2 147.6,630.9 148.0,627.6 148.4,624.2 149.0,620.9 149.7,617.6 150.6,614.3Z" fill="#fddc82"/>
<path d="M150.6,623.0 151.4,626.0 152.0,629.0 152.6,632.0 153.0,635.0 153.3,638.0 153.5,640.9 153.5,643.9 153.5,678.5 153.3,687.2 152.8,695.8 152.2,704.5 149.0,704.5 148.4,695.8 147.9,687.2 147.7,678.5 147.7,643.9 147.7,640.9 147.9,638.0 148.2,635.0 148.6,632.0 149.2,629.0 149.8,626.0 150.6,623.0Z" fill="#f99532"/>
<path d="M150.6,632.0 151.3,634.7 151.7,637.3 152.2,640.0 152.5,642.6 152.7,645.3 152.9,647.9 152.9,650.6 152.9,677.5 152.7,685.7 152.4,693.8 151.9,702.0 149.3,702.0 148.8,693.8 148.5,685.7 148.3,677.5 148.3,650.6 148.3,647.9 148.5,645.3 148.7,642.6 149.0,640.0 149.5,637.3 149.9,634.7 150.6,632.0Z" fill="#e34327"/>
<path d="M150.6,644.5 151.0,647.1 151.4,649.6 151.7,652.2 151.9,654.8 152.1,657.4 152.2,659.9 152.2,662.5 152.2,679.6 152.1,685.9 151.8,692.2 151.5,698.5 149.7,698.5 149.4,692.2 149.1,685.9 149.0,679.6 149.0,662.5 149.0,659.9 149.1,657.4 149.3,654.8 149.5,652.2 149.8,649.6 150.2,647.1 150.6,644.5Z" fill="#9a1a1e"/>
<path d="M158.6,625.0 159.9,628.1 160.9,631.3 161.7,634.4 162.3,637.6 162.8,640.7 163.1,643.9 163.2,647.0 163.2,684.0 162.8,691.3 162.1,698.7 161.1,706.0 156.1,706.0 155.1,698.7 154.4,691.3 154.0,684.0 154.0,647.0 154.1,643.9 154.4,640.7 154.9,637.6 155.5,634.4 156.3,631.3 157.3,628.1 158.6,625.0Z" fill="#c6e6f7"/>
<path d="M158.6,637.4 159.8,640.3 160.7,643.1 161.4,646.0 162.0,648.8 162.4,651.7 162.7,654.5 162.8,657.4 162.8,681.0 162.4,688.8 161.8,696.7 160.9,704.5 156.3,704.5 155.4,696.7 154.8,688.8 154.4,681.0 154.4,657.4 154.5,654.5 154.8,651.7 155.2,648.8 155.8,646.0 156.5,643.1 157.4,640.3 158.6,637.4Z" fill="#7bbde6"/>
<path d="M158.6,653.0 159.6,655.6 160.3,658.1 160.9,660.7 161.4,663.3 161.7,665.9 162.0,668.4 162.0,671.0 162.0,684.9 161.7,690.6 161.2,696.3 160.5,702.0 156.7,702.0 156.0,696.3 155.5,690.6 155.2,684.9 155.2,671.0 155.2,668.4 155.5,665.9 155.8,663.3 156.3,660.7 156.9,658.1 157.6,655.6 158.6,653.0Z" fill="#3375bd"/>
<path d="M168.4,614.3 169.3,617.6 170.0,620.9 170.6,624.2 171.0,627.6 171.4,630.9 171.6,634.2 171.6,637.5 171.6,684.0 171.4,691.3 170.8,698.7 170.2,706.0 166.6,706.0 166.0,698.7 165.4,691.3 165.2,684.0 165.2,637.5 165.2,634.2 165.4,630.9 165.8,627.6 166.2,624.2 166.8,620.9 167.5,617.6 168.4,614.3Z" fill="#fddc82"/>
<path d="M168.4,626.7 169.2,629.6 169.8,632.4 170.3,635.3 170.7,638.1 171.0,641.0 171.2,643.8 171.3,646.7 171.3,678.5 171.0,687.2 170.6,695.8 170.0,704.5 166.8,704.5 166.2,695.8 165.8,687.2 165.5,678.5 165.5,646.7 165.6,643.8 165.8,641.0 166.1,638.1 166.5,635.3 167.0,632.4 167.6,629.6 168.4,626.7Z" fill="#f99532"/>
<path d="M168.4,641.0 169.0,643.6 169.5,646.1 169.8,648.7 170.1,651.3 170.4,653.9 170.5,656.4 170.5,659.0 170.5,680.6 170.4,687.8 170.0,694.9 169.6,702.0 167.2,702.0 166.8,694.9 166.4,687.8 166.3,680.6 166.3,659.0 166.3,656.4 166.4,653.9 166.7,651.3 167.0,648.7 167.3,646.1 167.8,643.6 168.4,641.0Z" fill="#e34327"/>
<path d="M182.6,628.5 184.4,631.6 185.8,634.8 186.9,637.9 187.9,641.1 188.6,644.2 189.0,647.4 189.1,650.5 189.1,684.0 188.5,691.3 187.5,698.7 186.2,706.0 178.9,706.0 177.6,698.7 176.6,691.3 176.0,684.0 176.0,650.5 176.1,647.4 176.5,644.2 177.2,641.1 178.2,637.9 179.3,634.8 180.7,631.6 182.6,628.5Z" fill="#c6e6f7"/>
<path d="M182.6,658.7 184.1,660.4 185.4,662.0 186.4,663.7 187.2,665.4 187.8,667.1 188.2,668.7 188.3,670.4 188.3,677.7 187.8,681.2 186.9,684.6 185.7,688.0 179.4,688.0 178.2,684.6 177.3,681.2 176.8,677.7 176.8,670.4 176.9,668.7 177.3,667.1 177.9,665.4 178.7,663.7 179.7,662.0 181.0,660.4 182.6,658.7Z" fill="#7bbde6"/>
<path d="M199.7,600.5 200.9,604.3 201.8,608.2 202.5,612.0 203.1,615.8 203.6,619.6 203.8,623.5 203.9,627.3 203.9,684.0 203.6,691.3 202.9,698.7 202.0,706.0 197.4,706.0 196.5,698.7 195.8,691.3 195.5,684.0 195.5,627.3 195.6,623.5 195.8,619.6 196.3,615.8 196.9,612.0 197.6,608.2 198.5,604.3 199.7,600.5Z" fill="#fddc82"/>
<path d="M199.7,606.2 200.8,609.9 201.6,613.5 202.3,617.1 202.8,620.7 203.3,624.3 203.5,627.9 203.6,631.5 203.6,678.5 203.2,687.2 202.6,695.8 201.8,704.5 197.6,704.5 196.8,695.8 196.2,687.2 195.8,678.5 195.8,631.5 195.9,627.9 196.1,624.3 196.6,620.7 197.1,617.1 197.8,613.5 198.6,609.9 199.7,606.2Z" fill="#f99532"/>
<path d="M199.7,612.5 200.6,615.9 201.3,619.3 201.9,622.6 202.4,626.0 202.7,629.4 203.0,632.8 203.0,636.2 203.0,672.0 202.7,682.0 202.2,692.0 201.5,702.0 197.9,702.0 197.2,692.0 196.7,682.0 196.4,672.0 196.4,636.2 196.4,632.8 196.7,629.4 197.0,626.0 197.5,622.6 198.1,619.3 198.8,615.9 199.7,612.5Z" fill="#e34327"/>
<path d="M199.7,620.8 200.4,623.9 200.9,626.9 201.4,630.0 201.7,633.1 202.0,636.2 202.1,639.2 202.2,642.3 202.2,671.3 202.0,680.4 201.6,689.4 201.1,698.5 198.3,698.5 197.8,689.4 197.4,680.4 197.2,671.3 197.2,642.3 197.3,639.2 197.4,636.2 197.7,633.1 198.0,630.0 198.5,626.9 199.0,623.9 199.7,620.8Z" fill="#9a1a1e"/>
<path d="M207.2,621.0 208.2,624.1 208.9,627.3 209.5,630.4 210.0,633.6 210.4,636.7 210.6,639.9 210.7,643.0 210.7,684.0 210.4,691.3 209.8,698.7 209.1,706.0 205.4,706.0 204.7,698.7 204.1,691.3 203.8,684.0 203.8,643.0 203.9,639.9 204.1,636.7 204.5,633.6 205.0,630.4 205.6,627.3 206.3,624.1 207.2,621.0Z" fill="#c6e6f7"/>
<path d="M207.2,630.0 208.1,632.9 208.8,635.7 209.4,638.6 209.8,641.4 210.1,644.3 210.3,647.1 210.4,650.0 210.4,678.5 210.1,687.2 209.6,695.8 209.0,704.5 205.5,704.5 204.9,695.8 204.4,687.2 204.1,678.5 204.1,650.0 204.2,647.1 204.4,644.3 204.7,641.4 205.1,638.6 205.7,635.7 206.4,632.9 207.2,630.0Z" fill="#7bbde6"/>
<path d="M207.2,640.0 208.0,642.6 208.5,645.1 209.0,647.7 209.4,650.3 209.7,652.9 209.8,655.4 209.9,658.0 209.9,680.3 209.7,687.5 209.2,694.8 208.7,702.0 205.8,702.0 205.3,694.8 204.8,687.5 204.6,680.3 204.6,658.0 204.7,655.4 204.8,652.9 205.1,650.3 205.5,647.7 206.0,645.1 206.5,642.6 207.2,640.0Z" fill="#3375bd"/>
<path d="M207.2,650.0 207.8,652.6 208.3,655.1 208.7,657.7 209.0,660.3 209.2,662.9 209.3,665.4 209.4,668.0 209.4,681.5 209.2,687.2 208.8,692.8 208.4,698.5 206.1,698.5 205.7,692.8 205.3,687.2 205.1,681.5 205.1,668.0 205.2,665.4 205.3,662.9 205.5,660.3 205.8,657.7 206.2,655.1 206.7,652.6 207.2,650.0Z" fill="#1c3370"/>
<path d="M214.0,631.0 215.2,634.1 216.1,637.3 216.8,640.4 217.4,643.6 217.8,646.7 218.1,649.9 218.2,653.0 218.2,684.0 217.8,691.3 217.2,698.7 216.3,706.0 211.7,706.0 210.8,698.7 210.2,691.3 209.8,684.0 209.8,653.0 209.9,649.9 210.2,646.7 210.6,643.6 211.2,640.4 211.9,637.3 212.8,634.1 214.0,631.0Z" fill="#c6e6f7"/>
<path d="M214.0,637.5 215.1,640.4 215.9,643.2 216.6,646.1 217.2,648.9 217.6,651.8 217.8,654.6 217.9,657.5 217.9,681.0 217.6,688.9 216.9,696.7 216.1,704.5 211.9,704.5 211.1,696.7 210.4,688.9 210.1,681.0 210.1,657.5 210.2,654.6 210.4,651.8 210.8,648.9 211.4,646.1 212.1,643.2 212.9,640.4 214.0,637.5Z" fill="#7bbde6"/>
<path d="M214.0,645.8 214.9,648.4 215.6,650.9 216.2,653.5 216.7,656.1 217.0,658.7 217.2,661.2 217.3,663.8 217.3,682.3 217.0,688.9 216.5,695.4 215.8,702.0 212.2,702.0 211.5,695.4 211.0,688.9 210.7,682.3 210.7,663.8 210.8,661.2 211.0,658.7 211.3,656.1 211.8,653.5 212.4,650.9 213.1,648.4 214.0,645.8Z" fill="#3375bd"/>
<path d="M214.0,647.8 214.8,650.4 215.4,652.9 215.8,655.5 216.2,658.1 216.5,660.7 216.7,663.2 216.8,665.8 216.8,680.8 216.5,686.7 216.1,692.6 215.5,698.5 212.5,698.5 211.9,692.6 211.5,686.7 211.2,680.8 211.2,665.8 211.3,663.2 211.5,660.7 211.8,658.1 212.2,655.5 212.6,652.9 213.2,650.4 214.0,647.8Z" fill="#1c3370"/>
<path d="M221.5,609.0 222.4,612.5 223.0,616.0 223.6,619.5 224.1,623.0 224.4,626.5 224.6,630.1 224.7,633.6 224.7,684.0 224.4,691.3 223.9,698.7 223.2,706.0 219.8,706.0 219.1,698.7 218.6,691.3 218.3,684.0 218.3,633.6 218.4,630.1 218.6,626.5 218.9,623.0 219.4,619.5 220.0,616.0 220.6,612.5 221.5,609.0Z" fill="#fddc82"/>
<path d="M221.5,615.0 222.3,618.3 222.9,621.6 223.4,624.9 223.8,628.1 224.1,631.4 224.3,634.7 224.4,638.0 224.4,678.5 224.1,687.2 223.7,695.8 223.1,704.5 219.9,704.5 219.3,695.8 218.9,687.2 218.6,678.5 218.6,638.0 218.7,634.7 218.9,631.4 219.2,628.1 219.6,624.9 220.1,621.6 220.7,618.3 221.5,615.0Z" fill="#f99532"/>
<path d="M221.5,618.8 222.2,621.9 222.7,625.0 223.2,628.2 223.5,631.3 223.8,634.5 224.0,637.6 224.0,640.8 224.0,672.9 223.8,682.6 223.4,692.3 222.9,702.0 220.1,702.0 219.6,692.3 219.2,682.6 219.0,672.9 219.0,640.8 219.0,637.6 219.2,634.5 219.5,631.3 219.8,628.2 220.3,625.0 220.8,621.9 221.5,618.8Z" fill="#e34327"/>
<path d="M221.5,637.5 221.9,640.1 222.3,642.6 222.5,645.2 222.8,647.8 222.9,650.4 223.0,652.9 223.0,655.5 223.0,677.1 222.9,684.3 222.7,691.4 222.3,698.5 220.7,698.5 220.3,691.4 220.1,684.3 220.0,677.1 220.0,655.5 220.0,652.9 220.1,650.4 220.2,647.8 220.5,645.2 220.7,642.6 221.1,640.1 221.5,637.5Z" fill="#9a1a1e"/>
<path d="M229.5,621.0 231.1,624.1 232.3,627.3 233.4,630.4 234.2,633.6 234.8,636.7 235.2,639.9 235.3,643.0 235.3,684.0 234.8,691.3 233.9,698.7 232.7,706.0 226.3,706.0 225.1,698.7 224.2,691.3 223.7,684.0 223.7,643.0 223.8,639.9 224.2,636.7 224.8,633.6 225.6,630.4 226.7,627.3 227.9,624.1 229.5,621.0Z" fill="#c6e6f7"/>
<path d="M229.5,637.5 230.9,640.4 232.0,643.2 233.0,646.1 233.7,648.9 234.2,651.8 234.6,654.6 234.7,657.5 234.7,681.0 234.2,688.9 233.4,696.7 232.3,704.5 226.7,704.5 225.6,696.7 224.8,688.9 224.3,681.0 224.3,657.5 224.4,654.6 224.8,651.8 225.3,648.9 226.0,646.1 227.0,643.2 228.1,640.4 229.5,637.5Z" fill="#7bbde6"/>
<path d="M229.5,645.0 230.7,647.6 231.6,650.1 232.4,652.7 233.0,655.3 233.4,657.9 233.7,660.4 233.8,663.0 233.8,682.0 233.4,688.7 232.7,695.3 231.9,702.0 227.1,702.0 226.3,695.3 225.6,688.7 225.2,682.0 225.2,663.0 225.3,660.4 225.6,657.9 226.0,655.3 226.6,652.7 227.4,650.1 228.3,647.6 229.5,645.0Z" fill="#3375bd"/>
<path d="M229.5,648.0 230.5,650.6 231.3,653.1 231.9,655.7 232.4,658.3 232.8,660.9 233.0,663.4 233.1,666.0 233.1,680.8 232.8,686.7 232.2,692.6 231.5,698.5 227.5,698.5 226.8,692.6 226.2,686.7 225.9,680.8 225.9,666.0 226.0,663.4 226.2,660.9 226.6,658.3 227.1,655.7 227.7,653.1 228.5,650.6 229.5,648.0Z" fill="#1c3370"/>
<path d="M238.2,617.8 239.1,621.0 239.7,624.2 240.2,627.3 240.6,630.5 240.9,633.7 241.1,636.9 241.2,640.1 241.2,684.0 240.9,691.3 240.5,698.7 239.9,706.0 236.6,706.0 236.0,698.7 235.6,691.3 235.3,684.0 235.3,640.1 235.4,636.9 235.6,633.7 235.9,630.5 236.3,627.3 236.8,624.2 237.4,621.0 238.2,617.8Z" fill="#fddc82"/>
<path d="M238.2,626.0 239.0,628.9 239.5,631.8 240.0,634.6 240.4,637.5 240.7,640.4 240.8,643.3 240.9,646.1 240.9,678.5 240.7,687.2 240.2,695.8 239.7,704.5 236.8,704.5 236.3,695.8 235.8,687.2 235.6,678.5 235.6,646.1 235.7,643.3 235.8,640.4 236.1,637.5 236.5,634.6 237.0,631.8 237.5,628.9 238.2,626.0Z" fill="#f99532"/>
<path d="M238.2,632.6 238.9,635.2 239.3,637.9 239.7,640.5 240.0,643.1 240.2,645.8 240.4,648.4 240.4,651.0 240.4,677.7 240.2,685.8 239.9,693.9 239.4,702.0 237.1,702.0 236.6,693.9 236.3,685.8 236.1,677.7 236.1,651.0 236.1,648.4 236.3,645.8 236.5,643.1 236.8,640.5 237.2,637.9 237.6,635.2 238.2,632.6Z" fill="#e34327"/>
<path d="M238.2,645.8 238.6,648.4 239.0,650.9 239.2,653.5 239.4,656.1 239.6,658.7 239.7,661.2 239.7,663.8 239.7,680.1 239.6,686.2 239.3,692.4 239.0,698.5 237.5,698.5 237.2,692.4 236.9,686.2 236.8,680.1 236.8,663.8 236.8,661.2 236.9,658.7 237.1,656.1 237.3,653.5 237.5,650.9 237.9,648.4 238.2,645.8Z" fill="#9a1a1e"/>
<path d="M246.4,626.0 247.7,629.1 248.6,632.3 249.4,635.4 250.0,638.6 250.4,641.7 250.7,644.9 250.8,648.0 250.8,684.0 250.4,691.3 249.7,698.7 248.8,706.0 244.1,706.0 243.2,698.7 242.5,691.3 242.1,684.0 242.1,648.0 242.2,644.9 242.5,641.7 242.9,638.6 243.5,635.4 244.3,632.3 245.2,629.1 246.4,626.0Z" fill="#c6e6f7"/>
<path d="M246.4,636.0 247.6,638.9 248.4,641.7 249.1,644.6 249.7,647.4 250.1,650.3 250.4,653.1 250.4,656.0 250.4,680.5 250.1,688.5 249.5,696.5 248.6,704.5 244.3,704.5 243.4,696.5 242.8,688.5 242.5,680.5 242.5,656.0 242.5,653.1 242.8,650.3 243.2,647.4 243.8,644.6 244.5,641.7 245.3,638.9 246.4,636.0Z" fill="#7bbde6"/>
<path d="M246.4,642.0 247.4,644.6 248.1,647.1 248.7,649.7 249.2,652.3 249.6,654.9 249.8,657.4 249.9,660.0 249.9,681.0 249.6,688.0 249.0,695.0 248.3,702.0 244.6,702.0 243.9,695.0 243.3,688.0 243.0,681.0 243.0,660.0 243.1,657.4 243.3,654.9 243.7,652.3 244.2,649.7 244.8,647.1 245.5,644.6 246.4,642.0Z" fill="#3375bd"/>
<path d="M246.4,649.0 247.2,651.6 247.8,654.1 248.3,656.7 248.6,659.3 248.9,661.9 249.1,664.4 249.1,667.0 249.1,681.2 248.9,686.9 248.5,692.7 247.9,698.5 245.0,698.5 244.4,692.7 244.0,686.9 243.8,681.2 243.8,667.0 243.8,664.4 244.0,661.9 244.3,659.3 244.6,656.7 245.1,654.1 245.7,651.6 246.4,649.0Z" fill="#1c3370"/>
<path d="M255.1,598.0 256.2,601.9 257.1,605.8 257.8,609.8 258.4,613.7 258.8,617.6 259.1,621.5 259.2,625.4 259.2,684.0 258.8,691.3 258.2,698.7 257.3,706.0 252.9,706.0 252.0,698.7 251.4,691.3 251.1,684.0 251.1,625.4 251.1,621.5 251.4,617.6 251.8,613.7 252.4,609.8 253.1,605.8 254.0,601.9 255.1,598.0Z" fill="#fddc82"/>
<path d="M255.1,604.7 256.1,608.4 256.9,612.0 257.6,615.7 258.1,619.4 258.5,623.0 258.7,626.7 258.8,630.4 258.8,678.5 258.5,687.2 257.9,695.8 257.1,704.5 253.1,704.5 252.3,695.8 251.7,687.2 251.4,678.5 251.4,630.4 251.5,626.7 251.7,623.0 252.1,619.4 252.6,615.7 253.3,612.0 254.1,608.4 255.1,604.7Z" fill="#f99532"/>
<path d="M255.1,613.0 256.0,616.4 256.6,619.7 257.2,623.1 257.6,626.4 257.9,629.8 258.1,633.2 258.2,636.5 258.2,672.0 257.9,682.0 257.4,692.0 256.8,702.0 253.4,702.0 252.8,692.0 252.3,682.0 252.0,672.0 252.0,636.5 252.1,633.2 252.3,629.8 252.6,626.4 253.0,623.1 253.6,619.7 254.2,616.4 255.1,613.0Z" fill="#e34327"/>
<path d="M255.1,626.0 255.7,628.9 256.1,631.8 256.5,634.6 256.7,637.5 257.0,640.4 257.1,643.3 257.1,646.1 257.1,673.1 257.0,681.6 256.6,690.0 256.2,698.5 254.0,698.5 253.6,690.0 253.2,681.6 253.1,673.1 253.1,646.1 253.1,643.3 253.2,640.4 253.5,637.5 253.7,634.6 254.1,631.8 254.5,628.9 255.1,626.0Z" fill="#9a1a1e"/>
<path d="M264.6,629.3 266.0,632.4 267.1,635.6 268.0,638.7 268.8,641.9 269.3,645.0 269.6,648.2 269.7,651.3 269.7,684.0 269.3,691.3 268.5,698.7 267.4,706.0 261.7,706.0 260.6,698.7 259.8,691.3 259.4,684.0 259.4,651.3 259.5,648.2 259.8,645.0 260.3,641.9 261.1,638.7 262.0,635.6 263.1,632.4 264.6,629.3Z" fill="#c6e6f7"/>
<path d="M264.6,645.8 265.8,648.7 266.8,651.5 267.6,654.4 268.3,657.2 268.8,660.1 269.1,662.9 269.2,665.8 269.2,684.0 268.8,690.8 268.0,697.7 267.1,704.5 262.0,704.5 261.1,697.7 260.3,690.8 259.9,684.0 259.9,665.8 260.0,662.9 260.3,660.1 260.8,657.2 261.5,654.4 262.3,651.5 263.3,648.7 264.6,645.8Z" fill="#7bbde6"/>
<path d="M264.6,652.0 265.6,654.6 266.5,657.1 267.1,659.7 267.7,662.3 268.1,664.9 268.3,667.4 268.4,670.0 268.4,684.5 268.1,690.3 267.5,696.2 266.7,702.0 262.4,702.0 261.6,696.2 261.0,690.3 260.7,684.5 260.7,670.0 260.8,667.4 261.0,664.9 261.4,662.3 262.0,659.7 262.6,657.1 263.5,654.6 264.6,652.0Z" fill="#3375bd"/>
<path d="M264.6,662.0 265.4,664.6 266.1,667.1 266.7,669.7 267.2,672.3 267.5,674.9 267.7,677.4 267.8,680.0 267.8,685.7 267.5,690.0 267.0,694.2 266.3,698.5 262.8,698.5 262.1,694.2 261.6,690.0 261.3,685.7 261.3,680.0 261.4,677.4 261.6,674.9 261.9,672.3 262.4,669.7 263.0,667.1 263.7,664.6 264.6,662.0Z" fill="#1c3370"/>
<path d="M274.0,621.0 275.1,624.1 276.0,627.3 276.7,630.4 277.3,633.6 277.7,636.7 278.0,639.9 278.1,643.0 278.1,684.0 277.7,691.3 277.1,698.7 276.2,706.0 271.8,706.0 270.9,698.7 270.3,691.3 269.9,684.0 269.9,643.0 270.0,639.9 270.3,636.7 270.7,633.6 271.3,630.4 272.0,627.3 272.9,624.1 274.0,621.0Z" fill="#fddc82"/>
<path d="M274.0,629.3 275.0,632.2 275.8,635.0 276.4,637.9 277.0,640.7 277.3,643.6 277.6,646.4 277.6,649.3 277.6,678.5 277.3,687.2 276.8,695.8 276.0,704.5 272.0,704.5 271.2,695.8 270.7,687.2 270.4,678.5 270.4,649.3 270.4,646.4 270.7,643.6 271.0,640.7 271.6,637.9 272.2,635.0 273.0,632.2 274.0,629.3Z" fill="#f99532"/>
<path d="M274.0,642.5 274.8,645.1 275.3,647.6 275.8,650.2 276.2,652.8 276.5,655.4 276.7,657.9 276.7,660.5 276.7,681.2 276.5,688.1 276.1,695.1 275.5,702.0 272.5,702.0 271.9,695.1 271.5,688.1 271.3,681.2 271.3,660.5 271.3,657.9 271.5,655.4 271.8,652.8 272.2,650.2 272.7,647.6 273.2,645.1 274.0,642.5Z" fill="#e34327"/>
<path d="M274.0,654.0 274.6,656.6 275.0,659.1 275.3,661.7 275.6,664.3 275.8,666.9 275.9,669.4 276.0,672.0 276.0,682.9 275.8,688.1 275.5,693.3 275.1,698.5 272.9,698.5 272.5,693.3 272.2,688.1 272.0,682.9 272.0,672.0 272.1,669.4 272.2,666.9 272.4,664.3 272.7,661.7 273.0,659.1 273.4,656.6 274.0,654.0Z" fill="#9a1a1e"/>
<path d="M284.6,629.3 286.2,632.4 287.4,635.6 288.4,638.7 289.2,641.9 289.8,645.0 290.1,648.2 290.3,651.3 290.3,684.0 289.8,691.3 288.9,698.7 287.7,706.0 281.6,706.0 280.4,698.7 279.5,691.3 279.0,684.0 279.0,651.3 279.2,648.2 279.5,645.0 280.1,641.9 280.9,638.7 281.9,635.6 283.1,632.4 284.6,629.3Z" fill="#c6e6f7"/>
<path d="M284.6,645.8 286.0,648.7 287.1,651.5 288.0,654.4 288.7,657.2 289.2,660.1 289.5,662.9 289.6,665.8 289.6,684.0 289.2,690.8 288.4,697.7 287.4,704.5 281.9,704.5 280.9,697.7 280.1,690.8 279.7,684.0 279.7,665.8 279.8,662.9 280.1,660.1 280.6,657.2 281.3,654.4 282.2,651.5 283.3,648.7 284.6,645.8Z" fill="#7bbde6"/>
<path d="M294.0,626.3 294.8,629.4 295.3,632.6 295.8,635.7 296.2,638.9 296.5,642.0 296.6,645.2 296.7,648.3 296.7,684.0 296.5,691.3 296.0,698.7 295.5,706.0 292.5,706.0 292.0,698.7 291.5,691.3 291.3,684.0 291.3,648.3 291.4,645.2 291.5,642.0 291.8,638.9 292.2,635.7 292.7,632.6 293.2,629.4 294.0,626.3Z" fill="#fddc82"/>
<path d="M294.0,635.3 294.7,638.2 295.2,641.0 295.6,643.9 296.0,646.7 296.2,649.6 296.4,652.4 296.4,655.3 296.4,680.3 296.2,688.4 295.8,696.4 295.3,704.5 292.7,704.5 292.2,696.4 291.8,688.4 291.6,680.3 291.6,655.3 291.6,652.4 291.8,649.6 292.0,646.7 292.4,643.9 292.8,641.0 293.3,638.2 294.0,635.3Z" fill="#f99532"/>
<path d="M294.0,650.4 294.5,653.0 294.9,655.5 295.2,658.1 295.4,660.7 295.6,663.3 295.7,665.8 295.8,668.4 295.8,683.9 295.6,690.0 295.3,696.0 295.0,702.0 293.0,702.0 292.7,696.0 292.4,690.0 292.2,683.9 292.2,668.4 292.3,665.8 292.4,663.3 292.6,660.7 292.8,658.1 293.1,655.5 293.5,653.0 294.0,650.4Z" fill="#e34327"/>
<path d="M298.9,643.0 299.5,646.1 299.9,649.3 300.2,652.4 300.5,655.6 300.7,658.7 300.9,661.9 300.9,665.0 300.9,684.0 300.7,691.3 300.4,698.7 300.0,706.0 297.8,706.0 297.4,698.7 297.1,691.3 296.9,684.0 296.9,665.0 296.9,661.9 297.1,658.7 297.3,655.6 297.6,652.4 297.9,649.3 298.3,646.1 298.9,643.0Z" fill="#c6e6f7"/>
<path d="M298.9,648.0 299.4,650.9 299.8,653.7 300.1,656.6 300.4,659.4 300.6,662.3 300.7,665.1 300.8,668.0 300.8,684.7 300.6,691.3 300.3,697.9 299.9,704.5 297.9,704.5 297.5,697.9 297.2,691.3 297.0,684.7 297.0,668.0 297.1,665.1 297.2,662.3 297.4,659.4 297.7,656.6 298.0,653.7 298.4,650.9 298.9,648.0Z" fill="#7bbde6"/>
<path d="M298.9,650.4 299.4,653.0 299.7,655.5 300.0,658.1 300.3,660.7 300.4,663.3 300.5,665.8 300.6,668.4 300.6,683.9 300.4,690.0 300.2,696.0 299.8,702.0 298.0,702.0 297.6,696.0 297.4,690.0 297.2,683.9 297.2,668.4 297.3,665.8 297.4,663.3 297.5,660.7 297.8,658.1 298.1,655.5 298.4,653.0 298.9,650.4Z" fill="#3375bd"/>
<path d="M298.9,653.0 299.3,655.6 299.6,658.1 299.9,660.7 300.1,663.3 300.2,665.9 300.3,668.4 300.3,671.0 300.3,682.6 300.2,687.9 300.0,693.2 299.7,698.5 298.1,698.5 297.8,693.2 297.6,687.9 297.5,682.6 297.5,671.0 297.5,668.4 297.6,665.9 297.7,663.3 297.9,660.7 298.2,658.1 298.5,655.6 298.9,653.0Z" fill="#1c3370"/>
<path d="M303.9,620.2 304.6,623.3 305.2,626.5 305.7,629.6 306.1,632.8 306.4,635.9 306.5,639.1 306.6,642.2 306.6,684.0 306.4,691.3 305.9,698.7 305.4,706.0 302.3,706.0 301.8,698.7 301.3,691.3 301.1,684.0 301.1,642.2 301.2,639.1 301.3,635.9 301.6,632.8 302.0,629.6 302.5,626.5 303.1,623.3 303.9,620.2Z" fill="#fddc82"/>
<path d="M303.9,630.8 304.5,633.7 305.1,636.5 305.5,639.4 305.8,642.2 306.1,645.1 306.2,647.9 306.3,650.8 306.3,678.7 306.1,687.3 305.7,695.9 305.2,704.5 302.5,704.5 302.0,695.9 301.6,687.3 301.4,678.7 301.4,650.8 301.5,647.9 301.6,645.1 301.9,642.2 302.2,639.4 302.6,636.5 303.2,633.7 303.9,630.8Z" fill="#f99532"/>
<path d="M303.9,640.0 304.4,642.6 304.8,645.1 305.1,647.7 305.4,650.3 305.6,652.9 305.7,655.4 305.7,658.0 305.7,680.3 305.6,687.5 305.3,694.8 304.9,702.0 302.8,702.0 302.4,694.8 302.1,687.5 302.0,680.3 302.0,658.0 302.0,655.4 302.1,652.9 302.3,650.3 302.6,647.7 302.9,645.1 303.3,642.6 303.9,640.0Z" fill="#e34327"/>
<path d="M303.9,658.0 304.2,660.6 304.5,663.1 304.8,665.7 304.9,668.3 305.1,670.9 305.2,673.4 305.2,676.0 305.2,684.3 305.1,689.1 304.9,693.8 304.6,698.5 303.1,698.5 302.8,693.8 302.6,689.1 302.5,684.3 302.5,676.0 302.5,673.4 302.6,670.9 302.8,668.3 302.9,665.7 303.2,663.1 303.5,660.6 303.9,658.0Z" fill="#9a1a1e"/>
<path d="M309.5,630.8 310.3,633.9 310.9,637.1 311.4,640.2 311.8,643.4 312.1,646.5 312.3,649.7 312.3,652.8 312.3,684.0 312.1,691.3 311.7,698.7 311.1,706.0 308.0,706.0 307.4,698.7 307.0,691.3 306.8,684.0 306.8,652.8 306.8,649.7 307.0,646.5 307.3,643.4 307.7,640.2 308.2,637.1 308.8,633.9 309.5,630.8Z" fill="#c6e6f7"/>
<path d="M309.5,643.0 310.3,645.9 310.8,648.7 311.2,651.6 311.6,654.4 311.9,657.3 312.0,660.1 312.1,663.0 312.1,683.0 311.8,690.1 311.5,697.3 310.9,704.5 308.2,704.5 307.6,697.3 307.3,690.1 307.0,683.0 307.0,663.0 307.1,660.1 307.2,657.3 307.5,654.4 307.9,651.6 308.3,648.7 308.8,645.9 309.5,643.0Z" fill="#7bbde6"/>
<path d="M309.5,650.0 310.1,652.6 310.6,655.1 310.9,657.7 311.2,660.3 311.5,662.9 311.6,665.4 311.6,668.0 311.6,683.8 311.5,689.9 311.1,695.9 310.7,702.0 308.4,702.0 308.0,695.9 307.6,689.9 307.5,683.8 307.5,668.0 307.5,665.4 307.6,662.9 307.9,660.3 308.2,657.7 308.5,655.1 309.0,652.6 309.5,650.0Z" fill="#3375bd"/>
<path d="M309.5,653.4 310.0,656.0 310.4,658.5 310.7,661.1 310.9,663.7 311.1,666.3 311.2,668.8 311.3,671.4 311.3,682.7 311.1,688.0 310.8,693.2 310.5,698.5 308.6,698.5 308.3,693.2 308.0,688.0 307.8,682.7 307.8,671.4 307.9,668.8 308.0,666.3 308.2,663.7 308.4,661.1 308.7,658.5 309.1,656.0 309.5,653.4Z" fill="#1c3370"/>
<path d="M316.4,612.7 317.2,616.1 317.8,619.4 318.4,622.8 318.8,626.2 319.1,629.6 319.3,632.9 319.4,636.3 319.4,684.0 319.1,691.3 318.6,698.7 318.0,706.0 314.7,706.0 314.1,698.7 313.6,691.3 313.3,684.0 313.3,636.3 313.4,632.9 313.6,629.6 313.9,626.2 314.3,622.8 314.9,619.4 315.5,616.1 316.4,612.7Z" fill="#fddc82"/>
<path d="M316.4,620.2 317.1,623.3 317.7,626.4 318.2,629.5 318.6,632.6 318.9,635.7 319.0,638.8 319.1,641.9 319.1,678.5 318.8,687.2 318.4,695.8 317.9,704.5 314.8,704.5 314.3,695.8 313.9,687.2 313.6,678.5 313.6,641.9 313.7,638.8 313.8,635.7 314.1,632.6 314.5,629.5 315.0,626.4 315.6,623.3 316.4,620.2Z" fill="#f99532"/>
<path d="M316.4,627.8 317.0,630.6 317.5,633.4 317.9,636.2 318.2,639.0 318.4,641.9 318.6,644.7 318.6,647.5 318.6,676.0 318.4,684.7 318.1,693.3 317.6,702.0 315.1,702.0 314.6,693.3 314.3,684.7 314.1,676.0 314.1,647.5 314.1,644.7 314.3,641.9 314.5,639.0 314.8,636.2 315.2,633.4 315.7,630.6 316.4,627.8Z" fill="#e34327"/>
<path d="M316.4,635.3 316.8,637.9 317.1,640.4 317.4,643.0 317.6,645.6 317.8,648.2 317.9,650.7 317.9,653.3 317.9,676.4 317.8,683.8 317.5,691.1 317.2,698.5 315.5,698.5 315.2,691.1 314.9,683.8 314.8,676.4 314.8,653.3 314.8,650.7 314.9,648.2 315.1,645.6 315.3,643.0 315.6,640.4 315.9,637.9 316.4,635.3Z" fill="#9a1a1e"/>
<path d="M322.0,640.0 322.7,643.1 323.2,646.3 323.6,649.4 324.0,652.6 324.2,655.7 324.4,658.9 324.4,662.0 324.4,684.0 324.2,691.3 323.8,698.7 323.3,706.0 320.7,706.0 320.2,698.7 319.8,691.3 319.6,684.0 319.6,662.0 319.6,658.9 319.8,655.7 320.0,652.6 320.4,649.4 320.8,646.3 321.3,643.1 322.0,640.0Z" fill="#c6e6f7"/>
<path d="M322.0,647.4 322.6,650.3 323.1,653.1 323.5,656.0 323.8,658.8 324.0,661.7 324.2,664.5 324.2,667.4 324.2,684.5 324.0,691.2 323.7,697.8 323.2,704.5 320.8,704.5 320.3,697.8 320.0,691.2 319.8,684.5 319.8,667.4 319.8,664.5 320.0,661.7 320.2,658.8 320.5,656.0 320.9,653.1 321.4,650.3 322.0,647.4Z" fill="#7bbde6"/>
<path d="M322.0,653.0 322.5,655.6 322.9,658.1 323.3,660.7 323.5,663.3 323.7,665.9 323.9,668.4 323.9,671.0 323.9,684.9 323.7,690.6 323.4,696.3 323.0,702.0 321.0,702.0 320.6,696.3 320.3,690.6 320.1,684.9 320.1,671.0 320.1,668.4 320.3,665.9 320.5,663.3 320.7,660.7 321.1,658.1 321.5,655.6 322.0,653.0Z" fill="#3375bd"/>
<path d="M322.0,658.0 322.4,660.6 322.7,663.1 323.0,665.7 323.2,668.3 323.4,670.9 323.5,673.4 323.5,676.0 323.5,684.3 323.4,689.1 323.1,693.8 322.8,698.5 321.2,698.5 320.9,693.8 320.6,689.1 320.5,684.3 320.5,676.0 320.5,673.4 320.6,670.9 320.8,668.3 321.0,665.7 321.3,663.1 321.6,660.6 322.0,658.0Z" fill="#1c3370"/>
<path d="M326.6,680.6 327.1,682.6 327.5,684.6 327.9,686.6 328.2,688.6 328.4,690.6 328.5,692.6 328.6,694.6 328.6,697.1 328.4,700.1 328.1,703.0 327.7,706.0 325.4,706.0 325.0,703.0 324.7,700.1 324.5,697.1 324.5,694.6 324.6,692.6 324.7,690.6 324.9,688.6 325.2,686.6 325.6,684.6 326.0,682.6 326.6,680.6Z" fill="#fddc82"/>
<path d="M333.4,640.0 334.7,643.1 335.8,646.3 336.6,649.4 337.3,652.6 337.8,655.7 338.1,658.9 338.2,662.0 338.2,684.0 337.8,691.3 337.0,698.7 336.1,706.0 330.7,706.0 329.8,698.7 329.0,691.3 328.6,684.0 328.6,662.0 328.7,658.9 329.0,655.7 329.5,652.6 330.2,649.4 331.0,646.3 332.1,643.1 333.4,640.0Z" fill="#c6e6f7"/>
<path d="M333.4,658.0 334.6,660.9 335.5,663.7 336.2,666.6 336.8,669.4 337.3,672.3 337.5,675.1 337.6,678.0 337.6,688.2 337.2,693.6 336.6,699.1 335.7,704.5 331.1,704.5 330.2,699.1 329.6,693.6 329.2,688.2 329.2,678.0 329.3,675.1 329.5,672.3 330.0,669.4 330.6,666.6 331.3,663.7 332.2,660.9 333.4,658.0Z" fill="#7bbde6"/>
<path d="M342.3,609.7 343.1,613.2 343.6,616.7 344.1,620.2 344.5,623.6 344.8,627.1 344.9,630.6 345.0,634.1 345.0,684.0 344.8,691.3 344.3,698.7 343.8,706.0 340.8,706.0 340.3,698.7 339.8,691.3 339.6,684.0 339.6,634.1 339.7,630.6 339.8,627.1 340.1,623.6 340.5,620.2 341.0,616.7 341.5,613.2 342.3,609.7Z" fill="#fddc82"/>
<path d="M342.3,620.3 343.0,623.4 343.5,626.5 343.9,629.6 344.3,632.7 344.5,635.8 344.7,638.8 344.7,641.9 344.7,678.5 344.5,687.2 344.1,695.8 343.6,704.5 341.0,704.5 340.5,695.8 340.1,687.2 339.9,678.5 339.9,641.9 339.9,638.8 340.1,635.8 340.3,632.7 340.7,629.6 341.1,626.5 341.6,623.4 342.3,620.3Z" fill="#f99532"/>
<path d="M342.3,629.3 342.8,632.1 343.2,634.8 343.6,637.6 343.9,640.3 344.1,643.1 344.2,645.8 344.2,648.6 344.2,676.6 344.1,685.0 343.8,693.5 343.4,702.0 341.2,702.0 340.8,693.5 340.5,685.0 340.4,676.6 340.4,648.6 340.4,645.8 340.5,643.1 340.7,640.3 341.0,637.6 341.4,634.8 341.8,632.1 342.3,629.3Z" fill="#e34327"/>
<path d="M342.3,643.0 342.7,645.6 343.0,648.1 343.2,650.7 343.4,653.3 343.5,655.9 343.6,658.4 343.6,661.0 343.6,679.1 343.5,685.6 343.3,692.0 343.0,698.5 341.6,698.5 341.3,692.0 341.1,685.6 341.0,679.1 341.0,661.0 341.0,658.4 341.1,655.9 341.2,653.3 341.4,650.7 341.6,648.1 341.9,645.6 342.3,643.0Z" fill="#9a1a1e"/>
<path d="M346.5,640.0 346.8,643.1 347.0,646.3 347.3,649.4 347.4,652.6 347.6,655.7 347.6,658.9 347.7,662.0 347.7,684.0 347.6,691.3 347.4,698.7 347.1,706.0 345.8,706.0 345.5,698.7 345.3,691.3 345.2,684.0 345.2,662.0 345.3,658.9 345.3,655.7 345.5,652.6 345.6,649.4 345.9,646.3 346.1,643.1 346.5,640.0Z" fill="#c6e6f7"/>
<path d="M352.1,620.3 353.3,623.4 354.2,626.6 354.9,629.7 355.5,632.9 355.9,636.0 356.2,639.2 356.2,642.3 356.2,684.0 355.9,691.3 355.2,698.7 354.4,706.0 349.9,706.0 349.1,698.7 348.4,691.3 348.1,684.0 348.1,642.3 348.1,639.2 348.4,636.0 348.8,632.9 349.4,629.7 350.1,626.6 351.0,623.4 352.1,620.3Z" fill="#fddc82"/>
<path d="M352.1,627.8 353.2,630.7 354.0,633.5 354.6,636.4 355.2,639.2 355.5,642.1 355.8,644.9 355.9,647.8 355.9,678.5 355.5,687.2 354.9,695.8 354.2,704.5 350.1,704.5 349.4,695.8 348.8,687.2 348.4,678.5 348.4,647.8 348.5,644.9 348.8,642.1 349.1,639.2 349.7,636.4 350.3,633.5 351.1,630.7 352.1,627.8Z" fill="#f99532"/>
<path d="M352.1,643.0 352.9,645.6 353.5,648.1 354.0,650.7 354.3,653.3 354.6,655.9 354.8,658.4 354.9,661.0 354.9,681.4 354.6,688.2 354.2,695.1 353.6,702.0 350.7,702.0 350.1,695.1 349.7,688.2 349.4,681.4 349.4,661.0 349.5,658.4 349.7,655.9 350.0,653.3 350.3,650.7 350.8,648.1 351.4,645.6 352.1,643.0Z" fill="#e34327"/>
<path d="M352.1,653.5 352.7,656.1 353.1,658.6 353.5,661.2 353.8,663.8 354.0,666.4 354.1,668.9 354.2,671.5 354.2,682.8 354.0,688.0 353.7,693.2 353.3,698.5 351.0,698.5 350.6,693.2 350.3,688.0 350.1,682.8 350.1,671.5 350.2,668.9 350.3,666.4 350.5,663.8 350.8,661.2 351.2,658.6 351.6,656.1 352.1,653.5Z" fill="#9a1a1e"/>
<path d="M358.9,627.8 359.6,630.9 360.1,634.1 360.5,637.2 360.9,640.4 361.1,643.5 361.3,646.7 361.3,649.8 361.3,684.0 361.1,691.3 360.7,698.7 360.2,706.0 357.7,706.0 357.2,698.7 356.8,691.3 356.6,684.0 356.6,649.8 356.6,646.7 356.8,643.5 357.0,640.4 357.4,637.2 357.8,634.1 358.3,630.9 358.9,627.8Z" fill="#c6e6f7"/>
<path d="M358.9,643.0 359.5,645.9 360.0,648.7 360.4,651.6 360.7,654.4 360.9,657.3 361.0,660.1 361.1,663.0 361.1,683.0 360.9,690.1 360.5,697.3 360.1,704.5 357.8,704.5 357.4,697.3 357.0,690.1 356.8,683.0 356.8,663.0 356.9,660.1 357.0,657.3 357.2,654.4 357.5,651.6 357.9,648.7 358.4,645.9 358.9,643.0Z" fill="#7bbde6"/>
<path d="M358.9,655.0 359.4,657.6 359.8,660.1 360.1,662.7 360.4,665.3 360.6,667.9 360.7,670.4 360.7,673.0 360.7,685.5 360.6,691.0 360.3,696.5 359.9,702.0 358.0,702.0 357.6,696.5 357.3,691.0 357.2,685.5 357.2,673.0 357.2,670.4 357.3,667.9 357.5,665.3 357.8,662.7 358.1,660.1 358.5,657.6 358.9,655.0Z" fill="#3375bd"/>
<path d="M358.9,668.0 359.4,670.4 359.7,672.8 359.9,675.2 360.1,677.6 360.3,680.0 360.4,682.4 360.4,684.8 360.4,687.8 360.3,691.4 360.1,694.9 359.8,698.5 358.1,698.5 357.8,694.9 357.6,691.4 357.5,687.8 357.5,684.8 357.5,682.4 357.6,680.0 357.8,677.6 358.0,675.2 358.2,672.8 358.5,670.4 358.9,668.0Z" fill="#1c3370"/>
<path d="M364.6,620.3 365.5,623.4 366.1,626.6 366.6,629.7 367.1,632.9 367.4,636.0 367.6,639.2 367.7,642.3 367.7,684.0 367.4,691.3 366.9,698.7 366.3,706.0 362.9,706.0 362.3,698.7 361.8,691.3 361.5,684.0 361.5,642.3 361.6,639.2 361.8,636.0 362.1,632.9 362.6,629.7 363.1,626.6 363.7,623.4 364.6,620.3Z" fill="#fddc82"/>
<path d="M364.6,634.0 365.3,636.9 365.9,639.7 366.4,642.6 366.8,645.4 367.0,648.3 367.2,651.1 367.3,654.0 367.3,679.8 367.0,688.1 366.6,696.3 366.1,704.5 363.1,704.5 362.6,696.3 362.2,688.1 361.9,679.8 361.9,654.0 362.0,651.1 362.2,648.3 362.4,645.4 362.8,642.6 363.3,639.7 363.9,636.9 364.6,634.0Z" fill="#f99532"/>
<path d="M364.6,647.5 365.2,650.1 365.6,652.6 366.0,655.2 366.2,657.8 366.4,660.4 366.6,662.9 366.6,665.5 366.6,682.9 366.4,689.3 366.1,695.6 365.7,702.0 363.5,702.0 363.1,695.6 362.8,689.3 362.6,682.9 362.6,665.5 362.6,662.9 362.8,660.4 363.0,657.8 363.2,655.2 363.6,652.6 364.0,650.1 364.6,647.5Z" fill="#e34327"/>
<path d="M364.6,658.0 365.0,660.6 365.3,663.1 365.6,665.7 365.8,668.3 366.0,670.9 366.1,673.4 366.1,676.0 366.1,684.3 366.0,689.1 365.7,693.8 365.4,698.5 363.8,698.5 363.5,693.8 363.2,689.1 363.1,684.3 363.1,676.0 363.1,673.4 363.2,670.9 363.4,668.3 363.6,665.7 363.9,663.1 364.2,660.6 364.6,658.0Z" fill="#9a1a1e"/>
<path d="M370.6,627.8 371.4,630.9 372.0,634.1 372.5,637.2 372.9,640.4 373.2,643.5 373.4,646.7 373.4,649.8 373.4,684.0 373.2,691.3 372.8,698.7 372.2,706.0 369.1,706.0 368.5,698.7 368.1,691.3 367.9,684.0 367.9,649.8 367.9,646.7 368.1,643.5 368.4,640.4 368.8,637.2 369.3,634.1 369.9,630.9 370.6,627.8Z" fill="#c6e6f7"/>
<path d="M370.6,658.0 371.3,660.9 371.8,663.7 372.3,666.6 372.6,669.4 372.9,672.3 373.0,675.1 373.1,678.0 373.1,688.2 372.9,693.6 372.5,699.1 372.0,704.5 369.3,704.5 368.8,699.1 368.4,693.6 368.2,688.2 368.2,678.0 368.3,675.1 368.4,672.3 368.7,669.4 369.0,666.6 369.5,663.7 370.0,660.9 370.6,658.0Z" fill="#7bbde6"/>
<path d="M374.6,673.0 374.9,675.6 375.0,678.2 375.2,680.8 375.3,683.4 375.4,686.0 375.5,688.6 375.5,691.1 375.5,694.5 375.4,698.3 375.3,702.2 375.1,706.0 374.1,706.0 373.9,702.2 373.8,698.3 373.7,694.5 373.7,691.1 373.7,688.6 373.8,686.0 373.9,683.4 374.0,680.8 374.2,678.2 374.3,675.6 374.6,673.0Z" fill="#fddc82"/>
</g>
<path d="M50.0,703.5 L56.2,703.6 L62.5,703.8 L68.8,704.0 L75.0,704.1 L81.2,704.2 L87.5,704.6 L93.8,704.9 L100.0,705.0 L106.2,705.0 L112.5,705.1 L118.8,705.2 L125.0,705.4 L131.2,705.5 L137.5,705.6 L143.8,705.7 L150.0,705.7 L156.3,705.7 L162.6,705.7 L168.9,705.7 L175.2,705.7 L181.5,705.7 L187.8,705.7 L194.1,705.7 L200.4,705.7 L206.7,705.7 L213.0,705.7 L219.3,705.6 L225.7,705.2 L232.0,705.1 L238.0,704.8 L244.0,704.1 L250.0,703.8 L256.0,704.2 L262.0,704.7 L270.0,705.5 L280.0,704.5 L290.0,703.0 L296.7,703.0 L303.3,703.0 L310.0,703.0 L316.7,703.1 L323.3,703.1 L330.0,703.1 L336.2,703.1 L342.4,703.1 L348.7,703.1 L354.9,703.1 L361.1,703.2 L367.4,703.2 L373.6,703.2 L379.8,703.2 L379.8,720.6 L50.0,720.6Z" fill="#c6c6c6"/>
<polyline points="50.0,703.5 56.2,703.6 62.5,703.8 68.8,704.0 75.0,704.1 81.2,704.2 87.5,704.6 93.8,704.9 100.0,705.0 106.2,705.0 112.5,705.1 118.8,705.2 125.0,705.4 131.2,705.5 137.5,705.6 143.8,705.7 150.0,705.7 156.3,705.7 162.6,705.7 168.9,705.7 175.2,705.7 181.5,705.7 187.8,705.7 194.1,705.7 200.4,705.7 206.7,705.7 213.0,705.7 219.3,705.6 225.7,705.2 232.0,705.1 238.0,704.8 244.0,704.1 250.0,703.8 256.0,704.2 262.0,704.7 270.0,705.5 280.0,704.5 290.0,703.0 296.7,703.0 303.3,703.0 310.0,703.0 316.7,703.1 323.3,703.1 330.0,703.1 336.2,703.1 342.4,703.1 348.7,703.1 354.9,703.1 361.1,703.2 367.4,703.2 373.6,703.2 379.8,703.2" fill="none" stroke="#7a7a7a" stroke-width="0.9"/>
<path d="M52.0,612.5C52.2,610.3 52.5,601.5 53.1,600.0C53.7,598.5 54.8,602.4 55.2,604.2C55.8,607.5 56.4,612.9 56.7,618.8C57.2,627.5 57.5,645.1 57.9,654.0C58.2,660.3 58.2,669.8 58.8,669.8C59.3,669.8 60.1,660.3 60.8,654.0C61.6,646.9 62.5,638.1 63.5,629.0C64.5,619.9 65.3,609.3 66.2,602.0C67.0,596.2 68.0,590.3 68.8,587.5C69.0,586.5 70.5,584.8 70.8,585.8C71.5,588.3 72.0,595.5 72.5,602.0C73.2,610.3 73.9,622.7 74.6,633.3C75.3,643.9 76.0,658.1 76.7,662.5C77.0,664.3 78.5,660.1 78.8,658.3C79.5,653.2 80.5,639.9 81.2,633.3C81.9,628.3 82.6,621.9 83.3,620.8C84.0,619.7 84.8,624.4 85.0,627.0C85.6,632.8 86.0,643.2 86.5,654.0C87.0,666.6 87.6,697.1 88.1,699.0C88.6,700.9 89.2,678.4 89.6,664.6C90.0,649.5 90.2,624.3 90.6,612.5C90.8,606.3 91.1,599.5 91.7,597.0C91.9,596.1 93.5,597.1 93.8,598.0C94.4,600.0 94.8,605.2 95.4,608.3C95.9,611.2 95.9,614.7 96.9,615.6C97.9,616.5 99.5,614.0 101.0,613.5C102.5,613.0 104.3,614.0 105.2,612.5C106.4,610.5 107.2,603.1 107.9,602.0C108.6,600.9 108.9,604.6 109.4,606.2C109.9,607.9 110.3,612.1 110.8,611.5C111.3,610.9 111.9,603.6 112.5,603.0C113.1,602.4 113.9,606.1 114.2,608.3C114.9,613.6 115.6,623.8 116.2,633.3C116.9,642.8 117.1,658.1 117.7,662.5C118.0,664.4 119.6,660.2 119.8,658.3C120.6,649.5 121.6,626.0 122.5,612.5C123.3,600.0 124.1,587.1 125.0,581.2C125.2,579.9 126.9,577.8 127.5,579.0C128.4,580.8 129.6,586.5 130.0,591.7C130.7,601.2 131.2,621.6 131.7,633.3C132.2,643.3 132.6,651.0 133.1,658.3C133.6,665.0 134.0,677.5 134.6,675.0C135.2,672.5 135.7,655.4 136.2,643.8C136.8,632.1 137.3,617.5 137.9,608.3C138.3,601.5 138.9,593.8 139.4,591.2C139.6,590.1 140.9,592.6 141.0,593.8C141.5,599.3 142.0,613.3 142.5,623.0C143.0,632.7 143.6,648.0 144.0,649.0C144.4,650.0 144.6,637.0 145.0,629.0C145.5,619.8 145.7,601.9 146.7,596.2C147.0,594.6 150.4,595.3 150.8,596.9C151.9,601.6 152.2,612.5 152.9,623.0C153.6,634.5 154.3,654.1 155.0,662.5C155.3,665.9 156.2,672.3 156.7,670.8C157.2,669.3 157.6,660.8 158.1,654.2C158.7,645.8 159.5,633.2 160.2,623.0C160.9,612.8 161.6,603.7 162.3,595.8C163.0,588.7 163.9,581.1 164.4,578.0C164.5,577.6 165.0,578.0 165.4,578.0C166.9,578.0 171.7,578.0 173.2,578.0C173.6,578.0 174.1,577.6 174.2,578.0C174.7,580.4 175.3,586.2 175.8,591.7C176.4,598.5 177.2,609.1 177.9,616.7C178.6,624.2 178.9,629.9 179.6,635.4C180.3,640.5 181.2,644.4 182.1,648.0C182.9,651.4 183.7,657.4 184.6,656.2C185.5,655.1 186.4,645.8 187.3,641.7C188.1,638.0 189.3,636.4 190.0,632.7C191.1,627.0 192.4,615.2 193.4,609.0C194.2,604.2 195.1,599.4 195.9,597.0C196.3,596.0 197.5,596.3 198.1,595.4C198.9,594.2 199.7,592.4 200.2,590.3C200.9,587.3 201.6,580.4 202.2,578.5C202.4,577.8 203.7,578.6 203.9,579.3C204.5,581.1 205.1,584.8 205.6,588.6C206.1,592.9 206.6,597.8 207.0,603.9C207.5,612.5 207.9,624.2 208.6,637.8C209.3,652.0 210.4,680.6 211.2,685.2C212.0,689.9 212.5,672.9 213.1,664.6C213.8,655.5 214.5,644.3 215.2,633.3C215.9,622.3 216.5,610.2 217.3,602.0C217.9,595.7 219.2,587.9 220.0,586.5C220.8,585.1 221.5,590.8 222.1,593.8C222.9,597.6 224.0,602.4 224.6,608.3C225.4,616.0 226.0,627.3 226.7,637.5C227.4,647.7 228.0,665.2 228.8,666.7C229.5,668.2 229.9,654.2 230.8,645.8C231.7,637.0 232.9,624.4 234.0,616.7C234.9,610.8 236.2,603.5 237.1,602.0C238.0,600.5 238.9,605.7 239.2,608.3C239.9,613.8 240.3,624.5 241.2,633.3C242.2,642.0 243.5,655.4 244.4,658.3C245.3,661.2 246.1,653.4 246.5,650.0C247.3,642.7 248.3,626.5 249.2,616.7C250.1,607.5 250.8,599.4 251.7,593.8C252.3,589.9 253.5,584.8 254.4,584.4C255.3,584.0 256.4,588.6 256.9,591.7C257.8,597.7 258.7,608.5 259.6,618.8C260.5,629.0 261.3,642.0 262.1,650.0C262.7,655.7 263.5,664.2 264.2,664.2C264.9,664.2 265.6,655.7 266.2,650.0C267.2,641.7 268.4,625.5 269.4,616.7C270.2,610.0 271.2,603.3 272.1,600.0C272.4,598.8 273.9,596.9 274.6,598.0C275.6,599.5 277.0,604.1 277.7,608.3C278.8,614.5 279.7,625.3 280.8,633.3C281.9,641.3 283.1,649.8 284.0,654.2C284.4,656.0 285.3,659.0 286.0,658.3C286.7,657.6 287.6,653.4 288.1,650.0C288.8,645.6 289.4,640.0 290.0,633.3C290.7,626.4 291.2,616.3 291.9,610.4C292.4,606.1 293.5,600.2 294.2,599.8C294.9,599.4 295.6,604.7 295.9,608.0C296.5,614.0 296.9,626.1 297.5,633.9C298.1,641.4 298.7,651.8 299.4,652.6C300.1,653.4 301.0,644.2 301.7,638.6C302.5,632.0 303.2,621.6 304.0,615.0C304.7,609.4 305.6,601.8 306.4,601.0C307.2,600.2 308.0,606.6 308.3,610.4C309.0,620.3 309.8,652.4 310.6,657.3C311.4,662.2 312.2,646.1 313.0,638.6C313.8,630.4 314.4,617.6 315.3,610.4C316.0,605.2 317.2,598.7 318.1,597.5C319.0,596.3 320.0,600.9 320.5,603.4C321.3,607.7 322.1,617.4 322.8,622.1C323.3,625.5 324.1,630.8 324.7,630.4C325.3,630.0 325.7,620.4 326.3,619.8C326.9,619.2 327.7,623.9 328.0,626.8C328.6,632.1 329.2,644.1 329.8,650.3C330.3,655.0 330.9,663.2 331.7,662.0C332.5,660.8 333.2,650.8 334.5,643.3C335.8,635.5 337.8,625.4 339.2,617.4C340.6,609.4 341.7,600.4 342.7,597.5C343.3,595.9 344.9,599.3 345.0,601.0C345.8,609.4 346.4,636.1 347.0,645.6C347.3,649.4 348.0,658.8 348.6,655.0C349.3,650.9 350.0,632.2 350.9,622.1C351.8,612.2 352.8,601.8 353.8,597.5C354.0,596.5 356.0,596.5 356.3,597.5C357.0,599.8 357.7,605.2 358.0,610.4C358.7,622.9 359.5,662.8 360.3,669.0C361.1,675.2 361.7,654.6 362.6,645.6C363.6,636.6 364.7,621.9 365.5,617.4C365.7,616.2 367.1,618.6 367.3,619.8C368.0,624.7 369.1,637.4 369.7,645.6C370.3,653.8 370.2,665.5 370.9,666.7C371.5,667.9 372.4,657.5 373.2,652.6C374.0,647.7 374.7,640.6 375.5,638.6C376.0,637.3 377.5,640.6 377.9,641.0" fill="none" stroke="#ff0d0d" stroke-width="1.55" stroke-linejoin="round"/>
</g>
<rect x="52.0" y="523.5" width="325.8" height="195.1" fill="none" stroke="#1a1a1a" stroke-width="1.3"/>
<path d="M52.0,523.5V517.0 M52.0,718.6V725.1 M68.3,523.5V520.5 M68.3,718.6V721.6 M84.6,523.5V520.5 M84.6,718.6V721.6 M100.9,523.5V520.5 M100.9,718.6V721.6 M117.2,523.5V517.0 M117.2,718.6V725.1 M133.4,523.5V520.5 M133.4,718.6V721.6 M149.7,523.5V520.5 M149.7,718.6V721.6 M166.0,523.5V520.5 M166.0,718.6V721.6 M182.3,523.5V517.0 M182.3,718.6V725.1 M198.6,523.5V520.5 M198.6,718.6V721.6 M214.9,523.5V520.5 M214.9,718.6V721.6 M231.2,523.5V520.5 M231.2,718.6V721.6 M247.5,523.5V517.0 M247.5,718.6V725.1 M263.8,523.5V520.5 M263.8,718.6V721.6 M280.1,523.5V520.5 M280.1,718.6V721.6 M296.4,523.5V520.5 M296.4,718.6V721.6 M312.6,523.5V517.0 M312.6,718.6V725.1 M328.9,523.5V520.5 M328.9,718.6V721.6 M345.2,523.5V520.5 M345.2,718.6V721.6 M361.5,523.5V520.5 M361.5,718.6V721.6 M377.8,523.5V517.0 M377.8,718.6V725.1 M52.0,718.6H45.0 M377.8,718.6H384.3 M52.0,686.1H45.0 M377.8,686.1H384.3 M52.0,653.6H45.0 M377.8,653.6H384.3 M52.0,621.0H45.0 M377.8,621.0H384.3 M52.0,588.5H45.0 M377.8,588.5H384.3 M52.0,556.0H45.0 M377.8,556.0H384.3 M52.0,523.5H45.0 M377.8,523.5H384.3" stroke="#1a1a1a" stroke-width="1.2" fill="none"/>
<text x="52.0" y="739.4" text-anchor="middle" font-size="10.0" font-family="Liberation Sans, sans-serif" textLength="28.3" lengthAdjust="spacingAndGlyphs">41.00</text>
<text x="117.2" y="739.4" text-anchor="middle" font-size="10.0" font-family="Liberation Sans, sans-serif" textLength="28.3" lengthAdjust="spacingAndGlyphs">41.20</text>
<text x="182.3" y="739.4" text-anchor="middle" font-size="10.0" font-family="Liberation Sans, sans-serif" textLength="28.3" lengthAdjust="spacingAndGlyphs">41.40</text>
<text x="247.5" y="739.4" text-anchor="middle" font-size="10.0" font-family="Liberation Sans, sans-serif" textLength="28.3" lengthAdjust="spacingAndGlyphs">41.60</text>
<text x="312.6" y="739.4" text-anchor="middle" font-size="10.0" font-family="Liberation Sans, sans-serif" textLength="28.3" lengthAdjust="spacingAndGlyphs">41.80</text>
<text x="377.8" y="739.4" text-anchor="middle" font-size="10.0" font-family="Liberation Sans, sans-serif" textLength="28.3" lengthAdjust="spacingAndGlyphs">42.00</text>
<text x="41.2" y="722.2" text-anchor="end" font-size="10.6" font-family="Liberation Sans, sans-serif" textLength="16.2" lengthAdjust="spacingAndGlyphs">0.0</text>
<text x="41.2" y="689.7" text-anchor="end" font-size="10.6" font-family="Liberation Sans, sans-serif" textLength="16.2" lengthAdjust="spacingAndGlyphs">0.5</text>
<text x="41.2" y="657.2" text-anchor="end" font-size="10.6" font-family="Liberation Sans, sans-serif" textLength="16.2" lengthAdjust="spacingAndGlyphs">1.0</text>
<text x="41.2" y="624.6" text-anchor="end" font-size="10.6" font-family="Liberation Sans, sans-serif" textLength="16.2" lengthAdjust="spacingAndGlyphs">1.5</text>
<text x="41.2" y="592.1" text-anchor="end" font-size="10.6" font-family="Liberation Sans, sans-serif" textLength="16.2" lengthAdjust="spacingAndGlyphs">2.0</text>
<text x="41.2" y="559.6" text-anchor="end" font-size="10.6" font-family="Liberation Sans, sans-serif" textLength="16.2" lengthAdjust="spacingAndGlyphs">2.5</text>
<text x="41.2" y="527.1" text-anchor="end" font-size="10.6" font-family="Liberation Sans, sans-serif" textLength="16.2" lengthAdjust="spacingAndGlyphs">3.0</text>
<text x="51.5" y="511.6" text-anchor="start" font-size="12.5" font-family="Liberation Sans, sans-serif" textLength="76.6" lengthAdjust="spacingAndGlyphs">c) Cool roofs</text>
<text transform="translate(13.0,620.4) scale(1.2,1) rotate(-90)" text-anchor="middle" font-size="13.8" font-family="Liberation Sans, sans-serif" textLength="71" lengthAdjust="spacingAndGlyphs">Height (km)</text>
<rect x="395.0" y="560.30" width="19.8" height="15.48" fill="#9a1a1e" stroke="#555" stroke-width="0.8"/>
<rect x="395.0" y="575.78" width="19.8" height="15.48" fill="#e34327" stroke="#555" stroke-width="0.8"/>
<rect x="395.0" y="591.26" width="19.8" height="15.48" fill="#f99532" stroke="#555" stroke-width="0.8"/>
<rect x="395.0" y="606.74" width="19.8" height="15.48" fill="#fddc82" stroke="#555" stroke-width="0.8"/>
<rect x="395.0" y="622.22" width="19.8" height="15.48" fill="#fefcf5" stroke="#555" stroke-width="0.8"/>
<rect x="395.0" y="637.70" width="19.8" height="15.48" fill="#f4f9fd" stroke="#555" stroke-width="0.8"/>
<rect x="395.0" y="653.18" width="19.8" height="15.48" fill="#c6e6f7" stroke="#555" stroke-width="0.8"/>
<rect x="395.0" y="668.66" width="19.8" height="15.48" fill="#7bbde6" stroke="#555" stroke-width="0.8"/>
<rect x="395.0" y="684.14" width="19.8" height="15.48" fill="#3375bd" stroke="#555" stroke-width="0.8"/>
<rect x="395.0" y="699.62" width="19.8" height="15.48" fill="#1c3370" stroke="#555" stroke-width="0.8"/>
<text x="432.8" y="579.5" text-anchor="middle" font-size="10.3" font-family="Liberation Sans, sans-serif" textLength="5.8" lengthAdjust="spacingAndGlyphs">1</text>
<text x="432.8" y="595.0" text-anchor="middle" font-size="10.3" font-family="Liberation Sans, sans-serif" textLength="22.2" lengthAdjust="spacingAndGlyphs">0.75</text>
<text x="432.8" y="610.4" text-anchor="middle" font-size="10.3" font-family="Liberation Sans, sans-serif" textLength="16.4" lengthAdjust="spacingAndGlyphs">0.5</text>
<text x="432.8" y="625.9" text-anchor="middle" font-size="10.3" font-family="Liberation Sans, sans-serif" textLength="22.2" lengthAdjust="spacingAndGlyphs">0.25</text>
<text x="432.8" y="641.4" text-anchor="middle" font-size="10.3" font-family="Liberation Sans, sans-serif" textLength="6.6" lengthAdjust="spacingAndGlyphs">0</text>
<text x="432.8" y="656.9" text-anchor="middle" font-size="10.3" font-family="Liberation Sans, sans-serif" textLength="26.2" lengthAdjust="spacingAndGlyphs">-0.25</text>
<text x="432.8" y="672.4" text-anchor="middle" font-size="10.3" font-family="Liberation Sans, sans-serif" textLength="20.4" lengthAdjust="spacingAndGlyphs">-0.5</text>
<text x="432.8" y="687.8" text-anchor="middle" font-size="10.3" font-family="Liberation Sans, sans-serif" textLength="26.2" lengthAdjust="spacingAndGlyphs">-0.75</text>
<text x="432.8" y="703.3" text-anchor="middle" font-size="10.3" font-family="Liberation Sans, sans-serif" textLength="9.8" lengthAdjust="spacingAndGlyphs">-1</text>
<text x="420.3" y="543.8" text-anchor="middle" font-size="10.4" font-family="Liberation Sans, sans-serif" textLength="18.3" lengthAdjust="spacingAndGlyphs">m/s</text>
<path d="M52.5,739.5 V746.2 H212.4 V739.5 M131.4,746.2 V752.5" stroke="#1a1a1a" stroke-width="1.6" fill="none"/>
<path d="M217,739.5 V746.2 H377.3 V739.5 M297.2,746.2 V751" stroke="#1a1a1a" stroke-width="1.6" fill="none"/>
<text x="131.1" y="765.9" text-anchor="middle" font-size="15.6" font-family="Liberation Serif, serif" textLength="38.0" lengthAdjust="spacingAndGlyphs" font-weight="bold">Rural</text>
<text x="298.2" y="765.3" text-anchor="middle" font-size="15.6" font-family="Liberation Serif, serif" textLength="42.0" lengthAdjust="spacingAndGlyphs" font-weight="bold">Urban</text>
<text x="214.6" y="759.2" text-anchor="middle" font-size="13.2" font-family="Liberation Sans, sans-serif" textLength="54.6" lengthAdjust="spacingAndGlyphs">Latitude</text>
</svg>
</body></html>
